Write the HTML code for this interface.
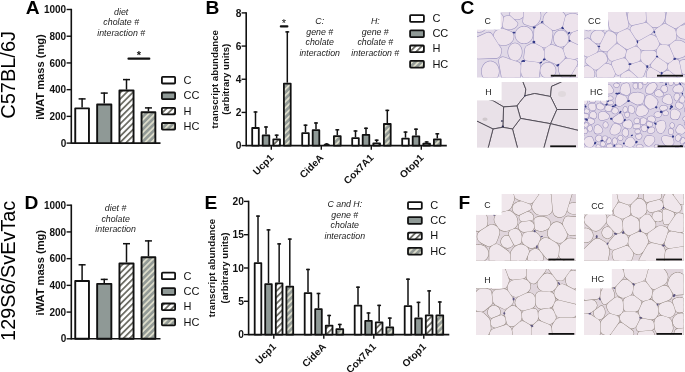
<!DOCTYPE html>
<html><head><meta charset="utf-8"><style>
html,body{margin:0;padding:0;background:#fff;overflow:hidden;}
svg{display:block;font-family:'Liberation Sans', Arial, Helvetica, sans-serif;}
</style></head><body>
<svg width="685" height="372" viewBox="0 0 685 372">
<defs>
<pattern id="hatchH" patternUnits="userSpaceOnUse" width="4.4" height="4.4" patternTransform="rotate(45)">
<rect width="4.4" height="4.4" fill="#ffffff"/><rect width="1.8" height="4.4" fill="#6e6e66"/></pattern>
<pattern id="hatchHC" patternUnits="userSpaceOnUse" width="4.4" height="4.4" patternTransform="rotate(45)">
<rect width="4.4" height="4.4" fill="#939a96"/><rect width="1.8" height="4.4" fill="#dcdccb"/></pattern>
<clipPath id="k1"><rect width="101" height="65.6"/></clipPath>
<clipPath id="k2"><rect width="101" height="65.6"/></clipPath>
<clipPath id="k3"><rect width="101" height="65.5"/></clipPath>
<clipPath id="k4"><rect width="101" height="65.5"/></clipPath>
<clipPath id="k5"><rect width="100" height="66.7"/></clipPath>
<clipPath id="k6"><rect width="99.5" height="66.7"/></clipPath>
<clipPath id="k7"><rect width="100" height="66"/></clipPath>
<clipPath id="k8"><rect width="99.5" height="66"/></clipPath>
</defs>
<rect width="685" height="372" fill="#fff"/>
<text transform="translate(15.00,118.80) rotate(-90)" font-size="20.0" font-weight="normal" text-anchor="start" fill="#000">C57BL/6J</text>
<text transform="translate(15.00,340.90) rotate(-90)" font-size="19.85" font-weight="normal" text-anchor="start" fill="#000">129S6/SvEvTac</text>
<text x="25.70" y="14.00" font-size="19.2" font-weight="bold" font-style="normal" text-anchor="start" fill="#000" >A</text>
<text x="205.40" y="14.00" font-size="19.2" font-weight="bold" font-style="normal" text-anchor="start" fill="#000" >B</text>
<text x="460.60" y="14.00" font-size="19.2" font-weight="bold" font-style="normal" text-anchor="start" fill="#000" >C</text>
<text x="24.60" y="208.80" font-size="19.2" font-weight="bold" font-style="normal" text-anchor="start" fill="#000" >D</text>
<text x="204.60" y="208.80" font-size="19.2" font-weight="bold" font-style="normal" text-anchor="start" fill="#000" >E</text>
<text x="458.60" y="208.90" font-size="19.2" font-weight="bold" font-style="normal" text-anchor="start" fill="#000" >F</text>
<line x1="71.30" y1="8.80" x2="71.30" y2="143.80" stroke="#111" stroke-width="1.6"/>
<line x1="71.30" y1="143.10" x2="160.50" y2="143.10" stroke="#111" stroke-width="1.6"/>
<line x1="66.60" y1="143.10" x2="71.30" y2="143.10" stroke="#111" stroke-width="1.4"/>
<text x="66.20" y="146.70" font-size="10.0" font-weight="bold" font-style="normal" text-anchor="end" fill="#111" >0</text>
<line x1="66.60" y1="116.38" x2="71.30" y2="116.38" stroke="#111" stroke-width="1.4"/>
<text x="66.20" y="119.98" font-size="10.0" font-weight="bold" font-style="normal" text-anchor="end" fill="#111" >200</text>
<line x1="66.60" y1="89.66" x2="71.30" y2="89.66" stroke="#111" stroke-width="1.4"/>
<text x="66.20" y="93.26" font-size="10.0" font-weight="bold" font-style="normal" text-anchor="end" fill="#111" >400</text>
<line x1="66.60" y1="62.94" x2="71.30" y2="62.94" stroke="#111" stroke-width="1.4"/>
<text x="66.20" y="66.54" font-size="10.0" font-weight="bold" font-style="normal" text-anchor="end" fill="#111" >600</text>
<line x1="66.60" y1="36.22" x2="71.30" y2="36.22" stroke="#111" stroke-width="1.4"/>
<text x="66.20" y="39.82" font-size="10.0" font-weight="bold" font-style="normal" text-anchor="end" fill="#111" >800</text>
<line x1="66.60" y1="9.50" x2="71.30" y2="9.50" stroke="#111" stroke-width="1.4"/>
<text x="66.20" y="13.10" font-size="10.0" font-weight="bold" font-style="normal" text-anchor="end" fill="#111" >1000</text>
<text transform="translate(43.90,77.00) rotate(-90)" font-size="11.1" font-weight="bold" text-anchor="middle" fill="#111">iWAT mass (mg)</text>
<line x1="82.10" y1="107.40" x2="82.10" y2="98.20" stroke="#111" stroke-width="1.5"/>
<line x1="78.60" y1="98.90" x2="85.60" y2="98.90" stroke="#111" stroke-width="1.5"/>
<rect x="75.25" y="108.35" width="13.70" height="34.75" fill="#ffffff" stroke="#111" stroke-width="1.9" stroke-linejoin="round"/>
<line x1="104.25" y1="103.50" x2="104.25" y2="92.40" stroke="#111" stroke-width="1.5"/>
<line x1="100.75" y1="93.10" x2="107.75" y2="93.10" stroke="#111" stroke-width="1.5"/>
<rect x="97.15" y="104.45" width="14.20" height="38.65" fill="#8f9996" stroke="#111" stroke-width="1.9" stroke-linejoin="round"/>
<line x1="126.50" y1="89.60" x2="126.50" y2="78.90" stroke="#111" stroke-width="1.5"/>
<line x1="123.00" y1="79.60" x2="130.00" y2="79.60" stroke="#111" stroke-width="1.5"/>
<rect x="119.45" y="90.55" width="14.10" height="52.55" fill="url(#hatchH)" stroke="#111" stroke-width="1.9" stroke-linejoin="round"/>
<line x1="148.45" y1="111.30" x2="148.45" y2="107.20" stroke="#111" stroke-width="1.5"/>
<line x1="144.95" y1="107.90" x2="151.95" y2="107.90" stroke="#111" stroke-width="1.5"/>
<rect x="141.55" y="112.25" width="13.80" height="30.85" fill="url(#hatchHC)" stroke="#111" stroke-width="1.9" stroke-linejoin="round"/>
<text x="121.20" y="14.50" font-size="8.8" font-weight="normal" font-style="italic" text-anchor="middle" fill="#222" >diet</text>
<text x="121.20" y="25.00" font-size="8.8" font-weight="normal" font-style="italic" text-anchor="middle" fill="#222" >cholate #</text>
<text x="121.20" y="35.50" font-size="8.8" font-weight="normal" font-style="italic" text-anchor="middle" fill="#222" >interaction #</text>
<line x1="128.5" y1="58.7" x2="149.3" y2="58.7" stroke="#111" stroke-width="2.2" stroke-linecap="round"/>
<text x="138.90" y="59.00" font-size="11" font-weight="bold" font-style="normal" text-anchor="middle" fill="#111" >*</text>
<rect x="161.90" y="76.90" width="13.20" height="6.60" rx="0.8" fill="#ffffff" stroke="#111" stroke-width="1.8" stroke-linejoin="round"/>
<text x="183.60" y="83.80" font-size="11" font-weight="normal" font-style="normal" text-anchor="start" fill="#111" >C</text>
<rect x="161.90" y="92.50" width="13.20" height="6.60" rx="0.8" fill="#8f9996" stroke="#111" stroke-width="1.8" stroke-linejoin="round"/>
<text x="183.60" y="99.40" font-size="11" font-weight="normal" font-style="normal" text-anchor="start" fill="#111" >CC</text>
<rect x="161.90" y="107.80" width="13.20" height="6.60" rx="0.8" fill="url(#hatchH)" stroke="#111" stroke-width="1.8" stroke-linejoin="round"/>
<text x="183.60" y="114.70" font-size="11" font-weight="normal" font-style="normal" text-anchor="start" fill="#111" >H</text>
<rect x="161.90" y="123.00" width="13.20" height="6.60" rx="0.8" fill="url(#hatchHC)" stroke="#111" stroke-width="1.8" stroke-linejoin="round"/>
<text x="183.60" y="129.90" font-size="11" font-weight="normal" font-style="normal" text-anchor="start" fill="#111" >HC</text>
<line x1="71.30" y1="204.50" x2="71.30" y2="339.50" stroke="#111" stroke-width="1.6"/>
<line x1="71.30" y1="338.80" x2="160.50" y2="338.80" stroke="#111" stroke-width="1.6"/>
<line x1="66.60" y1="338.80" x2="71.30" y2="338.80" stroke="#111" stroke-width="1.4"/>
<text x="66.20" y="342.40" font-size="10.0" font-weight="bold" font-style="normal" text-anchor="end" fill="#111" >0</text>
<line x1="66.60" y1="312.08" x2="71.30" y2="312.08" stroke="#111" stroke-width="1.4"/>
<text x="66.20" y="315.68" font-size="10.0" font-weight="bold" font-style="normal" text-anchor="end" fill="#111" >200</text>
<line x1="66.60" y1="285.36" x2="71.30" y2="285.36" stroke="#111" stroke-width="1.4"/>
<text x="66.20" y="288.96" font-size="10.0" font-weight="bold" font-style="normal" text-anchor="end" fill="#111" >400</text>
<line x1="66.60" y1="258.64" x2="71.30" y2="258.64" stroke="#111" stroke-width="1.4"/>
<text x="66.20" y="262.24" font-size="10.0" font-weight="bold" font-style="normal" text-anchor="end" fill="#111" >600</text>
<line x1="66.60" y1="231.92" x2="71.30" y2="231.92" stroke="#111" stroke-width="1.4"/>
<text x="66.20" y="235.52" font-size="10.0" font-weight="bold" font-style="normal" text-anchor="end" fill="#111" >800</text>
<line x1="66.60" y1="205.20" x2="71.30" y2="205.20" stroke="#111" stroke-width="1.4"/>
<text x="66.20" y="208.80" font-size="10.0" font-weight="bold" font-style="normal" text-anchor="end" fill="#111" >1000</text>
<text transform="translate(43.90,272.70) rotate(-90)" font-size="11.1" font-weight="bold" text-anchor="middle" fill="#111">iWAT mass (mg)</text>
<line x1="82.10" y1="280.10" x2="82.10" y2="264.10" stroke="#111" stroke-width="1.5"/>
<line x1="78.60" y1="264.80" x2="85.60" y2="264.80" stroke="#111" stroke-width="1.5"/>
<rect x="75.25" y="281.05" width="13.70" height="57.75" fill="#ffffff" stroke="#111" stroke-width="1.9" stroke-linejoin="round"/>
<line x1="104.25" y1="282.90" x2="104.25" y2="278.70" stroke="#111" stroke-width="1.5"/>
<line x1="100.75" y1="279.40" x2="107.75" y2="279.40" stroke="#111" stroke-width="1.5"/>
<rect x="97.15" y="283.85" width="14.20" height="54.95" fill="#8f9996" stroke="#111" stroke-width="1.9" stroke-linejoin="round"/>
<line x1="126.50" y1="262.50" x2="126.50" y2="243.00" stroke="#111" stroke-width="1.5"/>
<line x1="123.00" y1="243.70" x2="130.00" y2="243.70" stroke="#111" stroke-width="1.5"/>
<rect x="119.45" y="263.45" width="14.10" height="75.35" fill="url(#hatchH)" stroke="#111" stroke-width="1.9" stroke-linejoin="round"/>
<line x1="148.45" y1="256.30" x2="148.45" y2="240.20" stroke="#111" stroke-width="1.5"/>
<line x1="144.95" y1="240.90" x2="151.95" y2="240.90" stroke="#111" stroke-width="1.5"/>
<rect x="141.55" y="257.25" width="13.80" height="81.55" fill="url(#hatchHC)" stroke="#111" stroke-width="1.9" stroke-linejoin="round"/>
<text x="115.60" y="210.90" font-size="8.8" font-weight="normal" font-style="italic" text-anchor="middle" fill="#222" >diet #</text>
<text x="115.60" y="221.55" font-size="8.8" font-weight="normal" font-style="italic" text-anchor="middle" fill="#222" >cholate</text>
<text x="115.60" y="232.20" font-size="8.8" font-weight="normal" font-style="italic" text-anchor="middle" fill="#222" >interaction</text>
<rect x="161.90" y="272.60" width="13.20" height="6.60" rx="0.8" fill="#ffffff" stroke="#111" stroke-width="1.8" stroke-linejoin="round"/>
<text x="183.60" y="279.50" font-size="11" font-weight="normal" font-style="normal" text-anchor="start" fill="#111" >C</text>
<rect x="161.90" y="288.20" width="13.20" height="6.60" rx="0.8" fill="#8f9996" stroke="#111" stroke-width="1.8" stroke-linejoin="round"/>
<text x="183.60" y="295.10" font-size="11" font-weight="normal" font-style="normal" text-anchor="start" fill="#111" >CC</text>
<rect x="161.90" y="303.50" width="13.20" height="6.60" rx="0.8" fill="url(#hatchH)" stroke="#111" stroke-width="1.8" stroke-linejoin="round"/>
<text x="183.60" y="310.40" font-size="11" font-weight="normal" font-style="normal" text-anchor="start" fill="#111" >H</text>
<rect x="161.90" y="318.70" width="13.20" height="6.60" rx="0.8" fill="url(#hatchHC)" stroke="#111" stroke-width="1.8" stroke-linejoin="round"/>
<text x="183.60" y="325.60" font-size="11" font-weight="normal" font-style="normal" text-anchor="start" fill="#111" >HC</text>
<line x1="246.20" y1="12.20" x2="246.20" y2="146.30" stroke="#111" stroke-width="1.6"/>
<line x1="246.20" y1="145.60" x2="446.80" y2="145.60" stroke="#111" stroke-width="1.6"/>
<line x1="241.60" y1="145.60" x2="246.20" y2="145.60" stroke="#111" stroke-width="1.4"/>
<text x="241.50" y="149.20" font-size="10.2" font-weight="bold" font-style="normal" text-anchor="end" fill="#111" >0</text>
<line x1="241.60" y1="112.42" x2="246.20" y2="112.42" stroke="#111" stroke-width="1.4"/>
<text x="241.50" y="116.02" font-size="10.2" font-weight="bold" font-style="normal" text-anchor="end" fill="#111" >2</text>
<line x1="241.60" y1="79.25" x2="246.20" y2="79.25" stroke="#111" stroke-width="1.4"/>
<text x="241.50" y="82.85" font-size="10.2" font-weight="bold" font-style="normal" text-anchor="end" fill="#111" >4</text>
<line x1="241.60" y1="46.08" x2="246.20" y2="46.08" stroke="#111" stroke-width="1.4"/>
<text x="241.50" y="49.68" font-size="10.2" font-weight="bold" font-style="normal" text-anchor="end" fill="#111" >6</text>
<line x1="241.60" y1="12.90" x2="246.20" y2="12.90" stroke="#111" stroke-width="1.4"/>
<text x="241.50" y="16.50" font-size="10.2" font-weight="bold" font-style="normal" text-anchor="end" fill="#111" >8</text>
<line x1="271.30" y1="145.60" x2="271.30" y2="149.80" stroke="#111" stroke-width="1.4"/>
<line x1="255.50" y1="127.10" x2="255.50" y2="111.30" stroke="#111" stroke-width="1.5"/>
<line x1="253.60" y1="112.00" x2="257.40" y2="112.00" stroke="#111" stroke-width="1.5"/>
<rect x="252.20" y="128.00" width="6.60" height="17.60" fill="#ffffff" stroke="#111" stroke-width="1.8" stroke-linejoin="round"/>
<line x1="266.00" y1="134.50" x2="266.00" y2="126.30" stroke="#111" stroke-width="1.5"/>
<line x1="264.10" y1="127.00" x2="267.90" y2="127.00" stroke="#111" stroke-width="1.5"/>
<rect x="262.70" y="135.40" width="6.60" height="10.20" fill="#8f9996" stroke="#111" stroke-width="1.8" stroke-linejoin="round"/>
<line x1="276.65" y1="138.40" x2="276.65" y2="134.50" stroke="#111" stroke-width="1.5"/>
<line x1="274.75" y1="135.20" x2="278.55" y2="135.20" stroke="#111" stroke-width="1.5"/>
<rect x="273.30" y="139.30" width="6.70" height="6.30" fill="url(#hatchH)" stroke="#111" stroke-width="1.8" stroke-linejoin="round"/>
<line x1="287.30" y1="82.70" x2="287.30" y2="31.20" stroke="#111" stroke-width="1.5"/>
<line x1="285.40" y1="31.90" x2="289.20" y2="31.90" stroke="#111" stroke-width="1.5"/>
<rect x="283.90" y="83.60" width="6.80" height="62.00" fill="url(#hatchHC)" stroke="#111" stroke-width="1.8" stroke-linejoin="round"/>
<text transform="translate(274.20,158.40) rotate(-45)" font-size="10" font-weight="bold" text-anchor="end" fill="#111">Ucp1</text>
<line x1="321.30" y1="145.60" x2="321.30" y2="149.80" stroke="#111" stroke-width="1.4"/>
<line x1="305.50" y1="132.30" x2="305.50" y2="124.50" stroke="#111" stroke-width="1.5"/>
<line x1="303.60" y1="125.20" x2="307.40" y2="125.20" stroke="#111" stroke-width="1.5"/>
<rect x="302.20" y="133.20" width="6.60" height="12.40" fill="#ffffff" stroke="#111" stroke-width="1.8" stroke-linejoin="round"/>
<line x1="316.00" y1="129.30" x2="316.00" y2="122.30" stroke="#111" stroke-width="1.5"/>
<line x1="314.10" y1="123.00" x2="317.90" y2="123.00" stroke="#111" stroke-width="1.5"/>
<rect x="312.70" y="130.20" width="6.60" height="15.40" fill="#8f9996" stroke="#111" stroke-width="1.8" stroke-linejoin="round"/>
<path d="M322.80,145.60 L324.60,143.70 Q326.65,142.50 328.70,143.70 L330.70,145.60 Z" fill="#111"/>
<line x1="337.30" y1="135.30" x2="337.30" y2="129.10" stroke="#111" stroke-width="1.5"/>
<line x1="335.40" y1="129.80" x2="339.20" y2="129.80" stroke="#111" stroke-width="1.5"/>
<rect x="333.90" y="136.20" width="6.80" height="9.40" fill="url(#hatchHC)" stroke="#111" stroke-width="1.8" stroke-linejoin="round"/>
<text transform="translate(324.20,158.40) rotate(-45)" font-size="10" font-weight="bold" text-anchor="end" fill="#111">CideA</text>
<line x1="371.30" y1="145.60" x2="371.30" y2="149.80" stroke="#111" stroke-width="1.4"/>
<line x1="355.50" y1="137.30" x2="355.50" y2="130.30" stroke="#111" stroke-width="1.5"/>
<line x1="353.60" y1="131.00" x2="357.40" y2="131.00" stroke="#111" stroke-width="1.5"/>
<rect x="352.20" y="138.20" width="6.60" height="7.40" fill="#ffffff" stroke="#111" stroke-width="1.8" stroke-linejoin="round"/>
<line x1="366.00" y1="133.90" x2="366.00" y2="127.60" stroke="#111" stroke-width="1.5"/>
<line x1="364.10" y1="128.30" x2="367.90" y2="128.30" stroke="#111" stroke-width="1.5"/>
<rect x="362.70" y="134.80" width="6.60" height="10.80" fill="#8f9996" stroke="#111" stroke-width="1.8" stroke-linejoin="round"/>
<line x1="376.65" y1="142.40" x2="376.65" y2="139.50" stroke="#111" stroke-width="1.5"/>
<line x1="374.75" y1="140.20" x2="378.55" y2="140.20" stroke="#111" stroke-width="1.5"/>
<rect x="373.30" y="143.30" width="6.70" height="2.30" fill="url(#hatchH)" stroke="#111" stroke-width="1.8" stroke-linejoin="round"/>
<line x1="387.30" y1="123.10" x2="387.30" y2="109.70" stroke="#111" stroke-width="1.5"/>
<line x1="385.40" y1="110.40" x2="389.20" y2="110.40" stroke="#111" stroke-width="1.5"/>
<rect x="383.90" y="124.00" width="6.80" height="21.60" fill="url(#hatchHC)" stroke="#111" stroke-width="1.8" stroke-linejoin="round"/>
<text transform="translate(374.20,158.40) rotate(-45)" font-size="10" font-weight="bold" text-anchor="end" fill="#111">Cox7A1</text>
<line x1="421.30" y1="145.60" x2="421.30" y2="149.80" stroke="#111" stroke-width="1.4"/>
<line x1="405.50" y1="137.70" x2="405.50" y2="131.40" stroke="#111" stroke-width="1.5"/>
<line x1="403.60" y1="132.10" x2="407.40" y2="132.10" stroke="#111" stroke-width="1.5"/>
<rect x="402.20" y="138.60" width="6.60" height="7.00" fill="#ffffff" stroke="#111" stroke-width="1.8" stroke-linejoin="round"/>
<line x1="416.00" y1="135.40" x2="416.00" y2="128.50" stroke="#111" stroke-width="1.5"/>
<line x1="414.10" y1="129.20" x2="417.90" y2="129.20" stroke="#111" stroke-width="1.5"/>
<rect x="412.70" y="136.30" width="6.60" height="9.30" fill="#8f9996" stroke="#111" stroke-width="1.8" stroke-linejoin="round"/>
<line x1="426.65" y1="142.80" x2="426.65" y2="141.30" stroke="#111" stroke-width="1.5"/>
<line x1="424.75" y1="142.00" x2="428.55" y2="142.00" stroke="#111" stroke-width="1.5"/>
<rect x="423.30" y="143.70" width="6.70" height="1.90" fill="url(#hatchH)" stroke="#111" stroke-width="1.8" stroke-linejoin="round"/>
<line x1="437.30" y1="138.40" x2="437.30" y2="133.10" stroke="#111" stroke-width="1.5"/>
<line x1="435.40" y1="133.80" x2="439.20" y2="133.80" stroke="#111" stroke-width="1.5"/>
<rect x="433.90" y="139.30" width="6.80" height="6.30" fill="url(#hatchHC)" stroke="#111" stroke-width="1.8" stroke-linejoin="round"/>
<text transform="translate(424.20,158.40) rotate(-45)" font-size="10" font-weight="bold" text-anchor="end" fill="#111">Otop1</text>
<text transform="translate(217.90,79.25) rotate(-90)" font-size="9.7" font-weight="bold" text-anchor="middle" fill="#111">transcript abundance</text>
<text transform="translate(229.40,79.25) rotate(-90)" font-size="9.6" font-weight="bold" text-anchor="middle" fill="#111">(arbitrary units)</text>
<text x="319.70" y="24.10" font-size="8.8" font-weight="normal" font-style="italic" text-anchor="middle" fill="#222" >C:</text>
<text x="319.70" y="34.60" font-size="8.8" font-weight="normal" font-style="italic" text-anchor="middle" fill="#222" >gene #</text>
<text x="319.70" y="45.10" font-size="8.8" font-weight="normal" font-style="italic" text-anchor="middle" fill="#222" >cholate</text>
<text x="319.70" y="55.60" font-size="8.8" font-weight="normal" font-style="italic" text-anchor="middle" fill="#222" >interaction</text>
<text x="375.30" y="24.10" font-size="8.8" font-weight="normal" font-style="italic" text-anchor="middle" fill="#222" >H:</text>
<text x="375.30" y="34.60" font-size="8.8" font-weight="normal" font-style="italic" text-anchor="middle" fill="#222" >gene #</text>
<text x="375.30" y="45.10" font-size="8.8" font-weight="normal" font-style="italic" text-anchor="middle" fill="#222" >cholate #</text>
<text x="375.30" y="55.60" font-size="8.8" font-weight="normal" font-style="italic" text-anchor="middle" fill="#222" >interaction #</text>
<rect x="410.10" y="15.10" width="13.80" height="6.70" rx="0.8" fill="#ffffff" stroke="#111" stroke-width="1.8" stroke-linejoin="round"/>
<text x="432.40" y="21.70" font-size="11" font-weight="normal" font-style="normal" text-anchor="start" fill="#111" >C</text>
<rect x="410.10" y="30.40" width="13.80" height="6.70" rx="0.8" fill="#8f9996" stroke="#111" stroke-width="1.8" stroke-linejoin="round"/>
<text x="432.40" y="37.00" font-size="11" font-weight="normal" font-style="normal" text-anchor="start" fill="#111" >CC</text>
<rect x="410.10" y="45.50" width="13.80" height="6.70" rx="0.8" fill="url(#hatchH)" stroke="#111" stroke-width="1.8" stroke-linejoin="round"/>
<text x="432.40" y="52.10" font-size="11" font-weight="normal" font-style="normal" text-anchor="start" fill="#111" >H</text>
<rect x="410.10" y="60.90" width="13.80" height="6.70" rx="0.8" fill="url(#hatchHC)" stroke="#111" stroke-width="1.8" stroke-linejoin="round"/>
<text x="432.40" y="67.50" font-size="11" font-weight="normal" font-style="normal" text-anchor="start" fill="#111" >HC</text>
<line x1="280.9" y1="26.4" x2="287.3" y2="26.4" stroke="#111" stroke-width="2.3" stroke-linecap="round"/>
<text x="283.80" y="27.30" font-size="11" font-weight="normal" font-style="normal" text-anchor="middle" fill="#111" >*</text>
<line x1="248.60" y1="200.70" x2="248.60" y2="335.30" stroke="#111" stroke-width="1.6"/>
<line x1="248.60" y1="334.60" x2="449.30" y2="334.60" stroke="#111" stroke-width="1.6"/>
<line x1="244.00" y1="334.60" x2="248.60" y2="334.60" stroke="#111" stroke-width="1.4"/>
<text x="243.90" y="338.20" font-size="10.2" font-weight="bold" font-style="normal" text-anchor="end" fill="#111" >0</text>
<line x1="244.00" y1="301.30" x2="248.60" y2="301.30" stroke="#111" stroke-width="1.4"/>
<text x="243.90" y="304.90" font-size="10.2" font-weight="bold" font-style="normal" text-anchor="end" fill="#111" >5</text>
<line x1="244.00" y1="268.00" x2="248.60" y2="268.00" stroke="#111" stroke-width="1.4"/>
<text x="243.90" y="271.60" font-size="10.2" font-weight="bold" font-style="normal" text-anchor="end" fill="#111" >10</text>
<line x1="244.00" y1="234.70" x2="248.60" y2="234.70" stroke="#111" stroke-width="1.4"/>
<text x="243.90" y="238.30" font-size="10.2" font-weight="bold" font-style="normal" text-anchor="end" fill="#111" >15</text>
<line x1="244.00" y1="201.40" x2="248.60" y2="201.40" stroke="#111" stroke-width="1.4"/>
<text x="243.90" y="205.00" font-size="10.2" font-weight="bold" font-style="normal" text-anchor="end" fill="#111" >20</text>
<line x1="273.80" y1="334.60" x2="273.80" y2="338.80" stroke="#111" stroke-width="1.4"/>
<line x1="258.00" y1="262.20" x2="258.00" y2="215.40" stroke="#111" stroke-width="1.5"/>
<line x1="256.10" y1="216.10" x2="259.90" y2="216.10" stroke="#111" stroke-width="1.5"/>
<rect x="254.70" y="263.10" width="6.60" height="71.50" fill="#ffffff" stroke="#111" stroke-width="1.8" stroke-linejoin="round"/>
<line x1="268.50" y1="283.30" x2="268.50" y2="229.20" stroke="#111" stroke-width="1.5"/>
<line x1="266.60" y1="229.90" x2="270.40" y2="229.90" stroke="#111" stroke-width="1.5"/>
<rect x="265.20" y="284.20" width="6.60" height="50.40" fill="#8f9996" stroke="#111" stroke-width="1.8" stroke-linejoin="round"/>
<line x1="279.15" y1="282.40" x2="279.15" y2="243.20" stroke="#111" stroke-width="1.5"/>
<line x1="277.25" y1="243.90" x2="281.05" y2="243.90" stroke="#111" stroke-width="1.5"/>
<rect x="275.80" y="283.30" width="6.70" height="51.30" fill="url(#hatchH)" stroke="#111" stroke-width="1.8" stroke-linejoin="round"/>
<line x1="289.80" y1="285.80" x2="289.80" y2="238.40" stroke="#111" stroke-width="1.5"/>
<line x1="287.90" y1="239.10" x2="291.70" y2="239.10" stroke="#111" stroke-width="1.5"/>
<rect x="286.40" y="286.70" width="6.80" height="47.90" fill="url(#hatchHC)" stroke="#111" stroke-width="1.8" stroke-linejoin="round"/>
<text transform="translate(276.70,347.40) rotate(-45)" font-size="10" font-weight="bold" text-anchor="end" fill="#111">Ucp1</text>
<line x1="323.80" y1="334.60" x2="323.80" y2="338.80" stroke="#111" stroke-width="1.4"/>
<line x1="308.00" y1="292.20" x2="308.00" y2="268.80" stroke="#111" stroke-width="1.5"/>
<line x1="306.10" y1="269.50" x2="309.90" y2="269.50" stroke="#111" stroke-width="1.5"/>
<rect x="304.70" y="293.10" width="6.60" height="41.50" fill="#ffffff" stroke="#111" stroke-width="1.8" stroke-linejoin="round"/>
<line x1="318.50" y1="308.30" x2="318.50" y2="292.80" stroke="#111" stroke-width="1.5"/>
<line x1="316.60" y1="293.50" x2="320.40" y2="293.50" stroke="#111" stroke-width="1.5"/>
<rect x="315.20" y="309.20" width="6.60" height="25.40" fill="#8f9996" stroke="#111" stroke-width="1.8" stroke-linejoin="round"/>
<line x1="329.15" y1="324.70" x2="329.15" y2="314.80" stroke="#111" stroke-width="1.5"/>
<line x1="327.25" y1="315.50" x2="331.05" y2="315.50" stroke="#111" stroke-width="1.5"/>
<rect x="325.80" y="325.60" width="6.70" height="9.00" fill="url(#hatchH)" stroke="#111" stroke-width="1.8" stroke-linejoin="round"/>
<line x1="339.80" y1="328.30" x2="339.80" y2="323.80" stroke="#111" stroke-width="1.5"/>
<line x1="337.90" y1="324.50" x2="341.70" y2="324.50" stroke="#111" stroke-width="1.5"/>
<rect x="336.40" y="329.20" width="6.80" height="5.40" fill="url(#hatchHC)" stroke="#111" stroke-width="1.8" stroke-linejoin="round"/>
<text transform="translate(326.70,347.40) rotate(-45)" font-size="10" font-weight="bold" text-anchor="end" fill="#111">CideA</text>
<line x1="373.80" y1="334.60" x2="373.80" y2="338.80" stroke="#111" stroke-width="1.4"/>
<line x1="358.00" y1="304.70" x2="358.00" y2="286.50" stroke="#111" stroke-width="1.5"/>
<line x1="356.10" y1="287.20" x2="359.90" y2="287.20" stroke="#111" stroke-width="1.5"/>
<rect x="354.70" y="305.60" width="6.60" height="29.00" fill="#ffffff" stroke="#111" stroke-width="1.8" stroke-linejoin="round"/>
<line x1="368.50" y1="320.00" x2="368.50" y2="312.30" stroke="#111" stroke-width="1.5"/>
<line x1="366.60" y1="313.00" x2="370.40" y2="313.00" stroke="#111" stroke-width="1.5"/>
<rect x="365.20" y="320.90" width="6.60" height="13.70" fill="#8f9996" stroke="#111" stroke-width="1.8" stroke-linejoin="round"/>
<line x1="379.15" y1="321.40" x2="379.15" y2="304.70" stroke="#111" stroke-width="1.5"/>
<line x1="377.25" y1="305.40" x2="381.05" y2="305.40" stroke="#111" stroke-width="1.5"/>
<rect x="375.80" y="322.30" width="6.70" height="12.30" fill="url(#hatchH)" stroke="#111" stroke-width="1.8" stroke-linejoin="round"/>
<line x1="389.80" y1="326.50" x2="389.80" y2="317.40" stroke="#111" stroke-width="1.5"/>
<line x1="387.90" y1="318.10" x2="391.70" y2="318.10" stroke="#111" stroke-width="1.5"/>
<rect x="386.40" y="327.40" width="6.80" height="7.20" fill="url(#hatchHC)" stroke="#111" stroke-width="1.8" stroke-linejoin="round"/>
<text transform="translate(376.70,347.40) rotate(-45)" font-size="10" font-weight="bold" text-anchor="end" fill="#111">Cox7A1</text>
<line x1="423.80" y1="334.60" x2="423.80" y2="338.80" stroke="#111" stroke-width="1.4"/>
<line x1="408.00" y1="305.30" x2="408.00" y2="278.50" stroke="#111" stroke-width="1.5"/>
<line x1="406.10" y1="279.20" x2="409.90" y2="279.20" stroke="#111" stroke-width="1.5"/>
<rect x="404.70" y="306.20" width="6.60" height="28.40" fill="#ffffff" stroke="#111" stroke-width="1.8" stroke-linejoin="round"/>
<line x1="418.50" y1="317.40" x2="418.50" y2="301.70" stroke="#111" stroke-width="1.5"/>
<line x1="416.60" y1="302.40" x2="420.40" y2="302.40" stroke="#111" stroke-width="1.5"/>
<rect x="415.20" y="318.30" width="6.60" height="16.30" fill="#8f9996" stroke="#111" stroke-width="1.8" stroke-linejoin="round"/>
<line x1="429.15" y1="314.40" x2="429.15" y2="290.20" stroke="#111" stroke-width="1.5"/>
<line x1="427.25" y1="290.90" x2="431.05" y2="290.90" stroke="#111" stroke-width="1.5"/>
<rect x="425.80" y="315.30" width="6.70" height="19.30" fill="url(#hatchH)" stroke="#111" stroke-width="1.8" stroke-linejoin="round"/>
<line x1="439.80" y1="314.40" x2="439.80" y2="301.30" stroke="#111" stroke-width="1.5"/>
<line x1="437.90" y1="302.00" x2="441.70" y2="302.00" stroke="#111" stroke-width="1.5"/>
<rect x="436.40" y="315.30" width="6.80" height="19.30" fill="url(#hatchHC)" stroke="#111" stroke-width="1.8" stroke-linejoin="round"/>
<text transform="translate(426.70,347.40) rotate(-45)" font-size="10" font-weight="bold" text-anchor="end" fill="#111">Otop1</text>
<text transform="translate(214.90,268.00) rotate(-90)" font-size="9.7" font-weight="bold" text-anchor="middle" fill="#111">transcript abundance</text>
<text transform="translate(227.70,268.00) rotate(-90)" font-size="9.6" font-weight="bold" text-anchor="middle" fill="#111">(arbitrary units)</text>
<text x="344.80" y="207.40" font-size="8.8" font-weight="normal" font-style="italic" text-anchor="middle" fill="#222" >C and H:</text>
<text x="344.80" y="217.90" font-size="8.8" font-weight="normal" font-style="italic" text-anchor="middle" fill="#222" >gene #</text>
<text x="344.80" y="228.40" font-size="8.8" font-weight="normal" font-style="italic" text-anchor="middle" fill="#222" >cholate</text>
<text x="344.80" y="238.90" font-size="8.8" font-weight="normal" font-style="italic" text-anchor="middle" fill="#222" >interaction</text>
<rect x="408.00" y="202.10" width="13.80" height="6.70" rx="0.8" fill="#ffffff" stroke="#111" stroke-width="1.8" stroke-linejoin="round"/>
<text x="430.30" y="208.70" font-size="11" font-weight="normal" font-style="normal" text-anchor="start" fill="#111" >C</text>
<rect x="408.00" y="217.10" width="13.80" height="6.70" rx="0.8" fill="#8f9996" stroke="#111" stroke-width="1.8" stroke-linejoin="round"/>
<text x="430.30" y="223.70" font-size="11" font-weight="normal" font-style="normal" text-anchor="start" fill="#111" >CC</text>
<rect x="408.00" y="232.70" width="13.80" height="6.70" rx="0.8" fill="url(#hatchH)" stroke="#111" stroke-width="1.8" stroke-linejoin="round"/>
<text x="430.30" y="239.30" font-size="11" font-weight="normal" font-style="normal" text-anchor="start" fill="#111" >H</text>
<rect x="408.00" y="247.90" width="13.80" height="6.70" rx="0.8" fill="url(#hatchHC)" stroke="#111" stroke-width="1.8" stroke-linejoin="round"/>
<text x="430.30" y="254.50" font-size="11" font-weight="normal" font-style="normal" text-anchor="start" fill="#111" >HC</text>
<g transform="translate(477,12)" clip-path="url(#k1)">
<rect x="-1" y="-1" width="103" height="67.6" fill="#e1d9e7"/>
<path d="M11.5,24.5 L20.5,38.5 L19.7,41.7 L19.3,42.1 L1.5,42.7 L-0.3,41.2 L-2.1,38.9 L-3.2,36.3 L-3.6,33.7 L-3.2,31.1 L-3.2,31.0Z" fill="#9a92c0" stroke="#9a92c0" stroke-width="9.1" stroke-linejoin="round"/>
<path d="M51.4,-4.1 L53.0,-4.3 L54.6,-4.1 L56.0,-3.6 L57.4,-2.7 L58.5,-1.4 L59.4,0.0 L60.0,1.7 L60.2,3.5 L60.0,5.3 L59.4,7.0 L58.5,8.4 L57.4,9.7 L56.0,10.6 L55.0,10.9 L49.5,9.2 L51.0,-3.9Z" fill="#9a92c0" stroke="#9a92c0" stroke-width="8.1" stroke-linejoin="round"/>
<path d="M50.8,27.4 L49.6,28.1 L48.3,28.6 L47.0,28.7 L45.7,28.6 L44.4,28.1 L43.2,27.4 L42.3,26.5 L41.6,25.4 L41.2,24.3 L41.0,23.0 L41.2,21.7 L41.6,20.6 L42.3,19.5 L43.2,18.6 L44.4,17.9 L45.7,17.4 L47.0,17.3 L48.3,17.4 L49.6,17.9 L50.8,18.6 L51.7,19.5 L52.4,20.6 L52.8,21.7 L53.0,23.0 L52.8,24.3 L52.4,25.4 L51.7,26.5Z" fill="#9a92c0" stroke="#9a92c0" stroke-width="6.6" stroke-linejoin="round"/>
<path d="M67.2,31.5 L60.7,28.0 L61.2,17.8 L64.5,15.6 L71.7,20.8 L70.4,29.5Z" fill="#9a92c0" stroke="#9a92c0" stroke-width="9.1" stroke-linejoin="round"/>
<path d="M81.8,2.1 L83.4,2.9 L84.6,4.0 L82.3,13.0 L77.3,14.6 L76.6,14.6 L70.1,9.9 L69.9,9.4 L69.7,8.0 L69.9,6.6 L70.4,5.3 L71.3,4.0 L72.6,2.9 L74.2,2.1 L76.0,1.5 L78.0,1.3 L80.0,1.5Z" fill="#9a92c0" stroke="#9a92c0" stroke-width="8.1" stroke-linejoin="round"/>
<path d="M93.0,17.3 L89.6,14.5 L91.6,6.2 L92.4,5.8 L94.0,5.2 L95.7,5.0 L97.4,5.2 L99.0,5.8 L100.5,6.7 L101.7,7.8 L102.6,9.2 L103.1,10.8 L103.3,12.4 L103.2,13.3Z" fill="#9a92c0" stroke="#9a92c0" stroke-width="8.1" stroke-linejoin="round"/>
<path d="M84.0,20.9 L85.0,21.0 L86.0,21.4 L86.9,22.0 L87.7,22.9 L88.3,24.0 L88.7,25.3 L88.9,26.6 L88.7,27.9 L88.3,29.2 L88.0,29.9 L86.6,31.4 L86.0,31.8 L85.0,32.2 L84.0,32.3 L83.0,32.2 L82.0,31.8 L81.1,31.2 L80.3,30.3 L79.7,29.2 L79.3,27.9 L79.1,26.6 L79.3,25.3 L79.7,24.0 L80.3,22.9 L81.1,22.0 L82.0,21.4 L83.0,21.0Z" fill="#9a92c0" stroke="#9a92c0" stroke-width="6.1" stroke-linejoin="round"/>
<path d="M101.2,42.0 L99.6,42.8 L97.7,43.4 L96.3,43.5 L91.6,42.7 L89.9,37.3 L93.5,33.3 L104.0,38.3 L104.0,38.3 L103.4,39.6 L102.5,40.9Z" fill="#9a92c0" stroke="#9a92c0" stroke-width="8.1" stroke-linejoin="round"/>
<path d="M80.2,48.4 L71.5,44.6 L71.5,38.6 L74.7,36.7 L82.4,39.6 L84.0,44.7Z" fill="#9a92c0" stroke="#9a92c0" stroke-width="9.1" stroke-linejoin="round"/>
<path d="M63.6,40.2 L63.6,44.8 L63.3,45.8 L63.0,46.3 L62.6,46.7 L50.5,45.2 L51.6,37.0 L51.8,36.9 L55.7,35.0 L56.7,34.9 L56.8,34.9 L62.5,37.9 L63.3,39.2Z" fill="#9a92c0" stroke="#9a92c0" stroke-width="8.1" stroke-linejoin="round"/>
<path d="M39.7,34.2 L40.5,34.9 L41.3,35.9 L41.9,37.1 L42.3,38.5 L42.4,40.0 L42.3,41.5 L41.9,42.9 L41.3,44.1 L40.5,45.1 L39.7,45.8 L38.8,46.1 L38.7,46.2 L35.5,45.1 L34.7,44.1 L34.1,42.9 L33.7,41.5 L33.6,40.0 L33.7,38.5 L34.1,37.1 L34.7,35.9 L35.5,34.9 L36.3,34.2 L37.2,33.9 L38.0,33.7 L38.8,33.9Z" fill="#9a92c0" stroke="#9a92c0" stroke-width="6.1" stroke-linejoin="round"/>
<path d="M39.4,64.7 L39.3,64.8 L37.3,66.1 L35.1,67.0 L32.8,67.2 L30.5,67.0 L28.9,66.4 L25.8,49.1 L39.8,53.8Z" fill="#9a92c0" stroke="#9a92c0" stroke-width="9.1" stroke-linejoin="round"/>
<path d="M56.5,66.3 L55.0,66.5 L53.5,66.3 L52.1,65.7 L50.7,64.6 L49.4,63.1 L48.4,61.2 L48.0,59.7 L48.2,52.9 L59.2,54.2 L57.9,65.7Z" fill="#9a92c0" stroke="#9a92c0" stroke-width="9.1" stroke-linejoin="round"/>
<path d="M15.6,65.9 L14.5,66.4 L13.3,66.5 L12.1,66.4 L11.0,65.9 L9.9,65.1 L9.0,64.0 L8.2,62.6 L7.8,61.1 L7.6,59.4 L7.8,57.7 L8.2,56.2 L9.0,54.8 L9.9,53.7 L11.0,52.9 L12.1,52.4 L13.3,52.3 L14.5,52.4 L15.6,52.9 L16.7,53.7 L17.6,54.8 L18.4,56.2 L18.8,57.7 L19.0,59.4 L18.8,61.1 L18.4,62.6 L17.6,64.0 L16.7,65.1Z" fill="#9a92c0" stroke="#9a92c0" stroke-width="7.1" stroke-linejoin="round"/>
<path d="M31.2,28.9 L29.8,29.7 L28.3,30.2 L26.6,30.3 L24.9,30.2 L23.7,29.8 L19.7,23.5 L19.7,23.4 L20.1,22.3 L20.8,21.3 L25.2,19.5 L33.2,22.5 L33.5,23.4 L33.6,23.8 L33.7,24.8 L33.5,25.8 L33.1,26.9 L32.3,28.0Z" fill="#9a92c0" stroke="#9a92c0" stroke-width="7.1" stroke-linejoin="round"/>
<path d="M89.3,64.3 L89.3,64.2 L88.0,63.3 L86.9,62.0 L86.0,60.5 L85.4,58.6 L85.3,56.7 L85.4,54.8 L85.6,54.2 L90.0,49.9 L97.0,51.2 L97.0,51.2Z" fill="#9a92c0" stroke="#9a92c0" stroke-width="8.1" stroke-linejoin="round"/>
<path d="M73.3,63.3 L72.2,63.7 L71.0,63.8 L69.8,63.7 L68.7,63.3 L67.7,62.7 L66.9,61.8 L66.3,60.8 L65.9,59.7 L65.8,58.5 L65.9,57.3 L66.3,56.2 L66.9,55.2 L67.7,54.3 L68.7,53.7 L69.8,53.3 L71.0,53.2 L72.2,53.3 L73.3,53.7 L74.3,54.3 L75.1,55.2 L75.7,56.2 L76.1,57.3 L76.2,58.5 L76.1,59.7 L75.7,60.8 L75.1,61.8 L74.3,62.7Z" fill="#9a92c0" stroke="#9a92c0" stroke-width="6.1" stroke-linejoin="round"/>
<path d="M36.3,13.8 L35.0,14.4 L33.6,14.7 L32.0,14.9 L30.4,14.7 L29.0,14.4 L28.2,14.0 L29.1,6.8 L30.4,6.5 L32.0,6.3 L32.1,6.3 L38.1,11.9 L37.9,12.2 L37.3,13.0Z" fill="#9a92c0" stroke="#9a92c0" stroke-width="6.1" stroke-linejoin="round"/>
<path d="M44.5,0.6 L44.2,3.9 L43.4,4.5 L42.4,5.0 L41.2,5.3 L40.0,5.4 L38.8,5.3 L37.9,5.1 L35.0,2.4 L34.9,2.0 L35.0,1.4 L35.3,0.7 L35.8,0.1 L36.6,-0.5 L37.6,-1.0 L38.8,-1.3 L40.0,-1.4 L41.2,-1.3 L42.4,-1.0 L43.4,-0.5 L44.2,0.1Z" fill="#9a92c0" stroke="#9a92c0" stroke-width="5.1" stroke-linejoin="round"/>
<path d="M104.8,29.6 L103.6,30.3 L102.6,30.6 L95.3,27.1 L95.3,27.0 L95.2,26.1 L95.2,25.9 L95.3,25.0 L95.7,24.1 L96.3,23.2 L96.9,22.7 L100.5,21.3 L101.0,21.2 L102.4,21.4 L103.6,21.7 L104.8,22.4 L105.7,23.2 L106.3,24.1 L106.7,25.0 L106.8,26.0 L106.7,27.0 L106.3,27.9 L105.7,28.8Z" fill="#9a92c0" stroke="#9a92c0" stroke-width="6.1" stroke-linejoin="round"/>
<path d="M105.2,65.2 L104.4,66.0 L103.4,66.7 L102.2,67.1 L101.0,67.2 L99.8,67.1 L98.6,66.7 L97.6,66.0 L96.8,65.2 L96.5,64.7 L101.1,56.8 L102.2,56.9 L103.4,57.3 L104.4,58.0 L105.2,58.8 L105.9,59.8 L106.2,60.9 L106.4,62.0 L106.2,63.1 L105.9,64.2Z" fill="#9a92c0" stroke="#9a92c0" stroke-width="6.1" stroke-linejoin="round"/>
<path d="M4.3,16.4 L3.2,16.9 L2.0,17.1 L0.8,16.9 L-0.3,16.4 L-1.4,15.7 L-2.4,14.6 L-3.1,13.2 L-3.6,11.7 L-3.7,10.0 L-3.6,8.3 L-3.1,6.8 L-2.4,5.4 L-1.4,4.3 L-0.3,3.6 L0.8,3.1 L2.0,2.9 L3.2,3.1 L4.3,3.6 L5.4,4.3 L6.4,5.4 L7.1,6.8 L7.6,8.3 L7.7,10.0 L7.6,11.7 L7.1,13.2 L6.4,14.6 L5.4,15.7Z" fill="#9a92c0" stroke="#9a92c0" stroke-width="7.1" stroke-linejoin="round"/>
<path d="M22.2,14.4 L20.3,15.1 L20.0,15.2 L19.1,15.1 L18.3,14.7 L17.4,14.0 L16.7,13.1 L16.1,11.9 L15.7,10.5 L15.5,9.0 L15.7,7.5 L16.1,6.1 L16.7,4.9 L17.4,4.0 L18.3,3.3 L19.1,2.9 L20.0,2.8 L20.9,2.9 L21.7,3.3 L22.6,4.0 L23.3,4.9 L23.8,5.8 L22.7,13.8 L22.6,14.0Z" fill="#9a92c0" stroke="#9a92c0" stroke-width="6.1" stroke-linejoin="round"/>
<path d="M11.5,24.5 L20.5,38.5 L19.7,41.7 L19.3,42.1 L1.5,42.7 L-0.3,41.2 L-2.1,38.9 L-3.2,36.3 L-3.6,33.7 L-3.2,31.1 L-3.2,31.0Z" fill="#ede3ec" stroke="#ede3ec" stroke-width="8.0" stroke-linejoin="round"/>
<path d="M51.4,-4.1 L53.0,-4.3 L54.6,-4.1 L56.0,-3.6 L57.4,-2.7 L58.5,-1.4 L59.4,0.0 L60.0,1.7 L60.2,3.5 L60.0,5.3 L59.4,7.0 L58.5,8.4 L57.4,9.7 L56.0,10.6 L55.0,10.9 L49.5,9.2 L51.0,-3.9Z" fill="#ede3ec" stroke="#ede3ec" stroke-width="7.0" stroke-linejoin="round"/>
<path d="M50.8,27.4 L49.6,28.1 L48.3,28.6 L47.0,28.7 L45.7,28.6 L44.4,28.1 L43.2,27.4 L42.3,26.5 L41.6,25.4 L41.2,24.3 L41.0,23.0 L41.2,21.7 L41.6,20.6 L42.3,19.5 L43.2,18.6 L44.4,17.9 L45.7,17.4 L47.0,17.3 L48.3,17.4 L49.6,17.9 L50.8,18.6 L51.7,19.5 L52.4,20.6 L52.8,21.7 L53.0,23.0 L52.8,24.3 L52.4,25.4 L51.7,26.5Z" fill="#ede3ec" stroke="#ede3ec" stroke-width="5.5" stroke-linejoin="round"/>
<path d="M67.2,31.5 L60.7,28.0 L61.2,17.8 L64.5,15.6 L71.7,20.8 L70.4,29.5Z" fill="#ede3ec" stroke="#ede3ec" stroke-width="8.0" stroke-linejoin="round"/>
<path d="M81.8,2.1 L83.4,2.9 L84.6,4.0 L82.3,13.0 L77.3,14.6 L76.6,14.6 L70.1,9.9 L69.9,9.4 L69.7,8.0 L69.9,6.6 L70.4,5.3 L71.3,4.0 L72.6,2.9 L74.2,2.1 L76.0,1.5 L78.0,1.3 L80.0,1.5Z" fill="#ede3ec" stroke="#ede3ec" stroke-width="7.0" stroke-linejoin="round"/>
<path d="M93.0,17.3 L89.6,14.5 L91.6,6.2 L92.4,5.8 L94.0,5.2 L95.7,5.0 L97.4,5.2 L99.0,5.8 L100.5,6.7 L101.7,7.8 L102.6,9.2 L103.1,10.8 L103.3,12.4 L103.2,13.3Z" fill="#ede3ec" stroke="#ede3ec" stroke-width="7.0" stroke-linejoin="round"/>
<path d="M84.0,20.9 L85.0,21.0 L86.0,21.4 L86.9,22.0 L87.7,22.9 L88.3,24.0 L88.7,25.3 L88.9,26.6 L88.7,27.9 L88.3,29.2 L88.0,29.9 L86.6,31.4 L86.0,31.8 L85.0,32.2 L84.0,32.3 L83.0,32.2 L82.0,31.8 L81.1,31.2 L80.3,30.3 L79.7,29.2 L79.3,27.9 L79.1,26.6 L79.3,25.3 L79.7,24.0 L80.3,22.9 L81.1,22.0 L82.0,21.4 L83.0,21.0Z" fill="#ede3ec" stroke="#ede3ec" stroke-width="5.0" stroke-linejoin="round"/>
<path d="M101.2,42.0 L99.6,42.8 L97.7,43.4 L96.3,43.5 L91.6,42.7 L89.9,37.3 L93.5,33.3 L104.0,38.3 L104.0,38.3 L103.4,39.6 L102.5,40.9Z" fill="#ede3ec" stroke="#ede3ec" stroke-width="7.0" stroke-linejoin="round"/>
<path d="M80.2,48.4 L71.5,44.6 L71.5,38.6 L74.7,36.7 L82.4,39.6 L84.0,44.7Z" fill="#ede3ec" stroke="#ede3ec" stroke-width="8.0" stroke-linejoin="round"/>
<path d="M63.6,40.2 L63.6,44.8 L63.3,45.8 L63.0,46.3 L62.6,46.7 L50.5,45.2 L51.6,37.0 L51.8,36.9 L55.7,35.0 L56.7,34.9 L56.8,34.9 L62.5,37.9 L63.3,39.2Z" fill="#ede3ec" stroke="#ede3ec" stroke-width="7.0" stroke-linejoin="round"/>
<path d="M39.7,34.2 L40.5,34.9 L41.3,35.9 L41.9,37.1 L42.3,38.5 L42.4,40.0 L42.3,41.5 L41.9,42.9 L41.3,44.1 L40.5,45.1 L39.7,45.8 L38.8,46.1 L38.7,46.2 L35.5,45.1 L34.7,44.1 L34.1,42.9 L33.7,41.5 L33.6,40.0 L33.7,38.5 L34.1,37.1 L34.7,35.9 L35.5,34.9 L36.3,34.2 L37.2,33.9 L38.0,33.7 L38.8,33.9Z" fill="#ede3ec" stroke="#ede3ec" stroke-width="5.0" stroke-linejoin="round"/>
<path d="M39.4,64.7 L39.3,64.8 L37.3,66.1 L35.1,67.0 L32.8,67.2 L30.5,67.0 L28.9,66.4 L25.8,49.1 L39.8,53.8Z" fill="#ede3ec" stroke="#ede3ec" stroke-width="8.0" stroke-linejoin="round"/>
<path d="M56.5,66.3 L55.0,66.5 L53.5,66.3 L52.1,65.7 L50.7,64.6 L49.4,63.1 L48.4,61.2 L48.0,59.7 L48.2,52.9 L59.2,54.2 L57.9,65.7Z" fill="#ede3ec" stroke="#ede3ec" stroke-width="8.0" stroke-linejoin="round"/>
<path d="M15.6,65.9 L14.5,66.4 L13.3,66.5 L12.1,66.4 L11.0,65.9 L9.9,65.1 L9.0,64.0 L8.2,62.6 L7.8,61.1 L7.6,59.4 L7.8,57.7 L8.2,56.2 L9.0,54.8 L9.9,53.7 L11.0,52.9 L12.1,52.4 L13.3,52.3 L14.5,52.4 L15.6,52.9 L16.7,53.7 L17.6,54.8 L18.4,56.2 L18.8,57.7 L19.0,59.4 L18.8,61.1 L18.4,62.6 L17.6,64.0 L16.7,65.1Z" fill="#ede3ec" stroke="#ede3ec" stroke-width="6.0" stroke-linejoin="round"/>
<path d="M31.2,28.9 L29.8,29.7 L28.3,30.2 L26.6,30.3 L24.9,30.2 L23.7,29.8 L19.7,23.5 L19.7,23.4 L20.1,22.3 L20.8,21.3 L25.2,19.5 L33.2,22.5 L33.5,23.4 L33.6,23.8 L33.7,24.8 L33.5,25.8 L33.1,26.9 L32.3,28.0Z" fill="#ede3ec" stroke="#ede3ec" stroke-width="6.0" stroke-linejoin="round"/>
<path d="M89.3,64.3 L89.3,64.2 L88.0,63.3 L86.9,62.0 L86.0,60.5 L85.4,58.6 L85.3,56.7 L85.4,54.8 L85.6,54.2 L90.0,49.9 L97.0,51.2 L97.0,51.2Z" fill="#ede3ec" stroke="#ede3ec" stroke-width="7.0" stroke-linejoin="round"/>
<path d="M73.3,63.3 L72.2,63.7 L71.0,63.8 L69.8,63.7 L68.7,63.3 L67.7,62.7 L66.9,61.8 L66.3,60.8 L65.9,59.7 L65.8,58.5 L65.9,57.3 L66.3,56.2 L66.9,55.2 L67.7,54.3 L68.7,53.7 L69.8,53.3 L71.0,53.2 L72.2,53.3 L73.3,53.7 L74.3,54.3 L75.1,55.2 L75.7,56.2 L76.1,57.3 L76.2,58.5 L76.1,59.7 L75.7,60.8 L75.1,61.8 L74.3,62.7Z" fill="#ede3ec" stroke="#ede3ec" stroke-width="5.0" stroke-linejoin="round"/>
<path d="M36.3,13.8 L35.0,14.4 L33.6,14.7 L32.0,14.9 L30.4,14.7 L29.0,14.4 L28.2,14.0 L29.1,6.8 L30.4,6.5 L32.0,6.3 L32.1,6.3 L38.1,11.9 L37.9,12.2 L37.3,13.0Z" fill="#ede3ec" stroke="#ede3ec" stroke-width="5.0" stroke-linejoin="round"/>
<path d="M44.5,0.6 L44.2,3.9 L43.4,4.5 L42.4,5.0 L41.2,5.3 L40.0,5.4 L38.8,5.3 L37.9,5.1 L35.0,2.4 L34.9,2.0 L35.0,1.4 L35.3,0.7 L35.8,0.1 L36.6,-0.5 L37.6,-1.0 L38.8,-1.3 L40.0,-1.4 L41.2,-1.3 L42.4,-1.0 L43.4,-0.5 L44.2,0.1Z" fill="#ede3ec" stroke="#ede3ec" stroke-width="4.0" stroke-linejoin="round"/>
<path d="M104.8,29.6 L103.6,30.3 L102.6,30.6 L95.3,27.1 L95.3,27.0 L95.2,26.1 L95.2,25.9 L95.3,25.0 L95.7,24.1 L96.3,23.2 L96.9,22.7 L100.5,21.3 L101.0,21.2 L102.4,21.4 L103.6,21.7 L104.8,22.4 L105.7,23.2 L106.3,24.1 L106.7,25.0 L106.8,26.0 L106.7,27.0 L106.3,27.9 L105.7,28.8Z" fill="#ede3ec" stroke="#ede3ec" stroke-width="5.0" stroke-linejoin="round"/>
<path d="M105.2,65.2 L104.4,66.0 L103.4,66.7 L102.2,67.1 L101.0,67.2 L99.8,67.1 L98.6,66.7 L97.6,66.0 L96.8,65.2 L96.5,64.7 L101.1,56.8 L102.2,56.9 L103.4,57.3 L104.4,58.0 L105.2,58.8 L105.9,59.8 L106.2,60.9 L106.4,62.0 L106.2,63.1 L105.9,64.2Z" fill="#ede3ec" stroke="#ede3ec" stroke-width="5.0" stroke-linejoin="round"/>
<path d="M4.3,16.4 L3.2,16.9 L2.0,17.1 L0.8,16.9 L-0.3,16.4 L-1.4,15.7 L-2.4,14.6 L-3.1,13.2 L-3.6,11.7 L-3.7,10.0 L-3.6,8.3 L-3.1,6.8 L-2.4,5.4 L-1.4,4.3 L-0.3,3.6 L0.8,3.1 L2.0,2.9 L3.2,3.1 L4.3,3.6 L5.4,4.3 L6.4,5.4 L7.1,6.8 L7.6,8.3 L7.7,10.0 L7.6,11.7 L7.1,13.2 L6.4,14.6 L5.4,15.7Z" fill="#ede3ec" stroke="#ede3ec" stroke-width="6.0" stroke-linejoin="round"/>
<path d="M22.2,14.4 L20.3,15.1 L20.0,15.2 L19.1,15.1 L18.3,14.7 L17.4,14.0 L16.7,13.1 L16.1,11.9 L15.7,10.5 L15.5,9.0 L15.7,7.5 L16.1,6.1 L16.7,4.9 L17.4,4.0 L18.3,3.3 L19.1,2.9 L20.0,2.8 L20.9,2.9 L21.7,3.3 L22.6,4.0 L23.3,4.9 L23.8,5.8 L22.7,13.8 L22.6,14.0Z" fill="#ede3ec" stroke="#ede3ec" stroke-width="5.0" stroke-linejoin="round"/>
<ellipse cx="67.3" cy="47.4" rx="1.5" ry="0.9" fill="#343a88" transform="rotate(165 67.3 47.4)"/>
<ellipse cx="92.6" cy="28.7" rx="1.0" ry="0.9" fill="#343a88" transform="rotate(83 92.6 28.7)"/>
<ellipse cx="85.4" cy="15.9" rx="1.0" ry="1.0" fill="#343a88" transform="rotate(153 85.4 15.9)"/>
<ellipse cx="63.8" cy="50.6" rx="1.4" ry="0.8" fill="#343a88" transform="rotate(151 63.8 50.6)"/>
<ellipse cx="57.2" cy="15.5" rx="1.5" ry="0.9" fill="#343a88" transform="rotate(173 57.2 15.5)"/>
<ellipse cx="65.0" cy="10.0" rx="1.2" ry="0.8" fill="#343a88" transform="rotate(161 65.0 10.0)"/>
<ellipse cx="37.0" cy="20.7" rx="1.4" ry="0.9" fill="#343a88" transform="rotate(4 37.0 20.7)"/>
<ellipse cx="56.9" cy="30.0" rx="1.5" ry="1.0" fill="#343a88" transform="rotate(149 56.9 30.0)"/>
<ellipse cx="56.9" cy="30.0" rx="1.6" ry="0.9" fill="#343a88" transform="rotate(44 56.9 30.0)"/>
<ellipse cx="45.7" cy="49.0" rx="1.6" ry="0.8" fill="#343a88" transform="rotate(150 45.7 49.0)"/>
<ellipse cx="47.0" cy="49.1" rx="1.1" ry="0.9" fill="#343a88" transform="rotate(30 47.0 49.1)"/>
<ellipse cx="81.1" cy="53.0" rx="1.3" ry="0.8" fill="#343a88" transform="rotate(124 81.1 53.0)"/>
<ellipse cx="80.4" cy="53.6" rx="1.2" ry="0.8" fill="#343a88" transform="rotate(1 80.4 53.6)"/>
<ellipse cx="85.8" cy="16.4" rx="1.3" ry="0.8" fill="#343a88" transform="rotate(19 85.8 16.4)"/>
<ellipse cx="92.0" cy="21.1" rx="1.5" ry="0.8" fill="#343a88" transform="rotate(131 92.0 21.1)"/>
</g>
<g transform="translate(584,12)" clip-path="url(#k2)">
<rect x="-1" y="-1" width="103" height="67.6" fill="#e1d9e7"/>
<path d="M37.3,-1.7 L40.6,12.9 L32.6,16.6 L29.3,14.9 L27.1,1.2 L28.5,-0.5 L30.2,-1.8 L31.9,-2.5 L33.7,-2.7 L35.5,-2.5 L37.2,-1.8Z" fill="#9a92c0" stroke="#9a92c0" stroke-width="9.1" stroke-linejoin="round"/>
<path d="M58.6,7.3 L48.5,9.7 L48.0,8.7 L47.5,6.6 L47.3,4.4 L47.5,2.2 L48.0,0.1 L48.9,-1.7 L50.0,-3.1 L51.1,-4.1 L52.2,-4.6 L53.3,-4.8 L54.4,-4.6 L55.5,-4.1 L56.6,-3.1 L57.7,-1.7 L58.2,-0.6Z" fill="#9a92c0" stroke="#9a92c0" stroke-width="8.1" stroke-linejoin="round"/>
<path d="M73.7,11.2 L72.4,11.7 L71.0,11.9 L69.6,11.7 L66.1,8.5 L65.6,-1.3 L65.9,-1.8 L67.0,-3.0 L68.3,-4.0 L69.6,-4.5 L71.0,-4.7 L72.4,-4.5 L73.7,-4.0 L75.0,-3.0 L76.1,-1.8 L77.0,-0.2 L77.5,1.7 L77.7,3.6 L77.5,5.5 L77.0,7.4 L76.1,9.0 L75.0,10.2Z" fill="#9a92c0" stroke="#9a92c0" stroke-width="8.1" stroke-linejoin="round"/>
<path d="M91.3,12.1 L85.4,8.8 L86.7,0.9 L88.3,-0.0 L90.3,-0.7 L92.4,-0.9 L94.5,-0.7 L96.5,-0.0 L98.3,1.0 L99.7,2.3 L100.7,3.8 L101.4,5.4Z" fill="#9a92c0" stroke="#9a92c0" stroke-width="9.1" stroke-linejoin="round"/>
<path d="M61.3,14.8 L65.1,18.2 L54.8,24.1 L50.5,17.3Z" fill="#9a92c0" stroke="#9a92c0" stroke-width="9.1" stroke-linejoin="round"/>
<path d="M87.7,19.7 L88.6,25.1 L83.7,28.7 L78.7,28.2 L74.8,19.8 L80.9,15.9Z" fill="#9a92c0" stroke="#9a92c0" stroke-width="9.1" stroke-linejoin="round"/>
<path d="M48.9,30.6 L43.3,33.1 L37.0,28.6 L36.8,23.9 L42.9,21.1Z" fill="#9a92c0" stroke="#9a92c0" stroke-width="9.1" stroke-linejoin="round"/>
<path d="M26.6,23.1 L28.2,24.0 L28.9,24.7 L29.1,29.3 L21.8,36.1 L21.1,36.0 L19.4,35.5 L19.1,35.3 L18.9,34.8 L25.0,22.6Z" fill="#9a92c0" stroke="#9a92c0" stroke-width="8.1" stroke-linejoin="round"/>
<path d="M3.6,29.2 L11.4,35.8 L11.3,37.0 L11.0,38.0 L3.4,41.7 L2.7,41.5 L1.5,40.7 L0.5,39.7 L-0.2,38.4 L-0.7,37.0 L-0.9,35.5 L-0.7,34.0 L-0.2,32.6 L0.5,31.3 L1.5,30.3 L2.7,29.5Z" fill="#9a92c0" stroke="#9a92c0" stroke-width="7.1" stroke-linejoin="round"/>
<path d="M14.8,29.3 L14.2,29.4 L13.0,29.2 L12.0,28.9 L9.9,27.1 L9.6,26.8 L9.3,25.9 L9.2,24.9 L9.3,23.9 L9.6,23.0 L10.2,22.2 L11.0,21.5 L12.0,20.9 L12.4,20.8 L16.7,21.0 L17.4,21.5 L18.2,22.2 L18.3,22.3Z" fill="#9a92c0" stroke="#9a92c0" stroke-width="5.6" stroke-linejoin="round"/>
<path d="M71.7,32.0 L70.2,34.5 L58.5,34.5 L56.7,32.4 L56.7,32.1 L66.9,26.3 L68.2,26.6 L69.6,27.3Z" fill="#9a92c0" stroke="#9a92c0" stroke-width="8.1" stroke-linejoin="round"/>
<path d="M95.6,31.6 L97.1,32.1 L98.4,32.8 L99.5,33.8 L100.3,34.9 L100.7,36.1 L100.9,37.3 L100.7,38.5 L100.3,39.7 L99.5,40.8 L98.4,41.8 L97.1,42.5 L95.6,43.0 L94.0,43.2 L92.7,43.0 L88.8,34.1 L92.1,31.7 L92.4,31.6 L94.0,31.4Z" fill="#9a92c0" stroke="#9a92c0" stroke-width="7.1" stroke-linejoin="round"/>
<path d="M37.9,42.5 L28.0,45.4 L27.3,44.3 L26.8,42.6 L26.7,41.7 L33.2,35.6 L38.6,39.5Z" fill="#9a92c0" stroke="#9a92c0" stroke-width="8.1" stroke-linejoin="round"/>
<path d="M47.2,48.5 L44.5,44.8 L45.5,40.2 L51.5,37.5 L51.8,37.6 L52.7,38.3 L53.7,39.4 L53.7,46.6Z" fill="#9a92c0" stroke="#9a92c0" stroke-width="7.1" stroke-linejoin="round"/>
<path d="M68.6,43.2 L63.5,49.2 L61.0,47.1 L61.0,42.4 L68.5,42.4Z" fill="#9a92c0" stroke="#9a92c0" stroke-width="9.1" stroke-linejoin="round"/>
<path d="M84.0,46.8 L76.9,42.1 L76.6,39.2 L78.2,36.6 L82.0,37.0 L85.7,45.5Z" fill="#9a92c0" stroke="#9a92c0" stroke-width="9.1" stroke-linejoin="round"/>
<path d="M16.4,43.5 L18.2,44.5 L19.4,47.5 L11.9,53.7 L5.6,48.9Z" fill="#9a92c0" stroke="#9a92c0" stroke-width="9.1" stroke-linejoin="round"/>
<path d="M39.6,49.7 L42.0,53.0 L41.5,55.1 L34.5,59.4 L31.3,52.1Z" fill="#9a92c0" stroke="#9a92c0" stroke-width="8.1" stroke-linejoin="round"/>
<path d="M55.8,63.1 L48.3,56.3 L48.6,54.8 L56.1,52.6 L59.0,55.1 L59.0,55.2 L59.1,56.6 L57.0,62.1 L56.8,62.3Z" fill="#9a92c0" stroke="#9a92c0" stroke-width="7.1" stroke-linejoin="round"/>
<path d="M77.3,56.9 L70.5,53.2 L73.7,49.4 L80.0,53.6 L79.8,54.9Z" fill="#9a92c0" stroke="#9a92c0" stroke-width="8.1" stroke-linejoin="round"/>
<path d="M86.6,55.6 L87.0,53.7 L91.4,50.5 L92.3,50.4 L94.7,62.2Z" fill="#9a92c0" stroke="#9a92c0" stroke-width="7.1" stroke-linejoin="round"/>
<path d="M25.8,64.9 L24.4,65.6 L22.9,66.1 L21.3,66.3 L19.7,66.1 L18.2,65.6 L16.8,64.9 L15.8,63.9 L15.6,63.6 L15.3,60.5 L22.3,54.6 L22.9,54.7 L24.4,55.2 L25.3,55.6 L28.0,61.8 L27.6,62.8 L26.8,63.9Z" fill="#9a92c0" stroke="#9a92c0" stroke-width="7.1" stroke-linejoin="round"/>
<path d="M70.9,68.9 L70.1,69.2 L69.3,69.3 L68.5,69.2 L67.7,68.9 L66.8,68.2 L66.1,67.2 L65.5,66.0 L65.1,64.5 L65.0,63.0 L65.1,61.5 L65.5,60.0 L66.1,58.8 L66.5,58.2 L73.6,62.1 L73.6,63.0 L73.5,64.5 L73.1,66.0 L72.5,67.2 L71.8,68.2Z" fill="#9a92c0" stroke="#9a92c0" stroke-width="6.1" stroke-linejoin="round"/>
<path d="M4.0,15.5 L3.0,15.1 L2.0,14.3 L1.1,13.1 L0.4,11.6 L-0.1,9.9 L-0.2,8.0 L-0.1,6.1 L0.4,4.4 L1.1,2.9 L2.0,1.7 L3.0,0.9 L4.0,0.5 L5.0,0.3 L6.0,0.5 L7.0,0.9 L8.0,1.7 L8.9,2.9 L9.2,3.5 L4.3,15.6Z" fill="#9a92c0" stroke="#9a92c0" stroke-width="7.1" stroke-linejoin="round"/>
<path d="M11.3,15.5 L11.0,14.8 L14.5,6.0 L15.0,5.9 L15.9,6.1 L16.8,6.4 L17.7,7.1 L18.4,8.0 L19.0,9.2 L19.4,10.6 L19.6,12.0 L19.4,13.4 L19.0,14.8 L18.4,16.0 L18.4,16.0Z" fill="#9a92c0" stroke="#9a92c0" stroke-width="6.1" stroke-linejoin="round"/>
<path d="M105.1,23.3 L103.9,23.9 L102.5,24.3 L101.0,24.5 L99.5,24.3 L98.1,23.9 L96.9,23.3 L96.0,22.6 L95.3,21.7 L94.9,20.9 L94.8,20.0 L94.9,19.1 L95.3,18.3 L96.0,17.4 L96.9,16.7 L98.1,16.1 L99.5,15.7 L101.0,15.5 L102.5,15.7 L103.9,16.1 L105.1,16.7 L106.0,17.4 L106.7,18.3 L107.1,19.1 L107.2,20.0 L107.1,20.9 L106.7,21.7 L106.0,22.6Z" fill="#9a92c0" stroke="#9a92c0" stroke-width="6.1" stroke-linejoin="round"/>
<path d="M99.7,50.3 L101.0,50.1 L102.3,50.3 L103.6,50.7 L104.7,51.3 L105.6,52.1 L106.2,53.0 L106.6,54.0 L106.7,55.0 L106.6,56.0 L106.2,57.0 L105.6,57.9 L104.7,58.7 L103.6,59.3 L102.3,59.7 L101.0,59.9 L100.3,59.8 L98.4,50.7 L98.4,50.7Z" fill="#9a92c0" stroke="#9a92c0" stroke-width="6.1" stroke-linejoin="round"/>
<path d="M49.0,69.4 L47.8,70.0 L46.5,70.4 L45.0,70.5 L43.5,70.4 L42.2,70.0 L41.0,69.4 L40.0,68.6 L39.4,67.8 L39.0,66.9 L38.9,66.0 L39.0,65.1 L39.4,64.2 L39.9,63.6 L42.8,61.8 L43.5,61.6 L45.0,61.5 L45.2,61.5 L51.0,66.7 L51.0,66.9 L50.6,67.8 L50.0,68.6Z" fill="#9a92c0" stroke="#9a92c0" stroke-width="6.1" stroke-linejoin="round"/>
<path d="M88.6,69.8 L87.5,70.4 L86.3,70.8 L85.0,71.0 L83.7,70.8 L82.5,70.4 L81.4,69.8 L80.5,69.0 L79.9,68.1 L79.5,67.1 L79.5,66.8 L80.1,63.7 L80.5,63.0 L81.4,62.2 L82.5,61.6 L83.7,61.2 L84.1,61.1 L90.6,66.4 L90.5,67.1 L90.1,68.1 L89.5,69.0Z" fill="#9a92c0" stroke="#9a92c0" stroke-width="6.1" stroke-linejoin="round"/>
<path d="M6.1,66.4 L5.1,67.0 L4.1,67.4 L3.0,67.5 L1.9,67.4 L0.9,67.0 L-0.1,66.4 L-0.9,65.5 L-1.5,64.4 L-1.9,63.3 L-2.1,62.0 L-1.9,60.7 L-1.5,59.6 L-0.9,58.5 L-0.1,57.6 L0.9,57.0 L1.9,56.6 L3.0,56.5 L4.1,56.6 L4.4,56.7 L7.1,58.8 L7.5,59.6 L7.9,60.7 L8.1,62.0 L7.9,63.3 L7.5,64.4 L6.9,65.5Z" fill="#9a92c0" stroke="#9a92c0" stroke-width="6.1" stroke-linejoin="round"/>
<path d="M37.3,-1.7 L40.6,12.9 L32.6,16.6 L29.3,14.9 L27.1,1.2 L28.5,-0.5 L30.2,-1.8 L31.9,-2.5 L33.7,-2.7 L35.5,-2.5 L37.2,-1.8Z" fill="#ede3ec" stroke="#ede3ec" stroke-width="8.0" stroke-linejoin="round"/>
<path d="M58.6,7.3 L48.5,9.7 L48.0,8.7 L47.5,6.6 L47.3,4.4 L47.5,2.2 L48.0,0.1 L48.9,-1.7 L50.0,-3.1 L51.1,-4.1 L52.2,-4.6 L53.3,-4.8 L54.4,-4.6 L55.5,-4.1 L56.6,-3.1 L57.7,-1.7 L58.2,-0.6Z" fill="#ede3ec" stroke="#ede3ec" stroke-width="7.0" stroke-linejoin="round"/>
<path d="M73.7,11.2 L72.4,11.7 L71.0,11.9 L69.6,11.7 L66.1,8.5 L65.6,-1.3 L65.9,-1.8 L67.0,-3.0 L68.3,-4.0 L69.6,-4.5 L71.0,-4.7 L72.4,-4.5 L73.7,-4.0 L75.0,-3.0 L76.1,-1.8 L77.0,-0.2 L77.5,1.7 L77.7,3.6 L77.5,5.5 L77.0,7.4 L76.1,9.0 L75.0,10.2Z" fill="#ede3ec" stroke="#ede3ec" stroke-width="7.0" stroke-linejoin="round"/>
<path d="M91.3,12.1 L85.4,8.8 L86.7,0.9 L88.3,-0.0 L90.3,-0.7 L92.4,-0.9 L94.5,-0.7 L96.5,-0.0 L98.3,1.0 L99.7,2.3 L100.7,3.8 L101.4,5.4Z" fill="#ede3ec" stroke="#ede3ec" stroke-width="8.0" stroke-linejoin="round"/>
<path d="M61.3,14.8 L65.1,18.2 L54.8,24.1 L50.5,17.3Z" fill="#ede3ec" stroke="#ede3ec" stroke-width="8.0" stroke-linejoin="round"/>
<path d="M87.7,19.7 L88.6,25.1 L83.7,28.7 L78.7,28.2 L74.8,19.8 L80.9,15.9Z" fill="#ede3ec" stroke="#ede3ec" stroke-width="8.0" stroke-linejoin="round"/>
<path d="M48.9,30.6 L43.3,33.1 L37.0,28.6 L36.8,23.9 L42.9,21.1Z" fill="#ede3ec" stroke="#ede3ec" stroke-width="8.0" stroke-linejoin="round"/>
<path d="M26.6,23.1 L28.2,24.0 L28.9,24.7 L29.1,29.3 L21.8,36.1 L21.1,36.0 L19.4,35.5 L19.1,35.3 L18.9,34.8 L25.0,22.6Z" fill="#ede3ec" stroke="#ede3ec" stroke-width="7.0" stroke-linejoin="round"/>
<path d="M3.6,29.2 L11.4,35.8 L11.3,37.0 L11.0,38.0 L3.4,41.7 L2.7,41.5 L1.5,40.7 L0.5,39.7 L-0.2,38.4 L-0.7,37.0 L-0.9,35.5 L-0.7,34.0 L-0.2,32.6 L0.5,31.3 L1.5,30.3 L2.7,29.5Z" fill="#ede3ec" stroke="#ede3ec" stroke-width="6.0" stroke-linejoin="round"/>
<path d="M14.8,29.3 L14.2,29.4 L13.0,29.2 L12.0,28.9 L9.9,27.1 L9.6,26.8 L9.3,25.9 L9.2,24.9 L9.3,23.9 L9.6,23.0 L10.2,22.2 L11.0,21.5 L12.0,20.9 L12.4,20.8 L16.7,21.0 L17.4,21.5 L18.2,22.2 L18.3,22.3Z" fill="#ede3ec" stroke="#ede3ec" stroke-width="4.5" stroke-linejoin="round"/>
<path d="M71.7,32.0 L70.2,34.5 L58.5,34.5 L56.7,32.4 L56.7,32.1 L66.9,26.3 L68.2,26.6 L69.6,27.3Z" fill="#ede3ec" stroke="#ede3ec" stroke-width="7.0" stroke-linejoin="round"/>
<path d="M95.6,31.6 L97.1,32.1 L98.4,32.8 L99.5,33.8 L100.3,34.9 L100.7,36.1 L100.9,37.3 L100.7,38.5 L100.3,39.7 L99.5,40.8 L98.4,41.8 L97.1,42.5 L95.6,43.0 L94.0,43.2 L92.7,43.0 L88.8,34.1 L92.1,31.7 L92.4,31.6 L94.0,31.4Z" fill="#ede3ec" stroke="#ede3ec" stroke-width="6.0" stroke-linejoin="round"/>
<path d="M37.9,42.5 L28.0,45.4 L27.3,44.3 L26.8,42.6 L26.7,41.7 L33.2,35.6 L38.6,39.5Z" fill="#ede3ec" stroke="#ede3ec" stroke-width="7.0" stroke-linejoin="round"/>
<path d="M47.2,48.5 L44.5,44.8 L45.5,40.2 L51.5,37.5 L51.8,37.6 L52.7,38.3 L53.7,39.4 L53.7,46.6Z" fill="#ede3ec" stroke="#ede3ec" stroke-width="6.0" stroke-linejoin="round"/>
<path d="M68.6,43.2 L63.5,49.2 L61.0,47.1 L61.0,42.4 L68.5,42.4Z" fill="#ede3ec" stroke="#ede3ec" stroke-width="8.0" stroke-linejoin="round"/>
<path d="M84.0,46.8 L76.9,42.1 L76.6,39.2 L78.2,36.6 L82.0,37.0 L85.7,45.5Z" fill="#ede3ec" stroke="#ede3ec" stroke-width="8.0" stroke-linejoin="round"/>
<path d="M16.4,43.5 L18.2,44.5 L19.4,47.5 L11.9,53.7 L5.6,48.9Z" fill="#ede3ec" stroke="#ede3ec" stroke-width="8.0" stroke-linejoin="round"/>
<path d="M39.6,49.7 L42.0,53.0 L41.5,55.1 L34.5,59.4 L31.3,52.1Z" fill="#ede3ec" stroke="#ede3ec" stroke-width="7.0" stroke-linejoin="round"/>
<path d="M55.8,63.1 L48.3,56.3 L48.6,54.8 L56.1,52.6 L59.0,55.1 L59.0,55.2 L59.1,56.6 L57.0,62.1 L56.8,62.3Z" fill="#ede3ec" stroke="#ede3ec" stroke-width="6.0" stroke-linejoin="round"/>
<path d="M77.3,56.9 L70.5,53.2 L73.7,49.4 L80.0,53.6 L79.8,54.9Z" fill="#ede3ec" stroke="#ede3ec" stroke-width="7.0" stroke-linejoin="round"/>
<path d="M86.6,55.6 L87.0,53.7 L91.4,50.5 L92.3,50.4 L94.7,62.2Z" fill="#ede3ec" stroke="#ede3ec" stroke-width="6.0" stroke-linejoin="round"/>
<path d="M25.8,64.9 L24.4,65.6 L22.9,66.1 L21.3,66.3 L19.7,66.1 L18.2,65.6 L16.8,64.9 L15.8,63.9 L15.6,63.6 L15.3,60.5 L22.3,54.6 L22.9,54.7 L24.4,55.2 L25.3,55.6 L28.0,61.8 L27.6,62.8 L26.8,63.9Z" fill="#ede3ec" stroke="#ede3ec" stroke-width="6.0" stroke-linejoin="round"/>
<path d="M70.9,68.9 L70.1,69.2 L69.3,69.3 L68.5,69.2 L67.7,68.9 L66.8,68.2 L66.1,67.2 L65.5,66.0 L65.1,64.5 L65.0,63.0 L65.1,61.5 L65.5,60.0 L66.1,58.8 L66.5,58.2 L73.6,62.1 L73.6,63.0 L73.5,64.5 L73.1,66.0 L72.5,67.2 L71.8,68.2Z" fill="#ede3ec" stroke="#ede3ec" stroke-width="5.0" stroke-linejoin="round"/>
<path d="M4.0,15.5 L3.0,15.1 L2.0,14.3 L1.1,13.1 L0.4,11.6 L-0.1,9.9 L-0.2,8.0 L-0.1,6.1 L0.4,4.4 L1.1,2.9 L2.0,1.7 L3.0,0.9 L4.0,0.5 L5.0,0.3 L6.0,0.5 L7.0,0.9 L8.0,1.7 L8.9,2.9 L9.2,3.5 L4.3,15.6Z" fill="#ede3ec" stroke="#ede3ec" stroke-width="6.0" stroke-linejoin="round"/>
<path d="M11.3,15.5 L11.0,14.8 L14.5,6.0 L15.0,5.9 L15.9,6.1 L16.8,6.4 L17.7,7.1 L18.4,8.0 L19.0,9.2 L19.4,10.6 L19.6,12.0 L19.4,13.4 L19.0,14.8 L18.4,16.0 L18.4,16.0Z" fill="#ede3ec" stroke="#ede3ec" stroke-width="5.0" stroke-linejoin="round"/>
<path d="M105.1,23.3 L103.9,23.9 L102.5,24.3 L101.0,24.5 L99.5,24.3 L98.1,23.9 L96.9,23.3 L96.0,22.6 L95.3,21.7 L94.9,20.9 L94.8,20.0 L94.9,19.1 L95.3,18.3 L96.0,17.4 L96.9,16.7 L98.1,16.1 L99.5,15.7 L101.0,15.5 L102.5,15.7 L103.9,16.1 L105.1,16.7 L106.0,17.4 L106.7,18.3 L107.1,19.1 L107.2,20.0 L107.1,20.9 L106.7,21.7 L106.0,22.6Z" fill="#ede3ec" stroke="#ede3ec" stroke-width="5.0" stroke-linejoin="round"/>
<path d="M99.7,50.3 L101.0,50.1 L102.3,50.3 L103.6,50.7 L104.7,51.3 L105.6,52.1 L106.2,53.0 L106.6,54.0 L106.7,55.0 L106.6,56.0 L106.2,57.0 L105.6,57.9 L104.7,58.7 L103.6,59.3 L102.3,59.7 L101.0,59.9 L100.3,59.8 L98.4,50.7 L98.4,50.7Z" fill="#ede3ec" stroke="#ede3ec" stroke-width="5.0" stroke-linejoin="round"/>
<path d="M49.0,69.4 L47.8,70.0 L46.5,70.4 L45.0,70.5 L43.5,70.4 L42.2,70.0 L41.0,69.4 L40.0,68.6 L39.4,67.8 L39.0,66.9 L38.9,66.0 L39.0,65.1 L39.4,64.2 L39.9,63.6 L42.8,61.8 L43.5,61.6 L45.0,61.5 L45.2,61.5 L51.0,66.7 L51.0,66.9 L50.6,67.8 L50.0,68.6Z" fill="#ede3ec" stroke="#ede3ec" stroke-width="5.0" stroke-linejoin="round"/>
<path d="M88.6,69.8 L87.5,70.4 L86.3,70.8 L85.0,71.0 L83.7,70.8 L82.5,70.4 L81.4,69.8 L80.5,69.0 L79.9,68.1 L79.5,67.1 L79.5,66.8 L80.1,63.7 L80.5,63.0 L81.4,62.2 L82.5,61.6 L83.7,61.2 L84.1,61.1 L90.6,66.4 L90.5,67.1 L90.1,68.1 L89.5,69.0Z" fill="#ede3ec" stroke="#ede3ec" stroke-width="5.0" stroke-linejoin="round"/>
<path d="M6.1,66.4 L5.1,67.0 L4.1,67.4 L3.0,67.5 L1.9,67.4 L0.9,67.0 L-0.1,66.4 L-0.9,65.5 L-1.5,64.4 L-1.9,63.3 L-2.1,62.0 L-1.9,60.7 L-1.5,59.6 L-0.9,58.5 L-0.1,57.6 L0.9,57.0 L1.9,56.6 L3.0,56.5 L4.1,56.6 L4.4,56.7 L7.1,58.8 L7.5,59.6 L7.9,60.7 L8.1,62.0 L7.9,63.3 L7.5,64.4 L6.9,65.5Z" fill="#ede3ec" stroke="#ede3ec" stroke-width="5.0" stroke-linejoin="round"/>
<ellipse cx="77.8" cy="61.3" rx="1.5" ry="0.8" fill="#343a88" transform="rotate(94 77.8 61.3)"/>
<ellipse cx="73.0" cy="44.5" rx="1.2" ry="0.7" fill="#343a88" transform="rotate(7 73.0 44.5)"/>
<ellipse cx="90.8" cy="46.9" rx="1.5" ry="0.9" fill="#343a88" transform="rotate(162 90.8 46.9)"/>
<ellipse cx="45.9" cy="52.2" rx="1.6" ry="0.9" fill="#343a88" transform="rotate(175 45.9 52.2)"/>
<ellipse cx="63.3" cy="54.6" rx="1.4" ry="1.0" fill="#343a88" transform="rotate(73 63.3 54.6)"/>
<ellipse cx="70.3" cy="20.0" rx="1.1" ry="0.8" fill="#343a88" transform="rotate(33 70.3 20.0)"/>
<ellipse cx="14.9" cy="34.5" rx="1.4" ry="0.7" fill="#343a88" transform="rotate(4 14.9 34.5)"/>
<ellipse cx="53.4" cy="29.8" rx="1.6" ry="0.7" fill="#343a88" transform="rotate(81 53.4 29.8)"/>
</g>
<g transform="translate(477,82)" clip-path="url(#k3)">
<rect width="101" height="65.5" fill="#eae2e9"/>
<path d="M-2.0,-2.0 L45.3,-2.0 L48.8,7.1 L48.0,13.8 L42.6,20.4 L40.0,24.0 L26.6,24.9 L16.0,18.7 L-2.0,14.0Z" fill="#eae2e9" stroke="#4d4852" stroke-width="0.9" stroke-linejoin="round"/>
<path d="M45.3,-2.0 L88.0,-2.0 L82.5,0.9 L74.5,4.4 L73.5,14.5 L57.7,11.5 L48.0,13.8 L48.8,7.1Z" fill="#e9e1e8" stroke="#4d4852" stroke-width="0.9" stroke-linejoin="round"/>
<path d="M88.0,-2.0 L103.0,-2.0 L103.0,27.5 L79.9,27.5 L73.5,14.5 L74.5,4.4 L82.5,0.9Z" fill="#ebe3ea" stroke="#4d4852" stroke-width="0.9" stroke-linejoin="round"/>
<path d="M48.0,13.8 L57.7,11.5 L73.5,14.5 L79.9,27.5 L73.6,41.7 L43.5,36.4 L40.0,24.0 L42.6,20.4Z" fill="#ece4eb" stroke="#4d4852" stroke-width="0.9" stroke-linejoin="round"/>
<path d="M79.9,27.5 L103.0,27.5 L103.0,48.8 L73.6,41.7Z" fill="#e9e1e8" stroke="#4d4852" stroke-width="0.9" stroke-linejoin="round"/>
<path d="M43.5,36.4 L73.6,41.7 L66.5,67.5 L40.9,67.5 L35.5,47.0Z" fill="#ebe3ea" stroke="#4d4852" stroke-width="0.9" stroke-linejoin="round"/>
<path d="M40.0,24.0 L43.5,36.4 L35.5,47.0 L25.8,45.3 L26.6,24.9Z" fill="#e8e0e7" stroke="#4d4852" stroke-width="0.9" stroke-linejoin="round"/>
<path d="M73.6,41.7 L103.0,48.8 L103.0,67.5 L66.5,67.5Z" fill="#eae2e9" stroke="#4d4852" stroke-width="0.9" stroke-linejoin="round"/>
<path d="M-2.0,14.0 L16.0,18.7 L26.6,24.9 L25.8,45.3 L16.0,47.0 L-2.0,38.2Z" fill="#e9e1e8" stroke="#4d4852" stroke-width="0.9" stroke-linejoin="round"/>
<path d="M16.0,47.0 L25.8,45.3 L35.5,47.0 L40.9,67.5 L10.7,67.5Z" fill="#ebe3ea" stroke="#4d4852" stroke-width="0.9" stroke-linejoin="round"/>
<path d="M-2.0,38.2 L16.0,47.0 L10.7,67.5 L-2.0,67.5Z" fill="#e8e0e7" stroke="#4d4852" stroke-width="0.9" stroke-linejoin="round"/>
<ellipse cx="8" cy="37.3" rx="2.6" ry="1.8" fill="#cfc8cc"/>
<ellipse cx="85" cy="12" rx="4" ry="3" fill="#e0d9dd"/>
<ellipse cx="24.9" cy="39" rx="1.1" ry="0.8" fill="#2c2c50"/><ellipse cx="25.8" cy="44.4" rx="1.2" ry="0.8" fill="#2c2c50"/><ellipse cx="48" cy="13.8" rx="0.9" ry="0.7" fill="#3a3a5a"/>
</g>
<g transform="translate(584,82)" clip-path="url(#k4)">
<rect x="-1" y="-1" width="103" height="67.5" fill="#dbd2e4"/>
<path d="M39.5,8.8 L40.5,4.8 L42.3,4.3 L43.1,9.4 L42.6,10.0Z" fill="#968dbd" stroke="#968dbd" stroke-width="7.5" stroke-linejoin="round"/>
<path d="M53.6,19.0 L48.5,16.2 L48.4,15.8 L49.4,14.6 L53.7,14.1 L56.7,14.8 L55.7,18.4Z" fill="#968dbd" stroke="#968dbd" stroke-width="8.5" stroke-linejoin="round"/>
<path d="M66.5,8.8 L64.8,8.8 L65.1,6.9 L67.1,4.6 L69.4,3.7 L69.9,4.3Z" fill="#968dbd" stroke="#968dbd" stroke-width="7.0" stroke-linejoin="round"/>
<path d="M66.6,23.2 L64.2,20.7 L65.1,16.8 L66.6,16.8 L70.1,20.1 L69.1,22.0Z" fill="#968dbd" stroke="#968dbd" stroke-width="8.5" stroke-linejoin="round"/>
<path d="M81.7,17.8 L83.2,16.0 L84.0,15.7 L85.1,19.3Z" fill="#968dbd" stroke="#968dbd" stroke-width="7.5" stroke-linejoin="round"/>
<path d="M92.1,7.3 L92.8,6.6 L95.3,5.9 L96.3,6.9 L96.0,7.8Z" fill="#968dbd" stroke="#968dbd" stroke-width="7.0" stroke-linejoin="round"/>
<path d="M35.5,21.2 L34.7,20.9 L34.4,18.5 L35.5,15.2 L39.9,16.9 L40.1,17.7 L40.1,18.1Z" fill="#968dbd" stroke="#968dbd" stroke-width="7.0" stroke-linejoin="round"/>
<path d="M56.6,31.2 L55.3,30.6 L56.2,26.8 L58.2,26.3 L60.8,28.9 L59.8,30.2Z" fill="#968dbd" stroke="#968dbd" stroke-width="7.5" stroke-linejoin="round"/>
<path d="M77.8,42.4 L78.0,44.6 L76.6,47.4 L75.3,43.8 L75.4,43.4 L75.9,42.8Z" fill="#968dbd" stroke="#968dbd" stroke-width="8.5" stroke-linejoin="round"/>
<path d="M91.6,33.8 L90.3,33.5 L90.5,31.1 L92.3,32.1Z" fill="#968dbd" stroke="#968dbd" stroke-width="8.5" stroke-linejoin="round"/>
<path d="M32.6,47.9 L30.4,49.1 L29.9,49.1 L31.5,45.6 L33.1,46.1Z" fill="#968dbd" stroke="#968dbd" stroke-width="8.5" stroke-linejoin="round"/>
<path d="M15.2,48.3 L13.4,48.5 L13.7,46.3Z" fill="#968dbd" stroke="#968dbd" stroke-width="7.5" stroke-linejoin="round"/>
<path d="M46.0,62.0 L44.1,61.3 L45.0,59.3 L46.6,58.5 L48.0,60.3 L47.4,61.3Z" fill="#968dbd" stroke="#968dbd" stroke-width="7.5" stroke-linejoin="round"/>
<path d="M66.9,57.7 L64.7,60.2 L63.8,59.0 L64.5,57.5Z" fill="#968dbd" stroke="#968dbd" stroke-width="8.5" stroke-linejoin="round"/>
<path d="M85.6,61.1 L83.8,60.9 L82.4,59.7 L81.0,57.0 L86.0,57.9 L86.6,60.2Z" fill="#968dbd" stroke="#968dbd" stroke-width="7.5" stroke-linejoin="round"/>
<path d="M22.1,34.3 L17.7,35.3 L17.7,32.9 L19.5,32.4Z" fill="#968dbd" stroke="#968dbd" stroke-width="7.0" stroke-linejoin="round"/>
<path d="M45.3,42.2 L45.0,43.6 L41.8,42.5 L42.7,41.4 L44.8,41.1Z" fill="#968dbd" stroke="#968dbd" stroke-width="7.0" stroke-linejoin="round"/>
<path d="M7.2,60.8 L6.5,62.1 L6.3,62.2 L4.4,61.8 L3.0,60.0 L2.9,59.3 L4.0,58.1 L5.9,57.5Z" fill="#968dbd" stroke="#968dbd" stroke-width="7.0" stroke-linejoin="round"/>
<path d="M97.6,48.9 L95.0,48.3 L95.0,47.9 L96.1,46.0 L98.1,48.4Z" fill="#968dbd" stroke="#968dbd" stroke-width="7.0" stroke-linejoin="round"/>
<path d="M35.8,38.9 L31.5,37.6 L31.4,37.4 L35.8,34.4 L37.0,37.4Z" fill="#968dbd" stroke="#968dbd" stroke-width="6.5" stroke-linejoin="round"/>
<path d="M8.3,26.1 L6.8,24.2 L7.0,24.0 L9.1,24.1 L9.3,26.0Z" fill="#968dbd" stroke="#968dbd" stroke-width="6.0" stroke-linejoin="round"/>
<path d="M24.5,8.7 L23.4,6.0 L23.9,5.6 L24.4,5.5 L26.3,8.5Z" fill="#968dbd" stroke="#968dbd" stroke-width="7.0" stroke-linejoin="round"/>
<path d="M8.8,5.3 L9.8,6.3 L9.1,8.3 L8.4,8.8 L7.7,8.9 L7.1,6.1 L7.7,5.4Z" fill="#968dbd" stroke="#968dbd" stroke-width="7.0" stroke-linejoin="round"/>
<path d="M57.7,64.8 L57.8,65.2 L57.8,65.2 L54.8,67.0 L53.4,65.4 L53.5,65.2 L53.6,64.8 L53.8,64.5 L54.2,64.2 L54.6,63.9 L55.1,63.8 L55.6,63.7 L56.2,63.8 L56.7,63.9 L57.1,64.2 L57.4,64.5Z" fill="#968dbd" stroke="#968dbd" stroke-width="3.4" stroke-linejoin="round"/>
<path d="M37.0,72.9 L36.5,73.2 L35.9,73.4 L35.7,73.4 L34.7,70.7 L35.0,70.2 L36.9,69.9 L37.0,72.8Z" fill="#968dbd" stroke="#968dbd" stroke-width="3.9" stroke-linejoin="round"/>
<path d="M105.3,19.5 L105.4,20.0 L105.5,20.5 L105.5,20.5 L103.7,22.4 L103.5,22.2 L103.2,21.9 L103.0,21.5 L102.9,21.0 L102.8,20.5 L102.9,20.0 L103.0,19.5 L103.2,19.1 L103.5,18.8 L103.7,18.6 L103.8,18.6 L105.2,19.3Z" fill="#968dbd" stroke="#968dbd" stroke-width="3.1" stroke-linejoin="round"/>
<path d="M54.8,44.6 L50.8,45.0 L50.7,44.9 L50.7,44.4 L50.8,43.8 L55.1,43.6 L55.1,43.6Z" fill="#968dbd" stroke="#968dbd" stroke-width="3.9" stroke-linejoin="round"/>
<path d="M96.4,25.3 L96.0,25.5 L95.5,25.6 L95.0,25.5 L94.5,25.3 L94.0,25.0 L93.7,24.7 L93.4,24.2 L93.2,23.7 L93.2,23.2 L93.2,22.6 L93.4,22.1 L93.7,21.6 L93.9,21.5 L97.7,23.2 L97.7,23.7 L97.5,24.2 L97.2,24.7 L96.9,25.0Z" fill="#968dbd" stroke="#968dbd" stroke-width="3.7" stroke-linejoin="round"/>
<path d="M-1.9,64.9 L-1.5,65.2 L-1.3,65.6 L-1.1,66.1 L-1.1,66.4 L-3.2,67.3 L-4.3,66.1 L-2.2,64.7Z" fill="#968dbd" stroke="#968dbd" stroke-width="3.4" stroke-linejoin="round"/>
<path d="M51.4,72.4 L50.9,72.6 L50.5,72.7 L50.0,72.6 L49.5,72.4 L49.1,72.1 L48.7,71.8 L48.5,68.5 L48.7,68.1 L49.1,67.7 L49.5,67.4 L49.9,67.2 L52.4,70.1 L52.3,71.6 L52.3,71.7 L51.9,72.1Z" fill="#968dbd" stroke="#968dbd" stroke-width="3.9" stroke-linejoin="round"/>
<path d="M53.1,-1.3 L49.2,-1.0 L51.1,-2.8 L53.8,-1.9Z" fill="#968dbd" stroke="#968dbd" stroke-width="3.6" stroke-linejoin="round"/>
<path d="M52.7,50.5 L52.4,50.3 L52.2,50.0 L52.1,49.7 L52.1,49.4 L52.1,49.1 L52.2,48.8 L52.4,48.5 L52.5,48.5 L54.5,48.3 L54.6,48.3 L54.8,48.5 L55.0,48.8 L55.1,49.1 L55.2,49.4 L55.1,49.7 L55.1,49.9Z" fill="#968dbd" stroke="#968dbd" stroke-width="2.9" stroke-linejoin="round"/>
<path d="M66.1,-2.8 L66.1,-2.6 L65.9,-2.3 L65.7,-2.0 L65.5,-1.8 L65.1,-1.5 L64.7,-1.4 L63.0,-3.7Z" fill="#968dbd" stroke="#968dbd" stroke-width="3.1" stroke-linejoin="round"/>
<path d="M6.8,45.4 L6.9,45.9 L7.0,46.4 L6.9,46.9 L6.8,47.4 L6.5,47.9 L6.2,48.2 L5.9,48.4 L4.6,46.2 L6.2,44.6 L6.2,44.6 L6.5,45.0Z" fill="#968dbd" stroke="#968dbd" stroke-width="3.4" stroke-linejoin="round"/>
<path d="M62.0,0.7 L61.8,0.9 L61.5,1.1 L61.2,1.2 L60.9,1.3 L60.6,1.2 L60.3,1.1 L60.0,0.9 L59.9,0.8 L59.8,0.7 L59.6,0.4 L59.5,0.0 L59.4,-0.4 L59.5,-0.8 L59.6,-1.1 L59.8,-1.5 L60.0,-1.7 L60.3,-1.9 L60.3,-1.9 L62.1,0.5Z" fill="#968dbd" stroke="#968dbd" stroke-width="3.0" stroke-linejoin="round"/>
<path d="M15.0,15.7 L14.9,16.1 L14.6,16.4 L14.4,16.7 L14.1,16.9 L13.7,17.1 L13.4,17.1 L13.2,17.1 L12.1,14.1 L12.2,14.0 L12.4,13.7 L12.7,13.5 L12.9,13.4 L15.0,15.3Z" fill="#968dbd" stroke="#968dbd" stroke-width="3.2" stroke-linejoin="round"/>
<path d="M88.5,45.0 L88.3,45.0 L88.2,45.1 L87.7,44.9 L87.5,44.8 L87.3,44.6 L87.1,44.2 L87.0,43.9 L87.0,43.4 L87.0,43.0 L87.1,42.6 L87.3,42.3 L87.5,42.1 L87.7,41.9 L87.9,41.8 L88.1,41.8 L88.3,41.8 L88.5,41.9 L88.8,42.1 L89.0,42.3 L89.1,42.6 L89.2,43.0 L89.3,43.4 L89.2,43.9 L89.1,44.2 L89.0,44.6 L88.8,44.8Z" fill="#968dbd" stroke="#968dbd" stroke-width="2.8" stroke-linejoin="round"/>
<path d="M82.1,-1.2 L81.4,-4.3 L82.1,-5.0 L82.2,-5.0 L82.3,-5.0 L83.0,-2.4Z" fill="#968dbd" stroke="#968dbd" stroke-width="3.7" stroke-linejoin="round"/>
<path d="M103.3,12.4 L103.2,12.3 L102.9,11.9 L102.8,11.4 L102.7,10.9 L102.8,10.4 L102.9,9.9 L103.2,9.5 L103.5,9.2 L103.9,8.9 L104.2,8.8 L106.4,10.4Z" fill="#968dbd" stroke="#968dbd" stroke-width="3.4" stroke-linejoin="round"/>
<path d="M91.1,73.9 L90.6,74.2 L90.0,74.4 L89.3,74.4 L88.6,74.4 L88.0,74.2 L88.0,74.2 L88.8,70.9 L91.8,73.2 L91.8,73.2 L91.5,73.6Z" fill="#968dbd" stroke="#968dbd" stroke-width="3.6" stroke-linejoin="round"/>
<path d="M37.0,57.2 L36.7,57.3 L36.4,57.4 L36.1,57.3 L35.8,57.2 L35.5,57.1 L35.3,56.8 L35.1,56.6 L35.0,56.2 L34.9,55.9 L35.0,55.6 L35.1,55.3 L35.3,55.0 L35.5,54.8 L35.8,54.6 L36.1,54.5 L36.4,54.5 L36.7,54.5 L37.0,54.6 L37.3,54.8 L37.5,55.0 L37.7,55.3 L37.8,55.6 L37.8,55.9 L37.8,56.2 L37.7,56.6 L37.5,56.8 L37.3,57.1Z" fill="#968dbd" stroke="#968dbd" stroke-width="2.9" stroke-linejoin="round"/>
<path d="M83.9,73.4 L83.5,73.4 L83.1,73.2 L82.7,72.9 L82.3,72.6 L82.0,72.1 L82.0,71.8 L82.8,69.0 L83.1,68.9 L83.5,68.7 L83.9,68.7 L84.4,68.7 L84.8,68.9 L85.2,69.2 L85.3,69.3 L84.2,73.4Z" fill="#968dbd" stroke="#968dbd" stroke-width="3.6" stroke-linejoin="round"/>
<path d="M1.7,44.3 L1.5,44.3 L1.4,44.3 L0.7,43.1 L2.3,41.7 L2.5,41.8 L2.8,41.9 L3.0,42.1 L3.2,42.4 L3.3,42.7 L3.3,42.8Z" fill="#968dbd" stroke="#968dbd" stroke-width="2.8" stroke-linejoin="round"/>
<path d="M71.6,75.7 L71.3,75.8 L71.0,75.7 L70.7,75.6 L70.4,75.3 L70.1,75.0 L69.8,74.5 L69.7,74.0 L69.6,73.6 L70.7,71.2 L71.0,71.0 L71.3,71.0 L71.6,71.0 L71.7,71.1 L71.9,75.6Z" fill="#968dbd" stroke="#968dbd" stroke-width="3.4" stroke-linejoin="round"/>
<path d="M99.9,-5.6 L99.7,-8.5 L99.9,-8.6 L100.5,-8.8 L101.2,-8.9 L101.8,-8.8 L102.4,-8.6 L102.7,-8.4 L102.8,-5.7Z" fill="#968dbd" stroke="#968dbd" stroke-width="4.0" stroke-linejoin="round"/>
<path d="M22.1,44.7 L21.8,44.8 L21.6,44.8 L21.3,44.8 L21.0,44.7 L20.8,44.5 L20.5,44.2 L20.3,43.9 L20.2,43.4 L20.2,43.0 L20.2,42.5 L20.3,42.1 L20.5,41.7 L20.8,41.4 L21.0,41.3 L21.3,41.1 L21.6,41.1 L21.8,41.1 L22.1,41.3 L22.4,41.4 L22.6,41.7 L22.8,42.1 L22.9,42.5 L23.0,43.0 L22.9,43.4 L22.8,43.9 L22.6,44.2 L22.4,44.5Z" fill="#968dbd" stroke="#968dbd" stroke-width="3.0" stroke-linejoin="round"/>
<path d="M21.5,68.9 L21.3,69.0 L20.8,69.0 L20.3,69.0 L19.8,68.8 L19.2,68.2 L19.6,66.7 L21.2,66.1 L22.4,68.0Z" fill="#968dbd" stroke="#968dbd" stroke-width="3.2" stroke-linejoin="round"/>
<path d="M-2.3,5.1 L-4.2,6.7 L-5.7,6.1 L-5.8,6.0 L-5.9,5.2 L-5.8,4.4 L-5.6,3.7 L-5.3,3.1 L-5.1,2.9Z" fill="#968dbd" stroke="#968dbd" stroke-width="3.8" stroke-linejoin="round"/>
<path d="M78.3,-8.8 L78.5,-8.5 L78.6,-8.1 L78.6,-7.7 L78.6,-7.4 L78.5,-7.0 L78.3,-6.7 L78.1,-6.5 L78.0,-6.4 L76.5,-6.4 L76.4,-6.5 L76.1,-6.7 L76.0,-7.0 L75.9,-7.4 L75.8,-7.7 L75.9,-8.1 L76.0,-8.5 L76.1,-8.8 L76.4,-9.0 L76.6,-9.2 L76.9,-9.3 L77.2,-9.3 L77.5,-9.3 L77.8,-9.2 L78.1,-9.0Z" fill="#968dbd" stroke="#968dbd" stroke-width="2.9" stroke-linejoin="round"/>
<path d="M17.8,19.2 L19.0,17.2 L19.3,17.0 L19.9,17.0 L20.5,17.0 L20.5,17.0 L21.4,19.0 L20.9,21.2Z" fill="#968dbd" stroke="#968dbd" stroke-width="3.7" stroke-linejoin="round"/>
<path d="M97.1,71.7 L96.4,71.6 L95.9,71.5 L97.5,68.1 L97.9,68.2 L98.6,68.4 L99.0,68.6 L99.1,69.0 L97.5,71.7Z" fill="#968dbd" stroke="#968dbd" stroke-width="3.7" stroke-linejoin="round"/>
<path d="M22.4,-2.5 L22.0,-2.3 L21.6,-2.1 L21.2,-2.1 L21.0,-2.1 L19.9,-3.8 L20.2,-4.2 L23.0,-4.1 L23.0,-4.1 L23.1,-3.8 L23.0,-3.4 L22.9,-3.1 L22.7,-2.8Z" fill="#968dbd" stroke="#968dbd" stroke-width="3.2" stroke-linejoin="round"/>
<path d="M13.7,67.5 L13.5,67.1 L13.4,66.5 L13.3,65.8 L13.4,65.1 L13.5,64.4 L13.8,63.9 L14.0,63.6 L16.2,65.9 L15.8,67.1Z" fill="#968dbd" stroke="#968dbd" stroke-width="3.4" stroke-linejoin="round"/>
<path d="M103.0,30.3 L102.9,30.2 L102.6,29.8 L102.3,29.2 L102.1,28.6 L102.0,27.8 L102.1,27.1 L102.3,26.4 L102.5,26.0 L103.4,26.1 L104.6,27.3 L104.2,30.0Z" fill="#968dbd" stroke="#968dbd" stroke-width="3.6" stroke-linejoin="round"/>
<path d="M16.8,74.4 L16.4,74.5 L16.1,74.6 L15.8,74.5 L15.5,74.4 L15.2,74.2 L14.9,73.8 L14.6,73.4 L14.5,72.8 L14.4,72.3 L14.5,71.7 L14.6,71.2 L14.7,71.0 L16.7,70.6 L17.8,71.7 L17.8,72.3 L17.8,72.8 L17.6,73.4 L17.4,73.8 L17.1,74.2Z" fill="#968dbd" stroke="#968dbd" stroke-width="3.4" stroke-linejoin="round"/>
<path d="M10.5,35.2 L7.2,33.9 L7.2,32.5 L8.0,31.3 L9.6,31.1 L9.8,31.2 L10.3,31.5 L10.6,31.9 L10.9,32.4 L11.1,32.9 L11.2,33.5 L11.1,34.0 L10.9,34.5 L10.6,35.0Z" fill="#968dbd" stroke="#968dbd" stroke-width="3.8" stroke-linejoin="round"/>
<path d="M104.2,42.9 L103.7,43.0 L103.1,42.9 L102.6,42.8 L102.2,42.6 L101.9,42.3 L101.7,42.1 L101.6,41.9 L101.5,41.7 L101.6,41.5 L104.2,40.4 L104.2,40.4 L104.5,40.4 L104.8,40.6 L105.1,40.7 L105.5,41.0 L105.5,41.1 L104.3,42.9Z" fill="#968dbd" stroke="#968dbd" stroke-width="3.1" stroke-linejoin="round"/>
<path d="M73.7,65.8 L73.4,66.0 L73.1,66.1 L72.8,66.1 L72.4,66.1 L72.1,66.0 L71.9,65.8 L71.6,65.6 L71.5,65.3 L71.4,65.0 L71.3,64.7 L71.4,64.4 L71.5,64.2 L71.6,63.9 L71.9,63.7 L72.1,63.5 L72.4,63.4 L72.8,63.4 L73.1,63.4 L73.4,63.5 L73.7,63.7 L73.9,63.9 L74.1,64.2 L74.2,64.4 L74.2,64.7 L74.2,65.0 L74.1,65.3 L73.9,65.6Z" fill="#968dbd" stroke="#968dbd" stroke-width="2.8" stroke-linejoin="round"/>
<path d="M1.1,14.6 L1.1,14.8 L1.1,14.9 L-1.9,16.1 L-2.6,14.8 L-2.0,14.0Z" fill="#968dbd" stroke="#968dbd" stroke-width="3.5" stroke-linejoin="round"/>
<path d="M8.3,-2.0 L7.7,-1.8 L7.2,-1.8 L6.7,-1.8 L6.1,-2.0 L5.8,-2.2 L4.9,-3.7 L6.6,-7.0 L6.7,-7.0 L7.2,-7.1 L7.7,-7.0 L8.3,-6.8 L8.7,-6.5 L9.1,-6.1 L9.4,-5.6 L9.6,-5.0 L9.7,-4.4 L9.6,-3.8 L9.4,-3.3 L9.1,-2.8 L8.7,-2.3Z" fill="#968dbd" stroke="#968dbd" stroke-width="3.9" stroke-linejoin="round"/>
<path d="M-4.6,23.8 L-6.5,23.1 L-6.6,22.7 L-6.5,22.2 L-6.5,22.1 L-4.0,21.4 L-3.5,22.4 L-3.4,22.7 L-3.5,23.1Z" fill="#968dbd" stroke="#968dbd" stroke-width="3.2" stroke-linejoin="round"/>
<path d="M-1.7,41.0 L-1.9,40.9 L-2.1,40.8 L-1.9,38.3 L-1.9,38.3 L-1.5,38.1 L-1.0,38.1 L-0.6,38.1 L-0.2,38.3 L0.1,38.5 L0.4,38.7 L0.5,39.0 L0.6,39.0Z" fill="#968dbd" stroke="#968dbd" stroke-width="3.0" stroke-linejoin="round"/>
<path d="M87.9,-3.4 L86.4,-3.5 L85.9,-5.3 L86.0,-5.4 L86.3,-5.7 L86.6,-5.9 L86.9,-6.0 L87.2,-6.0 L87.6,-6.0 L87.9,-5.9 L88.2,-5.7 L88.4,-5.4 L88.6,-5.1 L88.7,-4.7Z" fill="#968dbd" stroke="#968dbd" stroke-width="3.0" stroke-linejoin="round"/>
<path d="M65.9,72.3 L65.4,72.3 L64.8,72.3 L64.3,72.1 L63.8,71.9 L63.5,71.6 L63.5,71.6 L63.7,69.8 L63.8,69.6 L64.3,69.4 L64.8,69.3 L65.4,69.2 L65.9,69.3 L66.4,69.4 L66.9,69.6 L67.2,69.9 L67.3,70.0 L66.4,72.2Z" fill="#968dbd" stroke="#968dbd" stroke-width="3.3" stroke-linejoin="round"/>
<path d="M100.4,58.7 L98.0,60.6 L97.8,60.4 L97.5,59.9 L97.5,59.8 L99.1,56.9Z" fill="#968dbd" stroke="#968dbd" stroke-width="3.5" stroke-linejoin="round"/>
<path d="M20.8,58.0 L19.6,57.5 L19.7,55.6 L20.0,55.4 L20.5,55.3 L21.0,55.2 L21.5,55.3 L22.0,55.4 L22.2,55.5Z" fill="#968dbd" stroke="#968dbd" stroke-width="3.2" stroke-linejoin="round"/>
<path d="M36.4,-8.1 L36.4,-7.9 L34.6,-6.3 L33.1,-6.3 L32.4,-8.7 L32.5,-8.8 L32.8,-9.1 L33.3,-9.3 L33.7,-9.5 L34.3,-9.5 L34.8,-9.5 L35.3,-9.3 L35.7,-9.1 L36.0,-8.8 L36.2,-8.4Z" fill="#968dbd" stroke="#968dbd" stroke-width="3.4" stroke-linejoin="round"/>
<path d="M34.5,66.3 L32.9,64.3 L34.0,63.6 L34.5,63.5 L35.2,63.6 L35.9,63.8 L36.4,64.0 L36.8,64.3 L37.1,64.7 L37.2,65.0 L37.2,65.2 L37.2,65.5 L37.1,65.8 L36.9,66.0Z" fill="#968dbd" stroke="#968dbd" stroke-width="3.5" stroke-linejoin="round"/>
<path d="M43.4,34.4 L43.2,34.5 L43.1,34.5 L42.9,34.5 L42.7,34.4 L42.5,34.2 L42.3,33.9 L42.1,33.6 L41.9,33.1 L41.9,32.6 L41.9,32.1 L42.0,31.9 L43.6,31.3 L44.0,31.6 L44.1,31.6 L44.2,32.1 L44.2,32.6 L44.2,33.1 L44.1,33.6 L43.9,33.9 L43.7,34.2Z" fill="#968dbd" stroke="#968dbd" stroke-width="2.9" stroke-linejoin="round"/>
<path d="M109.7,8.1 L106.5,5.7 L106.6,5.1 L106.7,4.8 L110.6,5.0 L110.6,5.1 L110.7,5.8 L110.6,6.5 L110.4,7.1 L110.1,7.7 L109.7,8.1Z" fill="#968dbd" stroke="#968dbd" stroke-width="3.8" stroke-linejoin="round"/>
<path d="M67.1,43.1 L64.8,43.6 L63.8,42.4 L63.8,42.1 L63.8,41.9 L64.2,40.9 L64.4,40.8 L67.4,41.9 L67.4,42.1 L67.4,42.5 L67.2,42.9Z" fill="#968dbd" stroke="#968dbd" stroke-width="3.2" stroke-linejoin="round"/>
<path d="M39.6,-2.1 L39.2,-1.9 L38.8,-1.8 L38.4,-1.8 L37.3,-4.2 L37.7,-4.5 L37.9,-4.6 L38.4,-4.6 L38.8,-4.6 L39.2,-4.5 L39.5,-4.3 L40.2,-3.4 L40.2,-3.2 L40.1,-2.9 L40.0,-2.7 L39.8,-2.4Z" fill="#968dbd" stroke="#968dbd" stroke-width="3.0" stroke-linejoin="round"/>
<path d="M102.6,-1.8 L103.0,-1.6 L103.4,-1.4 L103.5,-1.3 L103.3,0.1 L103.0,0.4 L102.5,0.6 L102.0,0.7 L101.3,0.8 L100.7,0.7 L100.2,0.6 L99.7,0.4 L99.3,0.1 L99.1,-0.2 L99.0,-0.4 L98.9,-0.6 L99.0,-0.8 L99.1,-1.1 L99.3,-1.4 L99.7,-1.6 L99.9,-1.7Z" fill="#968dbd" stroke="#968dbd" stroke-width="3.3" stroke-linejoin="round"/>
<path d="M14.9,58.5 L14.5,58.4 L14.1,58.3 L13.6,58.0 L13.3,57.7 L13.1,57.3 L12.9,56.9 L12.9,56.5 L12.9,56.1 L13.1,55.7 L13.3,55.3 L13.6,55.0 L14.1,54.7 L14.5,54.6 L15.0,54.5 L15.5,54.6 L15.9,54.7 L16.3,54.9 L16.1,57.6Z" fill="#968dbd" stroke="#968dbd" stroke-width="3.4" stroke-linejoin="round"/>
<path d="M-2.2,54.0 L-2.6,54.3 L-3.2,54.5 L-3.7,54.5 L-4.2,54.5 L-4.8,54.3 L-5.2,54.0 L-5.6,53.6 L-5.9,53.1 L-6.1,52.6 L-6.1,52.1 L-6.1,51.6 L-5.9,51.0 L-5.7,50.8 L-5.2,50.5 L-3.2,50.9 L-1.6,53.3 L-1.8,53.6Z" fill="#968dbd" stroke="#968dbd" stroke-width="3.8" stroke-linejoin="round"/>
<path d="M61.3,48.0 L60.9,48.2 L60.5,48.2 L60.1,48.2 L59.7,48.0 L59.3,47.8 L59.0,47.5 L58.7,47.1 L58.6,46.6 L58.5,46.2 L58.6,45.7 L58.7,45.3 L59.0,44.9 L59.2,44.6 L60.9,44.4 L62.1,45.8 L61.5,47.9Z" fill="#968dbd" stroke="#968dbd" stroke-width="3.4" stroke-linejoin="round"/>
<path d="M-7.6,63.5 L-8.1,63.5 L-8.2,63.2 L-8.4,62.5 L-8.5,61.7 L-8.4,60.9 L-8.2,60.2 L-7.9,59.6 L-7.5,59.1 L-7.1,58.8 L-6.7,58.6 L-5.2,59.0 L-5.1,59.1 L-4.7,59.6 L-4.4,60.2 L-4.2,60.9 L-4.1,61.3Z" fill="#968dbd" stroke="#968dbd" stroke-width="4.0" stroke-linejoin="round"/>
<path d="M25.3,73.9 L24.6,73.9 L24.0,73.7 L23.5,73.4 L23.1,73.1 L22.9,72.8 L22.8,72.6 L25.3,70.2 L25.6,70.3 L26.2,71.1 L25.9,73.9Z" fill="#968dbd" stroke="#968dbd" stroke-width="3.6" stroke-linejoin="round"/>
<path d="M2.2,19.4 L2.3,19.7 L2.2,20.1 L2.1,20.5 L1.9,20.8 L1.7,21.1 L1.4,21.2 L1.0,21.4 L0.7,21.4 L0.3,21.4 L-0.0,21.2 L-0.3,21.1 L-0.6,20.8 L-0.9,20.2 L-0.9,20.1 L-0.9,19.7 L-0.9,19.4 L1.6,18.4 L1.7,18.4 L1.9,18.7 L2.1,19.0Z" fill="#968dbd" stroke="#968dbd" stroke-width="3.0" stroke-linejoin="round"/>
<path d="M56.3,1.6 L57.6,3.1 L57.6,3.2 L57.6,3.7 L57.6,4.2 L57.4,4.7 L57.2,5.1 L57.0,5.4 L56.7,5.6 L56.4,5.7 L56.1,5.7 L55.9,5.7 L55.6,5.6 L55.6,5.6 L55.6,1.8 L55.6,1.8 L55.9,1.7 L56.1,1.6Z" fill="#968dbd" stroke="#968dbd" stroke-width="3.2" stroke-linejoin="round"/>
<path d="M68.8,46.8 L69.1,47.2 L69.3,47.6 L69.3,48.0 L69.3,48.3 L69.1,48.7 L68.8,49.1 L68.4,49.4 L67.9,49.7 L67.3,49.9 L66.7,50.0 L66.1,49.9 L65.5,49.7 L65.0,49.4 L64.9,49.4 L65.6,47.1 L68.5,46.5Z" fill="#968dbd" stroke="#968dbd" stroke-width="3.6" stroke-linejoin="round"/>
<path d="M3.1,34.8 L2.9,34.8 L2.3,35.0 L1.7,35.1 L1.1,35.0 L-0.4,34.3 L-0.4,34.3 L-0.6,34.0 L-0.7,34.0 L-0.6,33.1 L-0.4,32.8 L3.4,33.4 L3.4,34.4Z" fill="#968dbd" stroke="#968dbd" stroke-width="3.3" stroke-linejoin="round"/>
<path d="M9.8,19.1 L7.2,18.9 L6.9,18.5 L6.8,18.4 L6.4,17.1 L6.3,16.9 L6.4,16.3 L6.6,15.8 L6.9,15.3 L7.2,14.9 L7.7,14.6 L8.1,14.5 L8.4,14.4 L10.0,19.0Z" fill="#968dbd" stroke="#968dbd" stroke-width="3.8" stroke-linejoin="round"/>
<path d="M9.2,72.6 L8.9,72.7 L8.5,72.8 L8.2,72.7 L7.9,72.6 L7.6,72.4 L7.6,72.4 L7.8,69.5 L7.9,69.5 L8.2,69.3 L8.5,69.3 L8.9,69.3 L9.2,69.5 L9.5,69.7 L9.7,69.9 L9.9,70.3 L10.1,70.6 L10.1,71.0 L10.1,71.4 L9.9,71.8 L9.7,72.2 L9.5,72.4Z" fill="#968dbd" stroke="#968dbd" stroke-width="3.1" stroke-linejoin="round"/>
<path d="M81.9,5.9 L82.1,6.4 L82.1,7.0 L82.1,7.5 L81.9,8.0 L81.7,8.5 L81.3,8.8 L81.0,9.1 L80.6,9.2 L80.3,9.2 L78.3,6.9 L78.3,6.4 L78.5,5.9 L78.7,5.5 L79.0,5.2 L79.4,4.9 L79.8,4.8 L80.2,4.7 L80.6,4.8 L81.0,4.9 L81.3,5.2 L81.7,5.5Z" fill="#968dbd" stroke="#968dbd" stroke-width="3.5" stroke-linejoin="round"/>
<path d="M43.4,72.3 L43.0,72.5 L42.7,72.5 L42.3,72.5 L41.9,72.3 L41.6,72.1 L41.3,71.8 L41.1,71.4 L41.0,71.0 L40.9,70.6 L41.0,70.1 L41.1,69.7 L41.3,69.3 L41.6,69.0 L41.9,68.8 L42.3,68.6 L42.7,68.6 L43.0,68.6 L43.4,68.8 L43.7,69.0 L44.0,69.3 L44.2,69.7 L44.4,70.1 L44.4,70.6 L44.4,71.0 L44.2,71.4 L44.0,71.8 L43.7,72.1Z" fill="#968dbd" stroke="#968dbd" stroke-width="3.2" stroke-linejoin="round"/>
<path d="M9.2,39.0 L9.2,39.2 L9.1,39.6 L8.8,40.0 L8.4,40.3 L7.8,40.6 L7.2,40.8 L6.7,40.8 L4.6,38.5 L4.6,38.4 L5.6,37.5Z" fill="#968dbd" stroke="#968dbd" stroke-width="3.7" stroke-linejoin="round"/>
<path d="M105.0,69.1 L103.6,68.5 L103.5,68.1 L103.5,67.6 L103.5,67.2 L104.5,66.7 L106.6,67.5 L106.6,67.6 L106.6,67.9Z" fill="#968dbd" stroke="#968dbd" stroke-width="3.2" stroke-linejoin="round"/>
<path d="M92.1,0.9 L91.1,-1.5 L91.5,-2.2 L93.9,-0.9 L93.8,-0.6 L93.6,0.1 L93.4,0.5Z" fill="#968dbd" stroke="#968dbd" stroke-width="4.0" stroke-linejoin="round"/>
<path d="M15.8,-5.3 L15.8,-5.3 L15.6,-5.7 L15.5,-6.2 L15.5,-6.8 L15.5,-7.3 L15.6,-7.8 L15.8,-8.2 L16.0,-8.5 L16.2,-8.6 L16.4,-8.7 L16.5,-8.7 L16.7,-8.7 L16.8,-8.6 L17.0,-8.5 L17.6,-6.3 L17.6,-6.2 L17.5,-6.1 L17.0,-5.3Z" fill="#968dbd" stroke="#968dbd" stroke-width="2.9" stroke-linejoin="round"/>
<path d="M75.4,33.6 L75.0,33.9 L74.4,34.0 L73.8,34.1 L73.2,34.0 L72.6,33.9 L72.1,33.6 L71.8,33.4 L71.5,33.1 L71.4,32.8 L71.4,32.6 L71.4,32.4 L71.5,32.2 L71.8,31.9 L72.1,31.6 L72.6,31.4 L73.2,31.2 L73.8,31.2 L74.4,31.2 L75.0,31.4 L75.4,31.6 L75.8,31.9 L75.9,32.0 L76.1,32.9 L76.0,33.1 L75.8,33.4Z" fill="#968dbd" stroke="#968dbd" stroke-width="3.3" stroke-linejoin="round"/>
<path d="M96.6,18.4 L98.5,15.2 L98.7,15.4 L99.0,15.8 L99.3,16.5 L99.5,17.2 L99.5,17.6 L98.8,19.4Z" fill="#968dbd" stroke="#968dbd" stroke-width="3.7" stroke-linejoin="round"/>
<path d="M110.1,-7.8 L110.3,-7.4 L110.5,-7.1 L110.5,-6.7 L110.5,-6.3 L110.3,-5.9 L110.1,-5.6 L109.8,-5.3 L109.5,-5.1 L107.9,-5.0 L107.8,-5.0 L107.4,-5.3 L107.1,-5.6 L106.9,-5.9 L106.8,-6.3 L106.7,-6.7 L106.8,-7.1 L106.9,-7.4 L107.1,-7.8 L107.4,-8.1 L107.8,-8.3 L108.2,-8.4 L108.6,-8.5 L109.0,-8.4 L109.4,-8.3 L109.8,-8.1Z" fill="#968dbd" stroke="#968dbd" stroke-width="3.2" stroke-linejoin="round"/>
<path d="M102.8,63.8 L101.7,64.4 L101.5,64.1 L101.3,63.7 L101.1,63.3 L101.1,62.8 L101.1,62.6 L103.1,61.0 L103.2,61.1Z" fill="#968dbd" stroke="#968dbd" stroke-width="3.1" stroke-linejoin="round"/>
<path d="M61.3,38.4 L60.3,40.7 L58.3,41.0 L58.1,40.9 L58.0,40.9 L58.1,37.6 L58.6,37.5 L59.4,37.4 L60.1,37.5 L60.8,37.7 L61.2,37.9Z" fill="#968dbd" stroke="#968dbd" stroke-width="3.7" stroke-linejoin="round"/>
<path d="M48.2,29.9 L48.0,30.0 L45.9,28.5 L46.0,25.4 L46.0,25.4 L46.6,25.4 L47.2,25.4 L47.7,25.6 L48.2,25.9 L48.6,26.3 L48.9,26.8 L49.1,27.3 L49.2,27.9 L49.1,28.5 L48.9,29.0 L48.6,29.5Z" fill="#968dbd" stroke="#968dbd" stroke-width="3.9" stroke-linejoin="round"/>
<path d="M109.8,51.3 L109.6,51.5 L109.4,51.7 L107.2,52.1 L107.1,52.0 L105.7,50.8 L105.7,50.7 L105.8,50.5 L106.0,50.2 L106.3,50.0 L106.8,49.8 L107.3,49.6 L107.8,49.6 L108.4,49.6 L108.9,49.8 L109.3,50.0 L109.6,50.2 L109.8,50.5 L109.9,50.7 L109.9,50.9 L109.9,51.0Z" fill="#968dbd" stroke="#968dbd" stroke-width="3.1" stroke-linejoin="round"/>
<path d="M109.5,30.0 L109.2,30.1 L108.9,30.2 L108.6,30.1 L108.3,30.0 L108.0,29.8 L107.8,29.6 L108.0,28.0 L110.1,27.6 L110.2,27.8 L110.4,28.2 L110.4,28.5 L110.4,28.9 L110.2,29.3 L110.1,29.6 L109.8,29.8Z" fill="#968dbd" stroke="#968dbd" stroke-width="3.0" stroke-linejoin="round"/>
<path d="M-6.4,72.1 L-6.6,72.3 L-6.8,72.3 L-7.0,72.3 L-7.2,72.1 L-7.5,71.9 L-7.8,71.5 L-8.0,71.0 L-8.2,70.4 L-8.2,69.7 L-8.2,69.0 L-8.0,68.4 L-7.8,67.8 L-7.6,67.7 L-5.7,70.0 L-6.2,72.0Z" fill="#968dbd" stroke="#968dbd" stroke-width="3.4" stroke-linejoin="round"/>
<path d="M-6.2,28.5 L-8.1,28.7 L-8.2,28.5 L-8.4,28.0 L-8.4,27.5 L-8.4,27.0 L-8.2,26.5 L-8.0,26.1 L-8.0,26.1 L-6.2,26.8Z" fill="#968dbd" stroke="#968dbd" stroke-width="3.2" stroke-linejoin="round"/>
<path d="M72.2,-6.3 L71.8,-6.1 L71.2,-6.1 L70.7,-6.1 L70.3,-6.3 L70.2,-6.3 L69.8,-8.8 L69.9,-8.9 L70.3,-9.1 L70.7,-9.2 L71.2,-9.3 L71.8,-9.2 L72.2,-9.1 L72.5,-8.9 L72.5,-6.5Z" fill="#968dbd" stroke="#968dbd" stroke-width="3.2" stroke-linejoin="round"/>
<path d="M78.5,-1.0 L78.4,-0.9 L78.1,-0.7 L77.8,-0.6 L77.4,-0.6 L77.1,-0.6 L76.7,-0.7 L76.4,-0.9 L76.2,-1.1 L76.0,-1.4 L75.9,-1.6 L75.9,-1.9 L75.9,-2.2 L76.0,-2.5 L76.2,-2.7 L76.4,-2.9 L76.7,-3.1 L77.1,-3.2 L77.4,-3.2 L77.8,-3.2 L78.1,-3.1Z" fill="#968dbd" stroke="#968dbd" stroke-width="2.9" stroke-linejoin="round"/>
<path d="M69.2,38.7 L65.0,37.2 L64.9,36.6 L65.0,36.4 L65.4,36.1 L66.0,35.8 L66.6,35.6 L67.3,35.6 L68.0,35.6 L68.7,35.8 L68.8,35.9 L70.1,37.6 L70.0,37.7 L69.9,38.1 L69.6,38.4Z" fill="#968dbd" stroke="#968dbd" stroke-width="3.6" stroke-linejoin="round"/>
<path d="M4.1,72.4 L3.9,72.5 L3.6,72.6 L3.3,72.5 L3.1,72.4 L3.1,72.4 L2.7,69.0 L2.8,69.0 L3.1,68.8 L3.3,68.7 L3.6,68.6 L3.9,68.7 L4.1,68.8 L4.4,69.0 L4.6,69.2 L4.3,72.3Z" fill="#968dbd" stroke="#968dbd" stroke-width="3.1" stroke-linejoin="round"/>
<path d="M18.5,25.8 L17.9,26.1 L17.3,26.3 L16.6,26.4 L15.9,26.3 L15.2,26.1 L14.6,25.8 L14.3,25.5 L14.2,23.4 L14.2,23.4 L14.6,23.0 L15.2,22.7 L15.8,22.6 L18.9,24.6 L18.7,25.6Z" fill="#968dbd" stroke="#968dbd" stroke-width="3.7" stroke-linejoin="round"/>
<path d="M-5.0,34.3 L-5.1,34.3 L-7.6,34.4 L-7.9,34.3 L-8.2,34.0 L-8.4,33.7 L-8.6,33.4 L-8.6,33.0 L-8.6,32.7 L-8.4,32.4 L-8.2,32.1 L-5.1,31.9 L-4.6,32.2 L-4.5,32.4 L-4.4,32.7 L-4.3,33.0 L-4.4,33.4 L-4.5,33.7 L-4.7,34.0Z" fill="#968dbd" stroke="#968dbd" stroke-width="3.3" stroke-linejoin="round"/>
<path d="M28.6,-4.2 L28.3,-4.1 L28.0,-4.0 L27.7,-4.1 L27.4,-4.2 L27.1,-4.4 L26.8,-4.7 L26.6,-5.0 L26.5,-5.4 L26.4,-5.8 L26.5,-6.3 L26.6,-6.7 L26.8,-7.0 L27.1,-7.3 L27.4,-7.5 L27.7,-7.6 L28.0,-7.6 L28.3,-7.6 L28.6,-7.5 L28.9,-7.3 L29.2,-7.0 L29.4,-6.7 L29.5,-6.3 L29.6,-5.8 L29.5,-5.4 L29.4,-5.0 L29.2,-4.7 L28.9,-4.4Z" fill="#968dbd" stroke="#968dbd" stroke-width="3.1" stroke-linejoin="round"/>
<path d="M24.0,63.8 L24.0,63.7 L26.9,63.3 L27.3,63.7 L27.3,63.9 L27.4,64.1 L25.6,66.4Z" fill="#968dbd" stroke="#968dbd" stroke-width="3.6" stroke-linejoin="round"/>
<path d="M-6.7,46.0 L-7.1,46.1 L-7.6,46.0 L-8.0,45.9 L-8.4,45.7 L-8.6,45.5 L-8.8,45.2 L-8.9,45.0 L-8.9,44.8 L-8.9,44.5 L-8.8,44.3 L-8.6,44.0 L-8.4,43.8 L-8.0,43.6 L-7.6,43.5 L-7.1,43.5 L-6.7,43.5 L-6.7,43.5 L-6.3,43.6 L-6.2,43.7 L-6.6,46.0Z" fill="#968dbd" stroke="#968dbd" stroke-width="2.9" stroke-linejoin="round"/>
<path d="M107.9,64.4 L107.9,64.5 L106.1,63.8 L106.4,61.8 L106.7,61.8 L107.1,61.8 L107.6,61.9 L107.9,62.1 L108.2,62.4 L108.4,62.7 L108.5,63.0 L108.6,63.3 L108.5,63.6 L108.4,63.9 L108.2,64.2Z" fill="#968dbd" stroke="#968dbd" stroke-width="3.1" stroke-linejoin="round"/>
<path d="M25.6,28.0 L25.0,28.0 L24.3,27.9 L23.6,27.8 L23.0,27.5 L22.5,27.1 L22.4,27.0 L22.9,24.9 L23.0,24.8 L23.2,24.7 L26.7,25.6Z" fill="#968dbd" stroke="#968dbd" stroke-width="3.7" stroke-linejoin="round"/>
<path d="M52.2,5.5 L52.1,5.6 L51.8,5.7 L51.6,5.8 L51.4,5.7 L51.2,5.6 L50.9,5.4 L50.7,5.1 L50.4,4.7 L50.3,4.2 L50.3,3.7 L50.3,3.1 L50.4,2.6 L50.5,2.5 L52.2,2.3Z" fill="#968dbd" stroke="#968dbd" stroke-width="3.1" stroke-linejoin="round"/>
<path d="M59.7,72.1 L59.5,72.2 L58.9,72.4 L58.3,72.5 L57.7,72.4 L57.2,72.2 L56.7,71.9 L56.4,71.6 L56.4,70.5 L60.0,68.3Z" fill="#968dbd" stroke="#968dbd" stroke-width="3.8" stroke-linejoin="round"/>
<path d="M43.7,-4.8 L43.6,-4.7 L43.3,-4.8 L43.1,-4.9 L42.2,-6.2 L42.2,-6.3 L42.1,-6.8 L42.2,-7.3 L42.3,-7.8 L42.5,-8.2 L42.8,-8.5 L43.0,-8.7 L43.3,-8.8 L43.6,-8.8 L43.9,-8.8 L44.1,-8.7 L44.4,-8.5 L44.5,-8.4Z" fill="#968dbd" stroke="#968dbd" stroke-width="3.2" stroke-linejoin="round"/>
<path d="M108.3,16.0 L107.9,16.2 L107.6,16.4 L107.2,16.4 L106.8,16.4 L106.4,16.2 L106.1,16.0 L105.8,15.8 L105.6,15.5 L105.5,15.2 L105.5,15.1 L108.0,13.5 L108.3,13.7 L108.5,13.9 L108.7,14.2 L108.8,14.5 L108.9,14.8 L108.8,15.2 L108.7,15.5 L108.5,15.8Z" fill="#968dbd" stroke="#968dbd" stroke-width="3.0" stroke-linejoin="round"/>
<path d="M1.3,-1.0 L1.5,-0.6 L1.7,-0.2 L1.7,0.4 L1.7,0.9 L1.5,1.4 L1.3,1.8 L1.0,2.1 L0.6,2.4 L0.4,2.4 L-2.0,0.6 L-2.0,0.4 L-2.0,0.1 L0.3,-1.7 L0.6,-1.6 L1.0,-1.4Z" fill="#968dbd" stroke="#968dbd" stroke-width="3.4" stroke-linejoin="round"/>
<path d="M-2.0,29.3 L-2.1,29.3 L-2.5,29.2 L-2.8,29.1 L-2.8,26.6 L-1.6,25.9 L-1.4,26.0 L-1.1,26.2 L-0.9,26.4Z" fill="#968dbd" stroke="#968dbd" stroke-width="3.1" stroke-linejoin="round"/>
<path d="M-3.3,-3.2 L-3.7,-3.1 L-4.1,-3.0 L-4.6,-3.1 L-5.0,-3.2 L-5.4,-3.4 L-5.7,-3.6 L-5.7,-3.7 L-3.9,-5.8 L-3.7,-5.8 L-3.5,-5.8 L-2.3,-4.1 L-2.4,-4.0Z" fill="#968dbd" stroke="#968dbd" stroke-width="3.1" stroke-linejoin="round"/>
<path d="M-5.7,40.6 L-6.9,40.3 L-7.0,40.2 L-7.2,39.9 L-7.3,39.5 L-7.3,39.1 L-7.3,38.6 L-7.2,38.2 L-7.0,37.9 L-6.8,37.7 L-6.7,37.6 L-5.8,37.5 L-5.6,37.7 L-5.4,37.9 L-5.2,38.2 L-5.1,38.6 L-5.1,38.9 L-5.2,39.7 L-5.2,39.9 L-5.4,40.2 L-5.6,40.5Z" fill="#968dbd" stroke="#968dbd" stroke-width="2.8" stroke-linejoin="round"/>
<path d="M87.4,51.4 L87.1,51.5 L86.9,51.5 L86.7,51.5 L86.5,51.4 L86.2,51.2 L86.0,50.9 L85.8,50.5 L85.6,50.0 L85.6,49.4 L85.6,48.9 L85.8,48.4 L86.0,48.0 L86.1,47.8 L88.0,48.2 L88.1,48.4 L88.2,48.9 L88.3,49.4 L88.2,50.0 L88.1,50.5 L87.9,50.9 L87.6,51.2Z" fill="#968dbd" stroke="#968dbd" stroke-width="3.1" stroke-linejoin="round"/>
<path d="M29.1,68.9 L28.7,68.4 L29.8,66.9 L29.9,66.9 L30.3,66.8 L31.6,68.4 L31.4,68.8Z" fill="#968dbd" stroke="#968dbd" stroke-width="3.3" stroke-linejoin="round"/>
<path d="M17.2,2.0 L16.8,2.1 L16.5,2.2 L16.2,2.1 L15.9,2.0 L15.5,1.7 L15.2,1.3 L14.9,0.7 L14.7,-0.0 L14.6,-0.8 L14.7,-1.5 L14.8,-1.8 L16.8,-1.8 L18.2,0.4 L18.1,0.7 L17.9,1.3 L17.5,1.7Z" fill="#968dbd" stroke="#968dbd" stroke-width="3.7" stroke-linejoin="round"/>
<path d="M26.6,15.2 L27.0,15.3 L27.4,15.5 L27.6,15.7 L27.8,16.0 L27.9,16.2 L27.9,16.4 L27.9,16.6 L27.8,16.8 L24.6,17.1 L24.4,16.9 L24.4,16.6 L24.3,16.4 L24.4,16.2 L24.4,16.0 L24.6,15.7 L24.9,15.5 L25.3,15.3 L25.7,15.2 L26.1,15.1Z" fill="#968dbd" stroke="#968dbd" stroke-width="3.0" stroke-linejoin="round"/>
<path d="M33.6,4.1 L33.3,4.3 L32.9,4.4 L32.5,4.4 L32.1,4.4 L31.7,4.3 L31.4,4.1 L31.1,3.9 L30.9,3.6 L30.8,3.4 L30.8,3.2 L30.8,3.0 L30.9,2.8 L31.1,2.6 L31.4,2.4 L31.7,2.2 L32.1,2.1 L32.2,2.1 L34.1,2.8 L34.1,3.0 L34.2,3.2 L34.1,3.4 L34.0,3.6 L33.9,3.9Z" fill="#968dbd" stroke="#968dbd" stroke-width="2.8" stroke-linejoin="round"/>
<path d="M31.9,58.1 L32.0,58.6 L32.1,59.2 L32.0,59.8 L31.9,60.3 L31.7,60.7 L31.4,61.0 L31.2,61.2 L31.1,61.2 L31.0,61.3 L30.8,61.3 L30.6,61.3 L30.4,61.2 L30.2,61.0 L29.9,60.7 L29.7,60.3 L29.6,59.8 L29.5,59.2 L29.6,58.6 L29.7,58.1 L29.9,57.7 L30.2,57.4 L30.4,57.2 L30.6,57.1 L30.8,57.1 L31.0,57.1 L31.2,57.2 L31.4,57.4 L31.7,57.7Z" fill="#968dbd" stroke="#968dbd" stroke-width="3.1" stroke-linejoin="round"/>
<path d="M66.1,-8.2 L66.4,-8.0 L66.6,-7.8 L66.7,-7.6 L66.9,-6.5 L66.8,-6.3 L66.6,-6.0 L66.5,-6.0 L63.9,-6.8 L63.9,-6.9 L63.9,-7.2 L64.0,-7.5 L64.2,-7.8 L64.4,-8.0 L64.7,-8.2 L65.0,-8.3 L65.4,-8.4 L65.7,-8.3Z" fill="#968dbd" stroke="#968dbd" stroke-width="2.9" stroke-linejoin="round"/>
<path d="M76.3,75.1 L76.1,75.2 L75.8,75.2 L75.6,75.2 L75.3,75.1 L75.3,75.0 L75.2,72.4 L77.2,73.0 L77.2,73.2 L77.2,73.7 L77.1,74.2 L76.8,74.6 L76.6,74.9Z" fill="#968dbd" stroke="#968dbd" stroke-width="3.1" stroke-linejoin="round"/>
<path d="M106.8,36.8 L106.5,37.0 L106.1,37.1 L105.7,37.1 L105.4,37.1 L104.9,34.8 L104.9,34.7 L105.3,34.6 L105.7,34.6 L106.1,34.6 L106.5,34.7 L106.8,34.9 L107.1,35.1 L107.2,35.4 L107.3,35.6 L107.4,35.9 L107.3,36.1 L107.2,36.3 L107.1,36.6Z" fill="#968dbd" stroke="#968dbd" stroke-width="2.9" stroke-linejoin="round"/>
<path d="M-7.0,-9.5 L-6.7,-9.2 L-6.5,-8.7 L-6.4,-8.2 L-8.6,-5.5 L-8.8,-5.7 L-9.1,-6.2 L-9.2,-6.8 L-9.3,-7.4 L-9.2,-8.1 L-9.1,-8.7 L-8.8,-9.2 L-8.6,-9.5 L-8.3,-9.8 L-8.0,-9.9 L-7.8,-9.9 L-7.6,-9.9 L-7.3,-9.8Z" fill="#968dbd" stroke="#968dbd" stroke-width="3.3" stroke-linejoin="round"/>
<path d="M103.8,75.3 L103.2,75.5 L102.6,75.6 L101.9,75.5 L101.3,75.3 L100.8,75.0 L100.4,74.6 L102.1,71.9 L103.4,72.4 L103.8,75.3Z" fill="#968dbd" stroke="#968dbd" stroke-width="3.9" stroke-linejoin="round"/>
<path d="M32.2,30.1 L31.9,30.4 L31.4,30.5 L31.0,30.5 L30.5,30.5 L30.1,30.4 L29.7,30.1 L29.4,29.8 L29.2,29.5 L29.1,29.3 L30.0,27.3 L30.1,27.2 L30.5,27.1 L31.0,27.0 L31.4,27.1 L31.9,27.2 L32.2,27.4 L32.5,27.7 L32.8,28.0 L32.9,28.4 L32.9,28.8 L32.9,29.1 L32.8,29.5 L32.5,29.8Z" fill="#968dbd" stroke="#968dbd" stroke-width="3.3" stroke-linejoin="round"/>
<path d="M18.6,10.8 L18.7,11.0 L18.7,11.2 L18.7,11.4 L18.6,11.6 L18.4,11.8 L18.2,12.0 L17.8,12.2 L17.4,12.3 L17.0,12.4 L16.6,12.3 L15.2,11.1 L15.2,11.0 L15.3,10.8 L15.5,10.5 L15.7,10.3 L16.1,10.1 L16.5,10.0 L17.0,10.0 L17.4,10.0 L17.8,10.1 L18.2,10.3 L18.4,10.5Z" fill="#968dbd" stroke="#968dbd" stroke-width="2.9" stroke-linejoin="round"/>
<path d="M77.6,12.7 L77.0,13.0 L76.2,13.2 L75.4,13.3 L74.6,13.2 L73.8,13.0 L73.2,12.7 L72.7,12.4 L72.4,12.0 L72.2,11.6 L72.2,11.3 L72.2,10.9 L72.4,10.6 L72.7,10.2 L73.2,9.8 L73.8,9.5 L74.6,9.3 L75.1,9.2 L78.0,12.4Z" fill="#968dbd" stroke="#968dbd" stroke-width="3.9" stroke-linejoin="round"/>
<path d="M95.8,-6.6 L96.0,-6.3 L96.1,-6.1 L96.1,-5.9 L96.1,-5.7 L96.0,-5.5 L95.8,-5.3 L95.6,-5.1 L95.2,-4.9 L94.8,-4.8 L94.4,-4.8 L94.2,-4.8 L92.8,-5.6 L92.8,-5.7 L92.7,-5.9 L92.8,-6.1 L92.9,-6.3 L93.0,-6.6 L93.3,-6.8 L93.6,-6.9 L94.0,-7.1 L94.4,-7.1 L94.8,-7.1 L95.2,-6.9 L95.6,-6.8Z" fill="#968dbd" stroke="#968dbd" stroke-width="2.8" stroke-linejoin="round"/>
<path d="M93.9,13.0 L94.2,13.4 L94.4,13.9 L94.6,14.4 L92.7,17.6 L92.5,17.5 L92.2,17.3 L91.9,16.9 L91.6,16.4 L91.4,15.8 L91.4,15.1 L91.4,14.5 L91.6,13.9 L91.9,13.4 L92.2,13.0 L92.4,12.8Z" fill="#968dbd" stroke="#968dbd" stroke-width="3.4" stroke-linejoin="round"/>
<path d="M75.4,68.9 L75.4,68.9 L77.0,67.1 L77.2,67.1 L77.6,67.2 L78.0,67.3 L78.3,67.5 L78.6,67.8 L78.8,68.1 L79.0,68.5 L79.0,68.9 L79.0,69.3 L78.8,69.7 L78.7,70.0Z" fill="#968dbd" stroke="#968dbd" stroke-width="3.2" stroke-linejoin="round"/>
<path d="M92.1,69.0 L92.0,68.8 L91.9,68.4 L91.8,67.8 L91.9,67.3 L92.0,66.9 L92.2,66.5 L92.4,66.2 L92.6,66.0 L92.7,65.9 L92.8,65.9 L92.9,65.9 L93.1,66.0 L93.3,66.2 L93.5,66.5 L93.7,66.9 L93.8,67.3 L93.8,67.7 L92.9,69.7Z" fill="#968dbd" stroke="#968dbd" stroke-width="2.9" stroke-linejoin="round"/>
<path d="M18.5,60.7 L18.8,60.7 L19.0,60.7 L19.7,61.0 L19.7,61.0 L19.9,61.2 L20.1,61.5 L20.2,61.7 L20.2,62.1 L20.2,62.4 L20.1,62.7 L19.9,62.9 L19.7,63.1 L19.5,63.3 L19.1,63.4 L18.8,63.5 L18.5,63.4 L18.4,63.4 L17.4,62.3 L17.4,62.1 L17.4,61.7 L17.5,61.5 L17.7,61.2 L17.9,61.0 L18.2,60.8Z" fill="#968dbd" stroke="#968dbd" stroke-width="2.8" stroke-linejoin="round"/>
<path d="M23.8,60.2 L23.8,60.2 L23.6,59.8 L25.2,56.9 L25.2,56.9 L25.4,57.1 L25.7,57.4 L25.9,57.8 L26.0,58.3 L26.0,58.8 L26.0,59.3 L25.9,59.8 L25.8,59.9Z" fill="#968dbd" stroke="#968dbd" stroke-width="3.0" stroke-linejoin="round"/>
<path d="M42.6,48.8 L42.9,49.4 L43.0,50.1 L43.1,50.8 L43.0,51.5 L42.9,52.2 L42.6,52.7 L42.3,53.2 L41.9,53.4 L41.8,53.5 L39.7,51.5 L39.6,50.8 L39.7,50.1 L39.9,49.4 L40.1,48.8 L40.5,48.4 L40.8,48.1 L41.0,48.0 L42.3,48.5Z" fill="#968dbd" stroke="#968dbd" stroke-width="3.6" stroke-linejoin="round"/>
<path d="M94.4,58.0 L94.3,58.0 L93.9,57.9 L93.6,57.8 L93.3,57.6 L93.0,57.3 L92.7,56.9 L92.6,56.5 L92.6,56.0 L92.6,55.6 L92.7,55.1 L93.0,54.8 L93.3,54.4 L93.6,54.2 L93.9,54.1 L94.3,54.1 L94.7,54.1 L95.0,54.2 L95.4,54.4 L95.7,54.8 L95.9,55.1 L95.9,55.3Z" fill="#968dbd" stroke="#968dbd" stroke-width="3.2" stroke-linejoin="round"/>
<path d="M102.4,37.7 L101.6,38.0 L101.5,38.0 L101.1,38.0 L100.8,37.9 L100.4,37.7 L100.2,37.5 L100.0,37.3 L99.9,37.0 L99.9,36.8 L99.9,36.6 L100.0,36.4 L100.2,36.1 L100.4,35.9 L100.8,35.8 L101.1,35.6 L101.5,35.6 L101.9,35.6Z" fill="#968dbd" stroke="#968dbd" stroke-width="2.8" stroke-linejoin="round"/>
<path d="M-3.0,47.3 L-3.1,47.2 L-3.4,46.9 L-3.5,46.6 L-3.0,44.0 L-2.9,43.9 L-2.2,44.1 L-1.3,45.6 L-2.7,47.4Z" fill="#968dbd" stroke="#968dbd" stroke-width="2.9" stroke-linejoin="round"/>
<path d="M108.8,43.3 L109.1,43.4 L109.4,43.6 L109.7,43.8 L109.8,44.1 L110.0,44.5 L110.0,44.8 L110.0,45.2 L109.8,45.5 L109.7,45.8 L109.4,46.0 L109.1,46.2 L108.8,46.3 L107.8,46.2 L107.5,46.0 L107.3,45.8 L107.1,45.5 L107.0,45.2 L106.9,44.8 L107.0,44.8 L107.8,43.4 L108.1,43.3 L108.5,43.3Z" fill="#968dbd" stroke="#968dbd" stroke-width="3.0" stroke-linejoin="round"/>
<path d="M59.8,-5.4 L57.8,-4.8 L57.7,-5.1 L57.7,-8.4 L57.8,-8.6 L58.1,-9.1 L58.4,-9.3 L58.7,-9.4 L58.9,-9.5 L59.2,-9.4 L59.4,-9.3 L59.7,-9.1 L60.1,-8.6 L60.3,-8.2 L60.3,-6.2Z" fill="#968dbd" stroke="#968dbd" stroke-width="3.5" stroke-linejoin="round"/>
<path d="M-6.0,10.1 L-5.6,10.2 L-5.4,10.2 L-5.2,10.4 L-4.8,11.6 L-5.6,12.9 L-8.1,12.9 L-8.2,12.7 L-8.4,12.4 L-8.6,12.1 L-8.6,11.7 L-8.6,11.4 L-8.4,11.1 L-8.2,10.7 L-7.9,10.4 L-7.5,10.2 L-7.0,10.1 L-6.5,10.0Z" fill="#968dbd" stroke="#968dbd" stroke-width="3.3" stroke-linejoin="round"/>
<path d="M111.2,55.2 L111.5,55.5 L111.6,55.9 L111.7,56.2 L111.6,56.5 L111.5,56.9 L111.2,57.2 L110.8,57.6 L110.2,57.9 L109.5,58.1 L109.1,58.1 L108.0,57.8 L108.3,55.5 L111.1,55.0Z" fill="#968dbd" stroke="#968dbd" stroke-width="3.7" stroke-linejoin="round"/>
<path d="M110.1,73.7 L109.6,74.0 L109.0,74.2 L108.4,74.2 L107.7,74.2 L107.7,74.2 L107.3,71.9 L109.3,70.4 L109.6,70.5 L110.1,70.8 L110.5,71.1 L110.8,71.5 L111.0,71.9 L111.0,72.2 L111.0,72.6 L110.8,73.0 L110.5,73.4Z" fill="#968dbd" stroke="#968dbd" stroke-width="3.7" stroke-linejoin="round"/>
<path d="M3.6,30.1 L1.3,29.7 L1.9,28.1 L2.3,28.0 L2.8,28.1 L3.2,28.2 L3.6,28.4 L3.9,28.6 L4.1,28.8 L4.1,29.0 L4.2,29.2 L4.1,29.4 L4.1,29.6 L3.9,29.9Z" fill="#968dbd" stroke="#968dbd" stroke-width="2.9" stroke-linejoin="round"/>
<path d="M109.2,22.2 L109.5,22.6 L109.8,23.0 L109.9,23.5 L110.0,24.1 L110.0,24.1 L107.2,24.6 L106.8,24.2 L108.9,22.0Z" fill="#968dbd" stroke="#968dbd" stroke-width="3.5" stroke-linejoin="round"/>
<path d="M79.0,24.6 L79.7,24.6 L80.3,24.6 L80.9,24.8 L81.5,25.0 L81.8,25.3 L82.1,25.6 L82.2,25.9 L82.2,26.1 L78.4,27.6 L78.4,27.6 L77.9,27.3 L77.5,27.0 L77.3,26.7 L77.1,26.4 L77.1,26.2 L77.1,25.9 L77.3,25.6 L77.5,25.3 L77.9,25.0 L78.4,24.8Z" fill="#968dbd" stroke="#968dbd" stroke-width="3.4" stroke-linejoin="round"/>
<path d="M-0.5,72.9 L-0.8,73.0 L-1.1,73.1 L-1.4,73.0 L-1.7,72.9 L-2.1,72.7 L-2.3,72.4 L-2.6,72.0 L-2.6,71.9 L-2.3,70.8 L-0.5,70.0 L-0.3,72.8Z" fill="#968dbd" stroke="#968dbd" stroke-width="3.2" stroke-linejoin="round"/>
<path d="M48.4,-7.5 L48.4,-7.5 L48.9,-5.5 L47.3,-4.1 L47.2,-4.2 L47.0,-4.5 L47.0,-4.5 L47.7,-7.6 L47.9,-7.6 L48.1,-7.6Z" fill="#968dbd" stroke="#968dbd" stroke-width="3.0" stroke-linejoin="round"/>
<path d="M1.8,-7.1 L1.5,-7.0 L1.0,-6.8 L0.6,-6.8 L0.1,-6.8 L-0.3,-7.0 L-0.5,-7.0 L-1.2,-8.0 L-1.2,-8.1 L-1.1,-8.3 L-1.0,-8.5 L-0.7,-8.7 L-0.3,-8.9 L0.1,-9.0 L0.6,-9.1 L1.0,-9.0 L1.5,-8.9 L1.8,-8.7 L2.1,-8.5 L2.3,-8.3 L2.4,-8.1 L2.4,-7.9 L2.4,-7.8 L2.3,-7.6 L2.1,-7.4Z" fill="#968dbd" stroke="#968dbd" stroke-width="2.9" stroke-linejoin="round"/>
<path d="M110.4,1.2 L107.2,1.1 L107.0,0.8 L106.9,0.4 L106.8,0.2 L106.9,-0.4 L107.0,-0.7 L107.2,-1.0 L107.5,-1.3 L107.9,-1.5 L109.7,-1.6 L109.8,-1.5 L110.2,-1.3 L110.5,-1.0 L110.7,-0.7 L110.9,-0.3 L110.9,0.1 L110.9,0.4 L110.7,0.8 L110.5,1.1Z" fill="#968dbd" stroke="#968dbd" stroke-width="3.3" stroke-linejoin="round"/>
<path d="M31.1,74.3 L30.9,74.4 L30.6,74.5 L30.4,74.4 L30.1,74.3 L29.9,74.2 L29.7,73.9 L29.5,73.6 L29.4,73.3 L29.5,72.2 L31.4,72.1 L31.8,73.3 L31.7,73.6 L31.6,73.9 L31.3,74.2Z" fill="#968dbd" stroke="#968dbd" stroke-width="2.9" stroke-linejoin="round"/>
<path d="M54.2,-5.8 L54.1,-5.8 L53.8,-5.6 L52.0,-6.2 L51.6,-8.0 L51.7,-8.1 L52.2,-8.2 L52.7,-8.3 L53.3,-8.2 L53.7,-8.1 L54.1,-7.9 L54.2,-7.8Z" fill="#968dbd" stroke="#968dbd" stroke-width="3.1" stroke-linejoin="round"/>
<path d="M27.7,21.4 L27.4,21.6 L26.9,21.7 L26.5,21.7 L26.0,21.7 L25.6,21.6 L25.2,21.4 L25.0,21.2 L24.8,21.0 L24.7,20.8 L24.7,20.6 L24.7,20.5 L24.8,20.3 L24.9,20.2 L27.8,19.9 L28.0,20.1 L28.2,20.3 L28.2,20.5 L28.3,20.6 L28.2,20.8 L28.2,21.0 L28.0,21.2Z" fill="#968dbd" stroke="#968dbd" stroke-width="2.8" stroke-linejoin="round"/>
<path d="M35.6,-0.4 L35.5,-0.4 L35.2,-0.2 L34.9,-0.1 L32.9,-1.0 L32.8,-1.1 L32.8,-1.4 L32.8,-1.6 L32.9,-1.8 L33.1,-2.1 L33.3,-2.3 L33.7,-2.5 L34.0,-2.6 L34.4,-2.6 L34.5,-2.6Z" fill="#968dbd" stroke="#968dbd" stroke-width="2.9" stroke-linejoin="round"/>
<path d="M42.2,26.8 L42.3,27.3 L42.3,27.7 L42.3,28.0 L42.3,28.3 L42.3,28.5 L40.4,29.2 L40.3,28.8 L40.2,28.3 L40.1,27.8 L40.2,27.3 L40.3,26.8 L40.5,26.3 L40.7,26.0 L40.9,25.9 L41.1,25.8 L41.2,25.8 L41.4,25.8 L41.5,25.9 L41.8,26.0 L42.0,26.3Z" fill="#968dbd" stroke="#968dbd" stroke-width="3.0" stroke-linejoin="round"/>
<path d="M-5.5,17.9 L-8.8,18.9 L-9.0,18.6 L-9.2,18.1 L-9.3,17.5 L-9.2,17.0 L-9.1,16.7 L-6.0,16.7Z" fill="#968dbd" stroke="#968dbd" stroke-width="4.0" stroke-linejoin="round"/>
<path d="M-1.4,10.3 L-1.6,9.7 L-1.6,9.6 L-1.6,9.6 L0.8,7.4 L1.1,7.7 L1.3,8.3 L1.5,8.9 L1.6,9.6 L1.5,10.3 L1.4,10.9Z" fill="#968dbd" stroke="#968dbd" stroke-width="3.5" stroke-linejoin="round"/>
<path d="M104.3,56.8 L104.1,56.9 L103.8,56.9 L103.6,56.9 L103.3,56.8 L103.1,56.6 L102.7,56.1 L102.6,55.7 L102.5,55.4 L102.6,55.0 L102.7,54.6 L102.8,54.3 L103.1,54.1 L103.3,53.9 L103.6,53.8 L103.8,53.8 L104.1,53.8 L104.3,53.9 L104.6,54.1 L104.8,54.3 L105.0,54.6 L104.6,56.6 L104.6,56.6Z" fill="#968dbd" stroke="#968dbd" stroke-width="2.8" stroke-linejoin="round"/>
<path d="M23.1,-7.9 L23.1,-7.8 L23.0,-7.7 L22.8,-7.5 L22.7,-7.3 L20.4,-7.4 L20.1,-8.7 L20.4,-8.8 L20.8,-8.9 L21.3,-9.0 L21.7,-8.9 L22.2,-8.8 L22.6,-8.6 L22.8,-8.4 L23.0,-8.2 L23.1,-8.1Z" fill="#968dbd" stroke="#968dbd" stroke-width="2.8" stroke-linejoin="round"/>
<path d="M56.6,53.6 L56.6,54.0 L56.6,54.5 L56.4,54.9 L56.2,55.3 L55.9,55.6 L55.6,55.8 L55.2,55.9 L54.8,56.0 L54.4,55.9 L54.1,55.8 L53.7,55.6 L53.4,55.3 L53.2,54.9 L53.1,54.5 L53.0,54.0 L53.0,53.8 L56.3,53.0 L56.4,53.2Z" fill="#968dbd" stroke="#968dbd" stroke-width="3.3" stroke-linejoin="round"/>
<path d="M1.8,50.4 L1.6,50.5 L1.4,50.5 L1.3,50.5 L1.1,50.4 L0.8,50.2 L0.6,49.9 L0.4,49.6 L0.3,49.1 L0.3,48.7 L0.3,48.6 L1.3,47.3 L1.4,47.3 L2.5,49.3 L2.4,49.6 L2.3,49.9 L2.0,50.2Z" fill="#968dbd" stroke="#968dbd" stroke-width="2.9" stroke-linejoin="round"/>
<path d="M51.5,40.1 L51.4,39.8 L51.3,39.4 L51.2,39.0 L51.3,38.6 L51.4,38.2 L51.6,37.9 L51.9,37.6 L52.2,37.4 L52.5,37.3 L52.9,37.3 L53.2,37.3 L53.6,37.4 L53.9,37.6 L54.1,37.9 L54.3,38.2 L54.5,38.6 L54.5,38.7 L54.4,39.5 L54.3,39.8 L54.3,39.9Z" fill="#968dbd" stroke="#968dbd" stroke-width="3.1" stroke-linejoin="round"/>
<path d="M82.6,32.3 L82.3,32.5 L82.0,32.6 L81.5,32.6 L81.1,32.6 L80.8,32.5 L80.5,32.3 L80.2,32.0 L80.0,31.8 L79.9,31.5 L79.9,31.2 L79.9,30.9 L80.0,30.6 L80.0,30.6 L82.0,29.8 L82.3,29.9 L82.6,30.1 L82.9,30.4 L83.1,30.6 L83.2,30.9 L83.2,31.2 L83.2,31.5 L83.1,31.8 L82.9,32.0Z" fill="#968dbd" stroke="#968dbd" stroke-width="3.0" stroke-linejoin="round"/>
<path d="M87.4,2.2 L87.2,2.3 L86.9,2.3 L86.6,2.3 L86.3,2.2 L86.0,2.0 L85.8,1.7 L85.6,1.4 L85.5,1.0 L85.4,0.6 L85.4,0.3 L85.9,-0.3 L87.7,-0.2 L88.2,1.1 L88.1,1.4 L88.0,1.7 L87.7,2.0Z" fill="#968dbd" stroke="#968dbd" stroke-width="3.0" stroke-linejoin="round"/>
<path d="M39.5,8.8 L40.5,4.8 L42.3,4.3 L43.1,9.4 L42.6,10.0Z" fill="#ede3ec" stroke="#ede3ec" stroke-width="6.5" stroke-linejoin="round"/>
<path d="M53.6,19.0 L48.5,16.2 L48.4,15.8 L49.4,14.6 L53.7,14.1 L56.7,14.8 L55.7,18.4Z" fill="#ede3ec" stroke="#ede3ec" stroke-width="7.5" stroke-linejoin="round"/>
<path d="M66.5,8.8 L64.8,8.8 L65.1,6.9 L67.1,4.6 L69.4,3.7 L69.9,4.3Z" fill="#ede3ec" stroke="#ede3ec" stroke-width="6.0" stroke-linejoin="round"/>
<path d="M66.6,23.2 L64.2,20.7 L65.1,16.8 L66.6,16.8 L70.1,20.1 L69.1,22.0Z" fill="#ede3ec" stroke="#ede3ec" stroke-width="7.5" stroke-linejoin="round"/>
<path d="M81.7,17.8 L83.2,16.0 L84.0,15.7 L85.1,19.3Z" fill="#ede3ec" stroke="#ede3ec" stroke-width="6.5" stroke-linejoin="round"/>
<path d="M92.1,7.3 L92.8,6.6 L95.3,5.9 L96.3,6.9 L96.0,7.8Z" fill="#ede3ec" stroke="#ede3ec" stroke-width="6.0" stroke-linejoin="round"/>
<path d="M35.5,21.2 L34.7,20.9 L34.4,18.5 L35.5,15.2 L39.9,16.9 L40.1,17.7 L40.1,18.1Z" fill="#ede3ec" stroke="#ede3ec" stroke-width="6.0" stroke-linejoin="round"/>
<path d="M56.6,31.2 L55.3,30.6 L56.2,26.8 L58.2,26.3 L60.8,28.9 L59.8,30.2Z" fill="#ede3ec" stroke="#ede3ec" stroke-width="6.5" stroke-linejoin="round"/>
<path d="M77.8,42.4 L78.0,44.6 L76.6,47.4 L75.3,43.8 L75.4,43.4 L75.9,42.8Z" fill="#ede3ec" stroke="#ede3ec" stroke-width="7.5" stroke-linejoin="round"/>
<path d="M91.6,33.8 L90.3,33.5 L90.5,31.1 L92.3,32.1Z" fill="#ede3ec" stroke="#ede3ec" stroke-width="7.5" stroke-linejoin="round"/>
<path d="M32.6,47.9 L30.4,49.1 L29.9,49.1 L31.5,45.6 L33.1,46.1Z" fill="#ede3ec" stroke="#ede3ec" stroke-width="7.5" stroke-linejoin="round"/>
<path d="M15.2,48.3 L13.4,48.5 L13.7,46.3Z" fill="#ede3ec" stroke="#ede3ec" stroke-width="6.5" stroke-linejoin="round"/>
<path d="M46.0,62.0 L44.1,61.3 L45.0,59.3 L46.6,58.5 L48.0,60.3 L47.4,61.3Z" fill="#ede3ec" stroke="#ede3ec" stroke-width="6.5" stroke-linejoin="round"/>
<path d="M66.9,57.7 L64.7,60.2 L63.8,59.0 L64.5,57.5Z" fill="#ede3ec" stroke="#ede3ec" stroke-width="7.5" stroke-linejoin="round"/>
<path d="M85.6,61.1 L83.8,60.9 L82.4,59.7 L81.0,57.0 L86.0,57.9 L86.6,60.2Z" fill="#ede3ec" stroke="#ede3ec" stroke-width="6.5" stroke-linejoin="round"/>
<path d="M22.1,34.3 L17.7,35.3 L17.7,32.9 L19.5,32.4Z" fill="#ede3ec" stroke="#ede3ec" stroke-width="6.0" stroke-linejoin="round"/>
<path d="M45.3,42.2 L45.0,43.6 L41.8,42.5 L42.7,41.4 L44.8,41.1Z" fill="#ede3ec" stroke="#ede3ec" stroke-width="6.0" stroke-linejoin="round"/>
<path d="M7.2,60.8 L6.5,62.1 L6.3,62.2 L4.4,61.8 L3.0,60.0 L2.9,59.3 L4.0,58.1 L5.9,57.5Z" fill="#ede3ec" stroke="#ede3ec" stroke-width="6.0" stroke-linejoin="round"/>
<path d="M97.6,48.9 L95.0,48.3 L95.0,47.9 L96.1,46.0 L98.1,48.4Z" fill="#ede3ec" stroke="#ede3ec" stroke-width="6.0" stroke-linejoin="round"/>
<path d="M35.8,38.9 L31.5,37.6 L31.4,37.4 L35.8,34.4 L37.0,37.4Z" fill="#ede3ec" stroke="#ede3ec" stroke-width="5.5" stroke-linejoin="round"/>
<path d="M8.3,26.1 L6.8,24.2 L7.0,24.0 L9.1,24.1 L9.3,26.0Z" fill="#ede3ec" stroke="#ede3ec" stroke-width="5.0" stroke-linejoin="round"/>
<path d="M24.5,8.7 L23.4,6.0 L23.9,5.6 L24.4,5.5 L26.3,8.5Z" fill="#ede3ec" stroke="#ede3ec" stroke-width="6.0" stroke-linejoin="round"/>
<path d="M8.8,5.3 L9.8,6.3 L9.1,8.3 L8.4,8.8 L7.7,8.9 L7.1,6.1 L7.7,5.4Z" fill="#ede3ec" stroke="#ede3ec" stroke-width="6.0" stroke-linejoin="round"/>
<path d="M57.7,64.8 L57.8,65.2 L57.8,65.2 L54.8,67.0 L53.4,65.4 L53.5,65.2 L53.6,64.8 L53.8,64.5 L54.2,64.2 L54.6,63.9 L55.1,63.8 L55.6,63.7 L56.2,63.8 L56.7,63.9 L57.1,64.2 L57.4,64.5Z" fill="#ede3ec" stroke="#ede3ec" stroke-width="2.4" stroke-linejoin="round"/>
<path d="M37.0,72.9 L36.5,73.2 L35.9,73.4 L35.7,73.4 L34.7,70.7 L35.0,70.2 L36.9,69.9 L37.0,72.8Z" fill="#ede3ec" stroke="#ede3ec" stroke-width="2.9" stroke-linejoin="round"/>
<path d="M105.3,19.5 L105.4,20.0 L105.5,20.5 L105.5,20.5 L103.7,22.4 L103.5,22.2 L103.2,21.9 L103.0,21.5 L102.9,21.0 L102.8,20.5 L102.9,20.0 L103.0,19.5 L103.2,19.1 L103.5,18.8 L103.7,18.6 L103.8,18.6 L105.2,19.3Z" fill="#ede3ec" stroke="#ede3ec" stroke-width="2.1" stroke-linejoin="round"/>
<path d="M54.8,44.6 L50.8,45.0 L50.7,44.9 L50.7,44.4 L50.8,43.8 L55.1,43.6 L55.1,43.6Z" fill="#ede3ec" stroke="#ede3ec" stroke-width="2.9" stroke-linejoin="round"/>
<path d="M96.4,25.3 L96.0,25.5 L95.5,25.6 L95.0,25.5 L94.5,25.3 L94.0,25.0 L93.7,24.7 L93.4,24.2 L93.2,23.7 L93.2,23.2 L93.2,22.6 L93.4,22.1 L93.7,21.6 L93.9,21.5 L97.7,23.2 L97.7,23.7 L97.5,24.2 L97.2,24.7 L96.9,25.0Z" fill="#ede3ec" stroke="#ede3ec" stroke-width="2.7" stroke-linejoin="round"/>
<path d="M-1.9,64.9 L-1.5,65.2 L-1.3,65.6 L-1.1,66.1 L-1.1,66.4 L-3.2,67.3 L-4.3,66.1 L-2.2,64.7Z" fill="#ede3ec" stroke="#ede3ec" stroke-width="2.4" stroke-linejoin="round"/>
<path d="M51.4,72.4 L50.9,72.6 L50.5,72.7 L50.0,72.6 L49.5,72.4 L49.1,72.1 L48.7,71.8 L48.5,68.5 L48.7,68.1 L49.1,67.7 L49.5,67.4 L49.9,67.2 L52.4,70.1 L52.3,71.6 L52.3,71.7 L51.9,72.1Z" fill="#ede3ec" stroke="#ede3ec" stroke-width="2.9" stroke-linejoin="round"/>
<path d="M53.1,-1.3 L49.2,-1.0 L51.1,-2.8 L53.8,-1.9Z" fill="#ede3ec" stroke="#ede3ec" stroke-width="2.6" stroke-linejoin="round"/>
<path d="M52.7,50.5 L52.4,50.3 L52.2,50.0 L52.1,49.7 L52.1,49.4 L52.1,49.1 L52.2,48.8 L52.4,48.5 L52.5,48.5 L54.5,48.3 L54.6,48.3 L54.8,48.5 L55.0,48.8 L55.1,49.1 L55.2,49.4 L55.1,49.7 L55.1,49.9Z" fill="#ede3ec" stroke="#ede3ec" stroke-width="1.9" stroke-linejoin="round"/>
<path d="M66.1,-2.8 L66.1,-2.6 L65.9,-2.3 L65.7,-2.0 L65.5,-1.8 L65.1,-1.5 L64.7,-1.4 L63.0,-3.7Z" fill="#ede3ec" stroke="#ede3ec" stroke-width="2.1" stroke-linejoin="round"/>
<path d="M6.8,45.4 L6.9,45.9 L7.0,46.4 L6.9,46.9 L6.8,47.4 L6.5,47.9 L6.2,48.2 L5.9,48.4 L4.6,46.2 L6.2,44.6 L6.2,44.6 L6.5,45.0Z" fill="#ede3ec" stroke="#ede3ec" stroke-width="2.4" stroke-linejoin="round"/>
<path d="M62.0,0.7 L61.8,0.9 L61.5,1.1 L61.2,1.2 L60.9,1.3 L60.6,1.2 L60.3,1.1 L60.0,0.9 L59.9,0.8 L59.8,0.7 L59.6,0.4 L59.5,0.0 L59.4,-0.4 L59.5,-0.8 L59.6,-1.1 L59.8,-1.5 L60.0,-1.7 L60.3,-1.9 L60.3,-1.9 L62.1,0.5Z" fill="#ede3ec" stroke="#ede3ec" stroke-width="2.0" stroke-linejoin="round"/>
<path d="M15.0,15.7 L14.9,16.1 L14.6,16.4 L14.4,16.7 L14.1,16.9 L13.7,17.1 L13.4,17.1 L13.2,17.1 L12.1,14.1 L12.2,14.0 L12.4,13.7 L12.7,13.5 L12.9,13.4 L15.0,15.3Z" fill="#ede3ec" stroke="#ede3ec" stroke-width="2.2" stroke-linejoin="round"/>
<path d="M88.5,45.0 L88.3,45.0 L88.2,45.1 L87.7,44.9 L87.5,44.8 L87.3,44.6 L87.1,44.2 L87.0,43.9 L87.0,43.4 L87.0,43.0 L87.1,42.6 L87.3,42.3 L87.5,42.1 L87.7,41.9 L87.9,41.8 L88.1,41.8 L88.3,41.8 L88.5,41.9 L88.8,42.1 L89.0,42.3 L89.1,42.6 L89.2,43.0 L89.3,43.4 L89.2,43.9 L89.1,44.2 L89.0,44.6 L88.8,44.8Z" fill="#ede3ec" stroke="#ede3ec" stroke-width="1.8" stroke-linejoin="round"/>
<path d="M82.1,-1.2 L81.4,-4.3 L82.1,-5.0 L82.2,-5.0 L82.3,-5.0 L83.0,-2.4Z" fill="#ede3ec" stroke="#ede3ec" stroke-width="2.7" stroke-linejoin="round"/>
<path d="M103.3,12.4 L103.2,12.3 L102.9,11.9 L102.8,11.4 L102.7,10.9 L102.8,10.4 L102.9,9.9 L103.2,9.5 L103.5,9.2 L103.9,8.9 L104.2,8.8 L106.4,10.4Z" fill="#ede3ec" stroke="#ede3ec" stroke-width="2.4" stroke-linejoin="round"/>
<path d="M91.1,73.9 L90.6,74.2 L90.0,74.4 L89.3,74.4 L88.6,74.4 L88.0,74.2 L88.0,74.2 L88.8,70.9 L91.8,73.2 L91.8,73.2 L91.5,73.6Z" fill="#ede3ec" stroke="#ede3ec" stroke-width="2.6" stroke-linejoin="round"/>
<path d="M37.0,57.2 L36.7,57.3 L36.4,57.4 L36.1,57.3 L35.8,57.2 L35.5,57.1 L35.3,56.8 L35.1,56.6 L35.0,56.2 L34.9,55.9 L35.0,55.6 L35.1,55.3 L35.3,55.0 L35.5,54.8 L35.8,54.6 L36.1,54.5 L36.4,54.5 L36.7,54.5 L37.0,54.6 L37.3,54.8 L37.5,55.0 L37.7,55.3 L37.8,55.6 L37.8,55.9 L37.8,56.2 L37.7,56.6 L37.5,56.8 L37.3,57.1Z" fill="#ede3ec" stroke="#ede3ec" stroke-width="1.9" stroke-linejoin="round"/>
<path d="M83.9,73.4 L83.5,73.4 L83.1,73.2 L82.7,72.9 L82.3,72.6 L82.0,72.1 L82.0,71.8 L82.8,69.0 L83.1,68.9 L83.5,68.7 L83.9,68.7 L84.4,68.7 L84.8,68.9 L85.2,69.2 L85.3,69.3 L84.2,73.4Z" fill="#ede3ec" stroke="#ede3ec" stroke-width="2.6" stroke-linejoin="round"/>
<path d="M1.7,44.3 L1.5,44.3 L1.4,44.3 L0.7,43.1 L2.3,41.7 L2.5,41.8 L2.8,41.9 L3.0,42.1 L3.2,42.4 L3.3,42.7 L3.3,42.8Z" fill="#ede3ec" stroke="#ede3ec" stroke-width="1.8" stroke-linejoin="round"/>
<path d="M71.6,75.7 L71.3,75.8 L71.0,75.7 L70.7,75.6 L70.4,75.3 L70.1,75.0 L69.8,74.5 L69.7,74.0 L69.6,73.6 L70.7,71.2 L71.0,71.0 L71.3,71.0 L71.6,71.0 L71.7,71.1 L71.9,75.6Z" fill="#ede3ec" stroke="#ede3ec" stroke-width="2.4" stroke-linejoin="round"/>
<path d="M99.9,-5.6 L99.7,-8.5 L99.9,-8.6 L100.5,-8.8 L101.2,-8.9 L101.8,-8.8 L102.4,-8.6 L102.7,-8.4 L102.8,-5.7Z" fill="#ede3ec" stroke="#ede3ec" stroke-width="3.0" stroke-linejoin="round"/>
<path d="M22.1,44.7 L21.8,44.8 L21.6,44.8 L21.3,44.8 L21.0,44.7 L20.8,44.5 L20.5,44.2 L20.3,43.9 L20.2,43.4 L20.2,43.0 L20.2,42.5 L20.3,42.1 L20.5,41.7 L20.8,41.4 L21.0,41.3 L21.3,41.1 L21.6,41.1 L21.8,41.1 L22.1,41.3 L22.4,41.4 L22.6,41.7 L22.8,42.1 L22.9,42.5 L23.0,43.0 L22.9,43.4 L22.8,43.9 L22.6,44.2 L22.4,44.5Z" fill="#ede3ec" stroke="#ede3ec" stroke-width="2.0" stroke-linejoin="round"/>
<path d="M21.5,68.9 L21.3,69.0 L20.8,69.0 L20.3,69.0 L19.8,68.8 L19.2,68.2 L19.6,66.7 L21.2,66.1 L22.4,68.0Z" fill="#ede3ec" stroke="#ede3ec" stroke-width="2.2" stroke-linejoin="round"/>
<path d="M-2.3,5.1 L-4.2,6.7 L-5.7,6.1 L-5.8,6.0 L-5.9,5.2 L-5.8,4.4 L-5.6,3.7 L-5.3,3.1 L-5.1,2.9Z" fill="#ede3ec" stroke="#ede3ec" stroke-width="2.8" stroke-linejoin="round"/>
<path d="M78.3,-8.8 L78.5,-8.5 L78.6,-8.1 L78.6,-7.7 L78.6,-7.4 L78.5,-7.0 L78.3,-6.7 L78.1,-6.5 L78.0,-6.4 L76.5,-6.4 L76.4,-6.5 L76.1,-6.7 L76.0,-7.0 L75.9,-7.4 L75.8,-7.7 L75.9,-8.1 L76.0,-8.5 L76.1,-8.8 L76.4,-9.0 L76.6,-9.2 L76.9,-9.3 L77.2,-9.3 L77.5,-9.3 L77.8,-9.2 L78.1,-9.0Z" fill="#ede3ec" stroke="#ede3ec" stroke-width="1.9" stroke-linejoin="round"/>
<path d="M17.8,19.2 L19.0,17.2 L19.3,17.0 L19.9,17.0 L20.5,17.0 L20.5,17.0 L21.4,19.0 L20.9,21.2Z" fill="#ede3ec" stroke="#ede3ec" stroke-width="2.7" stroke-linejoin="round"/>
<path d="M97.1,71.7 L96.4,71.6 L95.9,71.5 L97.5,68.1 L97.9,68.2 L98.6,68.4 L99.0,68.6 L99.1,69.0 L97.5,71.7Z" fill="#ede3ec" stroke="#ede3ec" stroke-width="2.7" stroke-linejoin="round"/>
<path d="M22.4,-2.5 L22.0,-2.3 L21.6,-2.1 L21.2,-2.1 L21.0,-2.1 L19.9,-3.8 L20.2,-4.2 L23.0,-4.1 L23.0,-4.1 L23.1,-3.8 L23.0,-3.4 L22.9,-3.1 L22.7,-2.8Z" fill="#ede3ec" stroke="#ede3ec" stroke-width="2.2" stroke-linejoin="round"/>
<path d="M13.7,67.5 L13.5,67.1 L13.4,66.5 L13.3,65.8 L13.4,65.1 L13.5,64.4 L13.8,63.9 L14.0,63.6 L16.2,65.9 L15.8,67.1Z" fill="#ede3ec" stroke="#ede3ec" stroke-width="2.4" stroke-linejoin="round"/>
<path d="M103.0,30.3 L102.9,30.2 L102.6,29.8 L102.3,29.2 L102.1,28.6 L102.0,27.8 L102.1,27.1 L102.3,26.4 L102.5,26.0 L103.4,26.1 L104.6,27.3 L104.2,30.0Z" fill="#ede3ec" stroke="#ede3ec" stroke-width="2.6" stroke-linejoin="round"/>
<path d="M16.8,74.4 L16.4,74.5 L16.1,74.6 L15.8,74.5 L15.5,74.4 L15.2,74.2 L14.9,73.8 L14.6,73.4 L14.5,72.8 L14.4,72.3 L14.5,71.7 L14.6,71.2 L14.7,71.0 L16.7,70.6 L17.8,71.7 L17.8,72.3 L17.8,72.8 L17.6,73.4 L17.4,73.8 L17.1,74.2Z" fill="#ede3ec" stroke="#ede3ec" stroke-width="2.4" stroke-linejoin="round"/>
<path d="M10.5,35.2 L7.2,33.9 L7.2,32.5 L8.0,31.3 L9.6,31.1 L9.8,31.2 L10.3,31.5 L10.6,31.9 L10.9,32.4 L11.1,32.9 L11.2,33.5 L11.1,34.0 L10.9,34.5 L10.6,35.0Z" fill="#ede3ec" stroke="#ede3ec" stroke-width="2.8" stroke-linejoin="round"/>
<path d="M104.2,42.9 L103.7,43.0 L103.1,42.9 L102.6,42.8 L102.2,42.6 L101.9,42.3 L101.7,42.1 L101.6,41.9 L101.5,41.7 L101.6,41.5 L104.2,40.4 L104.2,40.4 L104.5,40.4 L104.8,40.6 L105.1,40.7 L105.5,41.0 L105.5,41.1 L104.3,42.9Z" fill="#ede3ec" stroke="#ede3ec" stroke-width="2.1" stroke-linejoin="round"/>
<path d="M73.7,65.8 L73.4,66.0 L73.1,66.1 L72.8,66.1 L72.4,66.1 L72.1,66.0 L71.9,65.8 L71.6,65.6 L71.5,65.3 L71.4,65.0 L71.3,64.7 L71.4,64.4 L71.5,64.2 L71.6,63.9 L71.9,63.7 L72.1,63.5 L72.4,63.4 L72.8,63.4 L73.1,63.4 L73.4,63.5 L73.7,63.7 L73.9,63.9 L74.1,64.2 L74.2,64.4 L74.2,64.7 L74.2,65.0 L74.1,65.3 L73.9,65.6Z" fill="#ede3ec" stroke="#ede3ec" stroke-width="1.8" stroke-linejoin="round"/>
<path d="M1.1,14.6 L1.1,14.8 L1.1,14.9 L-1.9,16.1 L-2.6,14.8 L-2.0,14.0Z" fill="#ede3ec" stroke="#ede3ec" stroke-width="2.5" stroke-linejoin="round"/>
<path d="M8.3,-2.0 L7.7,-1.8 L7.2,-1.8 L6.7,-1.8 L6.1,-2.0 L5.8,-2.2 L4.9,-3.7 L6.6,-7.0 L6.7,-7.0 L7.2,-7.1 L7.7,-7.0 L8.3,-6.8 L8.7,-6.5 L9.1,-6.1 L9.4,-5.6 L9.6,-5.0 L9.7,-4.4 L9.6,-3.8 L9.4,-3.3 L9.1,-2.8 L8.7,-2.3Z" fill="#ede3ec" stroke="#ede3ec" stroke-width="2.9" stroke-linejoin="round"/>
<path d="M-4.6,23.8 L-6.5,23.1 L-6.6,22.7 L-6.5,22.2 L-6.5,22.1 L-4.0,21.4 L-3.5,22.4 L-3.4,22.7 L-3.5,23.1Z" fill="#ede3ec" stroke="#ede3ec" stroke-width="2.2" stroke-linejoin="round"/>
<path d="M-1.7,41.0 L-1.9,40.9 L-2.1,40.8 L-1.9,38.3 L-1.9,38.3 L-1.5,38.1 L-1.0,38.1 L-0.6,38.1 L-0.2,38.3 L0.1,38.5 L0.4,38.7 L0.5,39.0 L0.6,39.0Z" fill="#ede3ec" stroke="#ede3ec" stroke-width="2.0" stroke-linejoin="round"/>
<path d="M87.9,-3.4 L86.4,-3.5 L85.9,-5.3 L86.0,-5.4 L86.3,-5.7 L86.6,-5.9 L86.9,-6.0 L87.2,-6.0 L87.6,-6.0 L87.9,-5.9 L88.2,-5.7 L88.4,-5.4 L88.6,-5.1 L88.7,-4.7Z" fill="#ede3ec" stroke="#ede3ec" stroke-width="2.0" stroke-linejoin="round"/>
<path d="M65.9,72.3 L65.4,72.3 L64.8,72.3 L64.3,72.1 L63.8,71.9 L63.5,71.6 L63.5,71.6 L63.7,69.8 L63.8,69.6 L64.3,69.4 L64.8,69.3 L65.4,69.2 L65.9,69.3 L66.4,69.4 L66.9,69.6 L67.2,69.9 L67.3,70.0 L66.4,72.2Z" fill="#ede3ec" stroke="#ede3ec" stroke-width="2.3" stroke-linejoin="round"/>
<path d="M100.4,58.7 L98.0,60.6 L97.8,60.4 L97.5,59.9 L97.5,59.8 L99.1,56.9Z" fill="#ede3ec" stroke="#ede3ec" stroke-width="2.5" stroke-linejoin="round"/>
<path d="M20.8,58.0 L19.6,57.5 L19.7,55.6 L20.0,55.4 L20.5,55.3 L21.0,55.2 L21.5,55.3 L22.0,55.4 L22.2,55.5Z" fill="#ede3ec" stroke="#ede3ec" stroke-width="2.2" stroke-linejoin="round"/>
<path d="M36.4,-8.1 L36.4,-7.9 L34.6,-6.3 L33.1,-6.3 L32.4,-8.7 L32.5,-8.8 L32.8,-9.1 L33.3,-9.3 L33.7,-9.5 L34.3,-9.5 L34.8,-9.5 L35.3,-9.3 L35.7,-9.1 L36.0,-8.8 L36.2,-8.4Z" fill="#ede3ec" stroke="#ede3ec" stroke-width="2.4" stroke-linejoin="round"/>
<path d="M34.5,66.3 L32.9,64.3 L34.0,63.6 L34.5,63.5 L35.2,63.6 L35.9,63.8 L36.4,64.0 L36.8,64.3 L37.1,64.7 L37.2,65.0 L37.2,65.2 L37.2,65.5 L37.1,65.8 L36.9,66.0Z" fill="#ede3ec" stroke="#ede3ec" stroke-width="2.5" stroke-linejoin="round"/>
<path d="M43.4,34.4 L43.2,34.5 L43.1,34.5 L42.9,34.5 L42.7,34.4 L42.5,34.2 L42.3,33.9 L42.1,33.6 L41.9,33.1 L41.9,32.6 L41.9,32.1 L42.0,31.9 L43.6,31.3 L44.0,31.6 L44.1,31.6 L44.2,32.1 L44.2,32.6 L44.2,33.1 L44.1,33.6 L43.9,33.9 L43.7,34.2Z" fill="#ede3ec" stroke="#ede3ec" stroke-width="1.9" stroke-linejoin="round"/>
<path d="M109.7,8.1 L106.5,5.7 L106.6,5.1 L106.7,4.8 L110.6,5.0 L110.6,5.1 L110.7,5.8 L110.6,6.5 L110.4,7.1 L110.1,7.7 L109.7,8.1Z" fill="#ede3ec" stroke="#ede3ec" stroke-width="2.8" stroke-linejoin="round"/>
<path d="M67.1,43.1 L64.8,43.6 L63.8,42.4 L63.8,42.1 L63.8,41.9 L64.2,40.9 L64.4,40.8 L67.4,41.9 L67.4,42.1 L67.4,42.5 L67.2,42.9Z" fill="#ede3ec" stroke="#ede3ec" stroke-width="2.2" stroke-linejoin="round"/>
<path d="M39.6,-2.1 L39.2,-1.9 L38.8,-1.8 L38.4,-1.8 L37.3,-4.2 L37.7,-4.5 L37.9,-4.6 L38.4,-4.6 L38.8,-4.6 L39.2,-4.5 L39.5,-4.3 L40.2,-3.4 L40.2,-3.2 L40.1,-2.9 L40.0,-2.7 L39.8,-2.4Z" fill="#ede3ec" stroke="#ede3ec" stroke-width="2.0" stroke-linejoin="round"/>
<path d="M102.6,-1.8 L103.0,-1.6 L103.4,-1.4 L103.5,-1.3 L103.3,0.1 L103.0,0.4 L102.5,0.6 L102.0,0.7 L101.3,0.8 L100.7,0.7 L100.2,0.6 L99.7,0.4 L99.3,0.1 L99.1,-0.2 L99.0,-0.4 L98.9,-0.6 L99.0,-0.8 L99.1,-1.1 L99.3,-1.4 L99.7,-1.6 L99.9,-1.7Z" fill="#ede3ec" stroke="#ede3ec" stroke-width="2.3" stroke-linejoin="round"/>
<path d="M14.9,58.5 L14.5,58.4 L14.1,58.3 L13.6,58.0 L13.3,57.7 L13.1,57.3 L12.9,56.9 L12.9,56.5 L12.9,56.1 L13.1,55.7 L13.3,55.3 L13.6,55.0 L14.1,54.7 L14.5,54.6 L15.0,54.5 L15.5,54.6 L15.9,54.7 L16.3,54.9 L16.1,57.6Z" fill="#ede3ec" stroke="#ede3ec" stroke-width="2.4" stroke-linejoin="round"/>
<path d="M-2.2,54.0 L-2.6,54.3 L-3.2,54.5 L-3.7,54.5 L-4.2,54.5 L-4.8,54.3 L-5.2,54.0 L-5.6,53.6 L-5.9,53.1 L-6.1,52.6 L-6.1,52.1 L-6.1,51.6 L-5.9,51.0 L-5.7,50.8 L-5.2,50.5 L-3.2,50.9 L-1.6,53.3 L-1.8,53.6Z" fill="#ede3ec" stroke="#ede3ec" stroke-width="2.8" stroke-linejoin="round"/>
<path d="M61.3,48.0 L60.9,48.2 L60.5,48.2 L60.1,48.2 L59.7,48.0 L59.3,47.8 L59.0,47.5 L58.7,47.1 L58.6,46.6 L58.5,46.2 L58.6,45.7 L58.7,45.3 L59.0,44.9 L59.2,44.6 L60.9,44.4 L62.1,45.8 L61.5,47.9Z" fill="#ede3ec" stroke="#ede3ec" stroke-width="2.4" stroke-linejoin="round"/>
<path d="M-7.6,63.5 L-8.1,63.5 L-8.2,63.2 L-8.4,62.5 L-8.5,61.7 L-8.4,60.9 L-8.2,60.2 L-7.9,59.6 L-7.5,59.1 L-7.1,58.8 L-6.7,58.6 L-5.2,59.0 L-5.1,59.1 L-4.7,59.6 L-4.4,60.2 L-4.2,60.9 L-4.1,61.3Z" fill="#ede3ec" stroke="#ede3ec" stroke-width="3.0" stroke-linejoin="round"/>
<path d="M25.3,73.9 L24.6,73.9 L24.0,73.7 L23.5,73.4 L23.1,73.1 L22.9,72.8 L22.8,72.6 L25.3,70.2 L25.6,70.3 L26.2,71.1 L25.9,73.9Z" fill="#ede3ec" stroke="#ede3ec" stroke-width="2.6" stroke-linejoin="round"/>
<path d="M2.2,19.4 L2.3,19.7 L2.2,20.1 L2.1,20.5 L1.9,20.8 L1.7,21.1 L1.4,21.2 L1.0,21.4 L0.7,21.4 L0.3,21.4 L-0.0,21.2 L-0.3,21.1 L-0.6,20.8 L-0.9,20.2 L-0.9,20.1 L-0.9,19.7 L-0.9,19.4 L1.6,18.4 L1.7,18.4 L1.9,18.7 L2.1,19.0Z" fill="#ede3ec" stroke="#ede3ec" stroke-width="2.0" stroke-linejoin="round"/>
<path d="M56.3,1.6 L57.6,3.1 L57.6,3.2 L57.6,3.7 L57.6,4.2 L57.4,4.7 L57.2,5.1 L57.0,5.4 L56.7,5.6 L56.4,5.7 L56.1,5.7 L55.9,5.7 L55.6,5.6 L55.6,5.6 L55.6,1.8 L55.6,1.8 L55.9,1.7 L56.1,1.6Z" fill="#ede3ec" stroke="#ede3ec" stroke-width="2.2" stroke-linejoin="round"/>
<path d="M68.8,46.8 L69.1,47.2 L69.3,47.6 L69.3,48.0 L69.3,48.3 L69.1,48.7 L68.8,49.1 L68.4,49.4 L67.9,49.7 L67.3,49.9 L66.7,50.0 L66.1,49.9 L65.5,49.7 L65.0,49.4 L64.9,49.4 L65.6,47.1 L68.5,46.5Z" fill="#ede3ec" stroke="#ede3ec" stroke-width="2.6" stroke-linejoin="round"/>
<path d="M3.1,34.8 L2.9,34.8 L2.3,35.0 L1.7,35.1 L1.1,35.0 L-0.4,34.3 L-0.4,34.3 L-0.6,34.0 L-0.7,34.0 L-0.6,33.1 L-0.4,32.8 L3.4,33.4 L3.4,34.4Z" fill="#ede3ec" stroke="#ede3ec" stroke-width="2.3" stroke-linejoin="round"/>
<path d="M9.8,19.1 L7.2,18.9 L6.9,18.5 L6.8,18.4 L6.4,17.1 L6.3,16.9 L6.4,16.3 L6.6,15.8 L6.9,15.3 L7.2,14.9 L7.7,14.6 L8.1,14.5 L8.4,14.4 L10.0,19.0Z" fill="#ede3ec" stroke="#ede3ec" stroke-width="2.8" stroke-linejoin="round"/>
<path d="M9.2,72.6 L8.9,72.7 L8.5,72.8 L8.2,72.7 L7.9,72.6 L7.6,72.4 L7.6,72.4 L7.8,69.5 L7.9,69.5 L8.2,69.3 L8.5,69.3 L8.9,69.3 L9.2,69.5 L9.5,69.7 L9.7,69.9 L9.9,70.3 L10.1,70.6 L10.1,71.0 L10.1,71.4 L9.9,71.8 L9.7,72.2 L9.5,72.4Z" fill="#ede3ec" stroke="#ede3ec" stroke-width="2.1" stroke-linejoin="round"/>
<path d="M81.9,5.9 L82.1,6.4 L82.1,7.0 L82.1,7.5 L81.9,8.0 L81.7,8.5 L81.3,8.8 L81.0,9.1 L80.6,9.2 L80.3,9.2 L78.3,6.9 L78.3,6.4 L78.5,5.9 L78.7,5.5 L79.0,5.2 L79.4,4.9 L79.8,4.8 L80.2,4.7 L80.6,4.8 L81.0,4.9 L81.3,5.2 L81.7,5.5Z" fill="#ede3ec" stroke="#ede3ec" stroke-width="2.5" stroke-linejoin="round"/>
<path d="M43.4,72.3 L43.0,72.5 L42.7,72.5 L42.3,72.5 L41.9,72.3 L41.6,72.1 L41.3,71.8 L41.1,71.4 L41.0,71.0 L40.9,70.6 L41.0,70.1 L41.1,69.7 L41.3,69.3 L41.6,69.0 L41.9,68.8 L42.3,68.6 L42.7,68.6 L43.0,68.6 L43.4,68.8 L43.7,69.0 L44.0,69.3 L44.2,69.7 L44.4,70.1 L44.4,70.6 L44.4,71.0 L44.2,71.4 L44.0,71.8 L43.7,72.1Z" fill="#ede3ec" stroke="#ede3ec" stroke-width="2.2" stroke-linejoin="round"/>
<path d="M9.2,39.0 L9.2,39.2 L9.1,39.6 L8.8,40.0 L8.4,40.3 L7.8,40.6 L7.2,40.8 L6.7,40.8 L4.6,38.5 L4.6,38.4 L5.6,37.5Z" fill="#ede3ec" stroke="#ede3ec" stroke-width="2.7" stroke-linejoin="round"/>
<path d="M105.0,69.1 L103.6,68.5 L103.5,68.1 L103.5,67.6 L103.5,67.2 L104.5,66.7 L106.6,67.5 L106.6,67.6 L106.6,67.9Z" fill="#ede3ec" stroke="#ede3ec" stroke-width="2.2" stroke-linejoin="round"/>
<path d="M92.1,0.9 L91.1,-1.5 L91.5,-2.2 L93.9,-0.9 L93.8,-0.6 L93.6,0.1 L93.4,0.5Z" fill="#ede3ec" stroke="#ede3ec" stroke-width="3.0" stroke-linejoin="round"/>
<path d="M15.8,-5.3 L15.8,-5.3 L15.6,-5.7 L15.5,-6.2 L15.5,-6.8 L15.5,-7.3 L15.6,-7.8 L15.8,-8.2 L16.0,-8.5 L16.2,-8.6 L16.4,-8.7 L16.5,-8.7 L16.7,-8.7 L16.8,-8.6 L17.0,-8.5 L17.6,-6.3 L17.6,-6.2 L17.5,-6.1 L17.0,-5.3Z" fill="#ede3ec" stroke="#ede3ec" stroke-width="1.9" stroke-linejoin="round"/>
<path d="M75.4,33.6 L75.0,33.9 L74.4,34.0 L73.8,34.1 L73.2,34.0 L72.6,33.9 L72.1,33.6 L71.8,33.4 L71.5,33.1 L71.4,32.8 L71.4,32.6 L71.4,32.4 L71.5,32.2 L71.8,31.9 L72.1,31.6 L72.6,31.4 L73.2,31.2 L73.8,31.2 L74.4,31.2 L75.0,31.4 L75.4,31.6 L75.8,31.9 L75.9,32.0 L76.1,32.9 L76.0,33.1 L75.8,33.4Z" fill="#ede3ec" stroke="#ede3ec" stroke-width="2.3" stroke-linejoin="round"/>
<path d="M96.6,18.4 L98.5,15.2 L98.7,15.4 L99.0,15.8 L99.3,16.5 L99.5,17.2 L99.5,17.6 L98.8,19.4Z" fill="#ede3ec" stroke="#ede3ec" stroke-width="2.7" stroke-linejoin="round"/>
<path d="M110.1,-7.8 L110.3,-7.4 L110.5,-7.1 L110.5,-6.7 L110.5,-6.3 L110.3,-5.9 L110.1,-5.6 L109.8,-5.3 L109.5,-5.1 L107.9,-5.0 L107.8,-5.0 L107.4,-5.3 L107.1,-5.6 L106.9,-5.9 L106.8,-6.3 L106.7,-6.7 L106.8,-7.1 L106.9,-7.4 L107.1,-7.8 L107.4,-8.1 L107.8,-8.3 L108.2,-8.4 L108.6,-8.5 L109.0,-8.4 L109.4,-8.3 L109.8,-8.1Z" fill="#ede3ec" stroke="#ede3ec" stroke-width="2.2" stroke-linejoin="round"/>
<path d="M102.8,63.8 L101.7,64.4 L101.5,64.1 L101.3,63.7 L101.1,63.3 L101.1,62.8 L101.1,62.6 L103.1,61.0 L103.2,61.1Z" fill="#ede3ec" stroke="#ede3ec" stroke-width="2.1" stroke-linejoin="round"/>
<path d="M61.3,38.4 L60.3,40.7 L58.3,41.0 L58.1,40.9 L58.0,40.9 L58.1,37.6 L58.6,37.5 L59.4,37.4 L60.1,37.5 L60.8,37.7 L61.2,37.9Z" fill="#ede3ec" stroke="#ede3ec" stroke-width="2.7" stroke-linejoin="round"/>
<path d="M48.2,29.9 L48.0,30.0 L45.9,28.5 L46.0,25.4 L46.0,25.4 L46.6,25.4 L47.2,25.4 L47.7,25.6 L48.2,25.9 L48.6,26.3 L48.9,26.8 L49.1,27.3 L49.2,27.9 L49.1,28.5 L48.9,29.0 L48.6,29.5Z" fill="#ede3ec" stroke="#ede3ec" stroke-width="2.9" stroke-linejoin="round"/>
<path d="M109.8,51.3 L109.6,51.5 L109.4,51.7 L107.2,52.1 L107.1,52.0 L105.7,50.8 L105.7,50.7 L105.8,50.5 L106.0,50.2 L106.3,50.0 L106.8,49.8 L107.3,49.6 L107.8,49.6 L108.4,49.6 L108.9,49.8 L109.3,50.0 L109.6,50.2 L109.8,50.5 L109.9,50.7 L109.9,50.9 L109.9,51.0Z" fill="#ede3ec" stroke="#ede3ec" stroke-width="2.1" stroke-linejoin="round"/>
<path d="M109.5,30.0 L109.2,30.1 L108.9,30.2 L108.6,30.1 L108.3,30.0 L108.0,29.8 L107.8,29.6 L108.0,28.0 L110.1,27.6 L110.2,27.8 L110.4,28.2 L110.4,28.5 L110.4,28.9 L110.2,29.3 L110.1,29.6 L109.8,29.8Z" fill="#ede3ec" stroke="#ede3ec" stroke-width="2.0" stroke-linejoin="round"/>
<path d="M-6.4,72.1 L-6.6,72.3 L-6.8,72.3 L-7.0,72.3 L-7.2,72.1 L-7.5,71.9 L-7.8,71.5 L-8.0,71.0 L-8.2,70.4 L-8.2,69.7 L-8.2,69.0 L-8.0,68.4 L-7.8,67.8 L-7.6,67.7 L-5.7,70.0 L-6.2,72.0Z" fill="#ede3ec" stroke="#ede3ec" stroke-width="2.4" stroke-linejoin="round"/>
<path d="M-6.2,28.5 L-8.1,28.7 L-8.2,28.5 L-8.4,28.0 L-8.4,27.5 L-8.4,27.0 L-8.2,26.5 L-8.0,26.1 L-8.0,26.1 L-6.2,26.8Z" fill="#ede3ec" stroke="#ede3ec" stroke-width="2.2" stroke-linejoin="round"/>
<path d="M72.2,-6.3 L71.8,-6.1 L71.2,-6.1 L70.7,-6.1 L70.3,-6.3 L70.2,-6.3 L69.8,-8.8 L69.9,-8.9 L70.3,-9.1 L70.7,-9.2 L71.2,-9.3 L71.8,-9.2 L72.2,-9.1 L72.5,-8.9 L72.5,-6.5Z" fill="#ede3ec" stroke="#ede3ec" stroke-width="2.2" stroke-linejoin="round"/>
<path d="M78.5,-1.0 L78.4,-0.9 L78.1,-0.7 L77.8,-0.6 L77.4,-0.6 L77.1,-0.6 L76.7,-0.7 L76.4,-0.9 L76.2,-1.1 L76.0,-1.4 L75.9,-1.6 L75.9,-1.9 L75.9,-2.2 L76.0,-2.5 L76.2,-2.7 L76.4,-2.9 L76.7,-3.1 L77.1,-3.2 L77.4,-3.2 L77.8,-3.2 L78.1,-3.1Z" fill="#ede3ec" stroke="#ede3ec" stroke-width="1.9" stroke-linejoin="round"/>
<path d="M69.2,38.7 L65.0,37.2 L64.9,36.6 L65.0,36.4 L65.4,36.1 L66.0,35.8 L66.6,35.6 L67.3,35.6 L68.0,35.6 L68.7,35.8 L68.8,35.9 L70.1,37.6 L70.0,37.7 L69.9,38.1 L69.6,38.4Z" fill="#ede3ec" stroke="#ede3ec" stroke-width="2.6" stroke-linejoin="round"/>
<path d="M4.1,72.4 L3.9,72.5 L3.6,72.6 L3.3,72.5 L3.1,72.4 L3.1,72.4 L2.7,69.0 L2.8,69.0 L3.1,68.8 L3.3,68.7 L3.6,68.6 L3.9,68.7 L4.1,68.8 L4.4,69.0 L4.6,69.2 L4.3,72.3Z" fill="#ede3ec" stroke="#ede3ec" stroke-width="2.1" stroke-linejoin="round"/>
<path d="M18.5,25.8 L17.9,26.1 L17.3,26.3 L16.6,26.4 L15.9,26.3 L15.2,26.1 L14.6,25.8 L14.3,25.5 L14.2,23.4 L14.2,23.4 L14.6,23.0 L15.2,22.7 L15.8,22.6 L18.9,24.6 L18.7,25.6Z" fill="#ede3ec" stroke="#ede3ec" stroke-width="2.7" stroke-linejoin="round"/>
<path d="M-5.0,34.3 L-5.1,34.3 L-7.6,34.4 L-7.9,34.3 L-8.2,34.0 L-8.4,33.7 L-8.6,33.4 L-8.6,33.0 L-8.6,32.7 L-8.4,32.4 L-8.2,32.1 L-5.1,31.9 L-4.6,32.2 L-4.5,32.4 L-4.4,32.7 L-4.3,33.0 L-4.4,33.4 L-4.5,33.7 L-4.7,34.0Z" fill="#ede3ec" stroke="#ede3ec" stroke-width="2.3" stroke-linejoin="round"/>
<path d="M28.6,-4.2 L28.3,-4.1 L28.0,-4.0 L27.7,-4.1 L27.4,-4.2 L27.1,-4.4 L26.8,-4.7 L26.6,-5.0 L26.5,-5.4 L26.4,-5.8 L26.5,-6.3 L26.6,-6.7 L26.8,-7.0 L27.1,-7.3 L27.4,-7.5 L27.7,-7.6 L28.0,-7.6 L28.3,-7.6 L28.6,-7.5 L28.9,-7.3 L29.2,-7.0 L29.4,-6.7 L29.5,-6.3 L29.6,-5.8 L29.5,-5.4 L29.4,-5.0 L29.2,-4.7 L28.9,-4.4Z" fill="#ede3ec" stroke="#ede3ec" stroke-width="2.1" stroke-linejoin="round"/>
<path d="M24.0,63.8 L24.0,63.7 L26.9,63.3 L27.3,63.7 L27.3,63.9 L27.4,64.1 L25.6,66.4Z" fill="#ede3ec" stroke="#ede3ec" stroke-width="2.6" stroke-linejoin="round"/>
<path d="M-6.7,46.0 L-7.1,46.1 L-7.6,46.0 L-8.0,45.9 L-8.4,45.7 L-8.6,45.5 L-8.8,45.2 L-8.9,45.0 L-8.9,44.8 L-8.9,44.5 L-8.8,44.3 L-8.6,44.0 L-8.4,43.8 L-8.0,43.6 L-7.6,43.5 L-7.1,43.5 L-6.7,43.5 L-6.7,43.5 L-6.3,43.6 L-6.2,43.7 L-6.6,46.0Z" fill="#ede3ec" stroke="#ede3ec" stroke-width="1.9" stroke-linejoin="round"/>
<path d="M107.9,64.4 L107.9,64.5 L106.1,63.8 L106.4,61.8 L106.7,61.8 L107.1,61.8 L107.6,61.9 L107.9,62.1 L108.2,62.4 L108.4,62.7 L108.5,63.0 L108.6,63.3 L108.5,63.6 L108.4,63.9 L108.2,64.2Z" fill="#ede3ec" stroke="#ede3ec" stroke-width="2.1" stroke-linejoin="round"/>
<path d="M25.6,28.0 L25.0,28.0 L24.3,27.9 L23.6,27.8 L23.0,27.5 L22.5,27.1 L22.4,27.0 L22.9,24.9 L23.0,24.8 L23.2,24.7 L26.7,25.6Z" fill="#ede3ec" stroke="#ede3ec" stroke-width="2.7" stroke-linejoin="round"/>
<path d="M52.2,5.5 L52.1,5.6 L51.8,5.7 L51.6,5.8 L51.4,5.7 L51.2,5.6 L50.9,5.4 L50.7,5.1 L50.4,4.7 L50.3,4.2 L50.3,3.7 L50.3,3.1 L50.4,2.6 L50.5,2.5 L52.2,2.3Z" fill="#ede3ec" stroke="#ede3ec" stroke-width="2.1" stroke-linejoin="round"/>
<path d="M59.7,72.1 L59.5,72.2 L58.9,72.4 L58.3,72.5 L57.7,72.4 L57.2,72.2 L56.7,71.9 L56.4,71.6 L56.4,70.5 L60.0,68.3Z" fill="#ede3ec" stroke="#ede3ec" stroke-width="2.8" stroke-linejoin="round"/>
<path d="M43.7,-4.8 L43.6,-4.7 L43.3,-4.8 L43.1,-4.9 L42.2,-6.2 L42.2,-6.3 L42.1,-6.8 L42.2,-7.3 L42.3,-7.8 L42.5,-8.2 L42.8,-8.5 L43.0,-8.7 L43.3,-8.8 L43.6,-8.8 L43.9,-8.8 L44.1,-8.7 L44.4,-8.5 L44.5,-8.4Z" fill="#ede3ec" stroke="#ede3ec" stroke-width="2.2" stroke-linejoin="round"/>
<path d="M108.3,16.0 L107.9,16.2 L107.6,16.4 L107.2,16.4 L106.8,16.4 L106.4,16.2 L106.1,16.0 L105.8,15.8 L105.6,15.5 L105.5,15.2 L105.5,15.1 L108.0,13.5 L108.3,13.7 L108.5,13.9 L108.7,14.2 L108.8,14.5 L108.9,14.8 L108.8,15.2 L108.7,15.5 L108.5,15.8Z" fill="#ede3ec" stroke="#ede3ec" stroke-width="2.0" stroke-linejoin="round"/>
<path d="M1.3,-1.0 L1.5,-0.6 L1.7,-0.2 L1.7,0.4 L1.7,0.9 L1.5,1.4 L1.3,1.8 L1.0,2.1 L0.6,2.4 L0.4,2.4 L-2.0,0.6 L-2.0,0.4 L-2.0,0.1 L0.3,-1.7 L0.6,-1.6 L1.0,-1.4Z" fill="#ede3ec" stroke="#ede3ec" stroke-width="2.4" stroke-linejoin="round"/>
<path d="M-2.0,29.3 L-2.1,29.3 L-2.5,29.2 L-2.8,29.1 L-2.8,26.6 L-1.6,25.9 L-1.4,26.0 L-1.1,26.2 L-0.9,26.4Z" fill="#ede3ec" stroke="#ede3ec" stroke-width="2.1" stroke-linejoin="round"/>
<path d="M-3.3,-3.2 L-3.7,-3.1 L-4.1,-3.0 L-4.6,-3.1 L-5.0,-3.2 L-5.4,-3.4 L-5.7,-3.6 L-5.7,-3.7 L-3.9,-5.8 L-3.7,-5.8 L-3.5,-5.8 L-2.3,-4.1 L-2.4,-4.0Z" fill="#ede3ec" stroke="#ede3ec" stroke-width="2.1" stroke-linejoin="round"/>
<path d="M-5.7,40.6 L-6.9,40.3 L-7.0,40.2 L-7.2,39.9 L-7.3,39.5 L-7.3,39.1 L-7.3,38.6 L-7.2,38.2 L-7.0,37.9 L-6.8,37.7 L-6.7,37.6 L-5.8,37.5 L-5.6,37.7 L-5.4,37.9 L-5.2,38.2 L-5.1,38.6 L-5.1,38.9 L-5.2,39.7 L-5.2,39.9 L-5.4,40.2 L-5.6,40.5Z" fill="#ede3ec" stroke="#ede3ec" stroke-width="1.8" stroke-linejoin="round"/>
<path d="M87.4,51.4 L87.1,51.5 L86.9,51.5 L86.7,51.5 L86.5,51.4 L86.2,51.2 L86.0,50.9 L85.8,50.5 L85.6,50.0 L85.6,49.4 L85.6,48.9 L85.8,48.4 L86.0,48.0 L86.1,47.8 L88.0,48.2 L88.1,48.4 L88.2,48.9 L88.3,49.4 L88.2,50.0 L88.1,50.5 L87.9,50.9 L87.6,51.2Z" fill="#ede3ec" stroke="#ede3ec" stroke-width="2.1" stroke-linejoin="round"/>
<path d="M29.1,68.9 L28.7,68.4 L29.8,66.9 L29.9,66.9 L30.3,66.8 L31.6,68.4 L31.4,68.8Z" fill="#ede3ec" stroke="#ede3ec" stroke-width="2.3" stroke-linejoin="round"/>
<path d="M17.2,2.0 L16.8,2.1 L16.5,2.2 L16.2,2.1 L15.9,2.0 L15.5,1.7 L15.2,1.3 L14.9,0.7 L14.7,-0.0 L14.6,-0.8 L14.7,-1.5 L14.8,-1.8 L16.8,-1.8 L18.2,0.4 L18.1,0.7 L17.9,1.3 L17.5,1.7Z" fill="#ede3ec" stroke="#ede3ec" stroke-width="2.7" stroke-linejoin="round"/>
<path d="M26.6,15.2 L27.0,15.3 L27.4,15.5 L27.6,15.7 L27.8,16.0 L27.9,16.2 L27.9,16.4 L27.9,16.6 L27.8,16.8 L24.6,17.1 L24.4,16.9 L24.4,16.6 L24.3,16.4 L24.4,16.2 L24.4,16.0 L24.6,15.7 L24.9,15.5 L25.3,15.3 L25.7,15.2 L26.1,15.1Z" fill="#ede3ec" stroke="#ede3ec" stroke-width="2.0" stroke-linejoin="round"/>
<path d="M33.6,4.1 L33.3,4.3 L32.9,4.4 L32.5,4.4 L32.1,4.4 L31.7,4.3 L31.4,4.1 L31.1,3.9 L30.9,3.6 L30.8,3.4 L30.8,3.2 L30.8,3.0 L30.9,2.8 L31.1,2.6 L31.4,2.4 L31.7,2.2 L32.1,2.1 L32.2,2.1 L34.1,2.8 L34.1,3.0 L34.2,3.2 L34.1,3.4 L34.0,3.6 L33.9,3.9Z" fill="#ede3ec" stroke="#ede3ec" stroke-width="1.8" stroke-linejoin="round"/>
<path d="M31.9,58.1 L32.0,58.6 L32.1,59.2 L32.0,59.8 L31.9,60.3 L31.7,60.7 L31.4,61.0 L31.2,61.2 L31.1,61.2 L31.0,61.3 L30.8,61.3 L30.6,61.3 L30.4,61.2 L30.2,61.0 L29.9,60.7 L29.7,60.3 L29.6,59.8 L29.5,59.2 L29.6,58.6 L29.7,58.1 L29.9,57.7 L30.2,57.4 L30.4,57.2 L30.6,57.1 L30.8,57.1 L31.0,57.1 L31.2,57.2 L31.4,57.4 L31.7,57.7Z" fill="#ede3ec" stroke="#ede3ec" stroke-width="2.1" stroke-linejoin="round"/>
<path d="M66.1,-8.2 L66.4,-8.0 L66.6,-7.8 L66.7,-7.6 L66.9,-6.5 L66.8,-6.3 L66.6,-6.0 L66.5,-6.0 L63.9,-6.8 L63.9,-6.9 L63.9,-7.2 L64.0,-7.5 L64.2,-7.8 L64.4,-8.0 L64.7,-8.2 L65.0,-8.3 L65.4,-8.4 L65.7,-8.3Z" fill="#ede3ec" stroke="#ede3ec" stroke-width="1.9" stroke-linejoin="round"/>
<path d="M76.3,75.1 L76.1,75.2 L75.8,75.2 L75.6,75.2 L75.3,75.1 L75.3,75.0 L75.2,72.4 L77.2,73.0 L77.2,73.2 L77.2,73.7 L77.1,74.2 L76.8,74.6 L76.6,74.9Z" fill="#ede3ec" stroke="#ede3ec" stroke-width="2.1" stroke-linejoin="round"/>
<path d="M106.8,36.8 L106.5,37.0 L106.1,37.1 L105.7,37.1 L105.4,37.1 L104.9,34.8 L104.9,34.7 L105.3,34.6 L105.7,34.6 L106.1,34.6 L106.5,34.7 L106.8,34.9 L107.1,35.1 L107.2,35.4 L107.3,35.6 L107.4,35.9 L107.3,36.1 L107.2,36.3 L107.1,36.6Z" fill="#ede3ec" stroke="#ede3ec" stroke-width="1.9" stroke-linejoin="round"/>
<path d="M-7.0,-9.5 L-6.7,-9.2 L-6.5,-8.7 L-6.4,-8.2 L-8.6,-5.5 L-8.8,-5.7 L-9.1,-6.2 L-9.2,-6.8 L-9.3,-7.4 L-9.2,-8.1 L-9.1,-8.7 L-8.8,-9.2 L-8.6,-9.5 L-8.3,-9.8 L-8.0,-9.9 L-7.8,-9.9 L-7.6,-9.9 L-7.3,-9.8Z" fill="#ede3ec" stroke="#ede3ec" stroke-width="2.3" stroke-linejoin="round"/>
<path d="M103.8,75.3 L103.2,75.5 L102.6,75.6 L101.9,75.5 L101.3,75.3 L100.8,75.0 L100.4,74.6 L102.1,71.9 L103.4,72.4 L103.8,75.3Z" fill="#ede3ec" stroke="#ede3ec" stroke-width="2.9" stroke-linejoin="round"/>
<path d="M32.2,30.1 L31.9,30.4 L31.4,30.5 L31.0,30.5 L30.5,30.5 L30.1,30.4 L29.7,30.1 L29.4,29.8 L29.2,29.5 L29.1,29.3 L30.0,27.3 L30.1,27.2 L30.5,27.1 L31.0,27.0 L31.4,27.1 L31.9,27.2 L32.2,27.4 L32.5,27.7 L32.8,28.0 L32.9,28.4 L32.9,28.8 L32.9,29.1 L32.8,29.5 L32.5,29.8Z" fill="#ede3ec" stroke="#ede3ec" stroke-width="2.3" stroke-linejoin="round"/>
<path d="M18.6,10.8 L18.7,11.0 L18.7,11.2 L18.7,11.4 L18.6,11.6 L18.4,11.8 L18.2,12.0 L17.8,12.2 L17.4,12.3 L17.0,12.4 L16.6,12.3 L15.2,11.1 L15.2,11.0 L15.3,10.8 L15.5,10.5 L15.7,10.3 L16.1,10.1 L16.5,10.0 L17.0,10.0 L17.4,10.0 L17.8,10.1 L18.2,10.3 L18.4,10.5Z" fill="#ede3ec" stroke="#ede3ec" stroke-width="1.9" stroke-linejoin="round"/>
<path d="M77.6,12.7 L77.0,13.0 L76.2,13.2 L75.4,13.3 L74.6,13.2 L73.8,13.0 L73.2,12.7 L72.7,12.4 L72.4,12.0 L72.2,11.6 L72.2,11.3 L72.2,10.9 L72.4,10.6 L72.7,10.2 L73.2,9.8 L73.8,9.5 L74.6,9.3 L75.1,9.2 L78.0,12.4Z" fill="#ede3ec" stroke="#ede3ec" stroke-width="2.9" stroke-linejoin="round"/>
<path d="M95.8,-6.6 L96.0,-6.3 L96.1,-6.1 L96.1,-5.9 L96.1,-5.7 L96.0,-5.5 L95.8,-5.3 L95.6,-5.1 L95.2,-4.9 L94.8,-4.8 L94.4,-4.8 L94.2,-4.8 L92.8,-5.6 L92.8,-5.7 L92.7,-5.9 L92.8,-6.1 L92.9,-6.3 L93.0,-6.6 L93.3,-6.8 L93.6,-6.9 L94.0,-7.1 L94.4,-7.1 L94.8,-7.1 L95.2,-6.9 L95.6,-6.8Z" fill="#ede3ec" stroke="#ede3ec" stroke-width="1.8" stroke-linejoin="round"/>
<path d="M93.9,13.0 L94.2,13.4 L94.4,13.9 L94.6,14.4 L92.7,17.6 L92.5,17.5 L92.2,17.3 L91.9,16.9 L91.6,16.4 L91.4,15.8 L91.4,15.1 L91.4,14.5 L91.6,13.9 L91.9,13.4 L92.2,13.0 L92.4,12.8Z" fill="#ede3ec" stroke="#ede3ec" stroke-width="2.4" stroke-linejoin="round"/>
<path d="M75.4,68.9 L75.4,68.9 L77.0,67.1 L77.2,67.1 L77.6,67.2 L78.0,67.3 L78.3,67.5 L78.6,67.8 L78.8,68.1 L79.0,68.5 L79.0,68.9 L79.0,69.3 L78.8,69.7 L78.7,70.0Z" fill="#ede3ec" stroke="#ede3ec" stroke-width="2.2" stroke-linejoin="round"/>
<path d="M92.1,69.0 L92.0,68.8 L91.9,68.4 L91.8,67.8 L91.9,67.3 L92.0,66.9 L92.2,66.5 L92.4,66.2 L92.6,66.0 L92.7,65.9 L92.8,65.9 L92.9,65.9 L93.1,66.0 L93.3,66.2 L93.5,66.5 L93.7,66.9 L93.8,67.3 L93.8,67.7 L92.9,69.7Z" fill="#ede3ec" stroke="#ede3ec" stroke-width="1.9" stroke-linejoin="round"/>
<path d="M18.5,60.7 L18.8,60.7 L19.0,60.7 L19.7,61.0 L19.7,61.0 L19.9,61.2 L20.1,61.5 L20.2,61.7 L20.2,62.1 L20.2,62.4 L20.1,62.7 L19.9,62.9 L19.7,63.1 L19.5,63.3 L19.1,63.4 L18.8,63.5 L18.5,63.4 L18.4,63.4 L17.4,62.3 L17.4,62.1 L17.4,61.7 L17.5,61.5 L17.7,61.2 L17.9,61.0 L18.2,60.8Z" fill="#ede3ec" stroke="#ede3ec" stroke-width="1.8" stroke-linejoin="round"/>
<path d="M23.8,60.2 L23.8,60.2 L23.6,59.8 L25.2,56.9 L25.2,56.9 L25.4,57.1 L25.7,57.4 L25.9,57.8 L26.0,58.3 L26.0,58.8 L26.0,59.3 L25.9,59.8 L25.8,59.9Z" fill="#ede3ec" stroke="#ede3ec" stroke-width="2.0" stroke-linejoin="round"/>
<path d="M42.6,48.8 L42.9,49.4 L43.0,50.1 L43.1,50.8 L43.0,51.5 L42.9,52.2 L42.6,52.7 L42.3,53.2 L41.9,53.4 L41.8,53.5 L39.7,51.5 L39.6,50.8 L39.7,50.1 L39.9,49.4 L40.1,48.8 L40.5,48.4 L40.8,48.1 L41.0,48.0 L42.3,48.5Z" fill="#ede3ec" stroke="#ede3ec" stroke-width="2.6" stroke-linejoin="round"/>
<path d="M94.4,58.0 L94.3,58.0 L93.9,57.9 L93.6,57.8 L93.3,57.6 L93.0,57.3 L92.7,56.9 L92.6,56.5 L92.6,56.0 L92.6,55.6 L92.7,55.1 L93.0,54.8 L93.3,54.4 L93.6,54.2 L93.9,54.1 L94.3,54.1 L94.7,54.1 L95.0,54.2 L95.4,54.4 L95.7,54.8 L95.9,55.1 L95.9,55.3Z" fill="#ede3ec" stroke="#ede3ec" stroke-width="2.2" stroke-linejoin="round"/>
<path d="M102.4,37.7 L101.6,38.0 L101.5,38.0 L101.1,38.0 L100.8,37.9 L100.4,37.7 L100.2,37.5 L100.0,37.3 L99.9,37.0 L99.9,36.8 L99.9,36.6 L100.0,36.4 L100.2,36.1 L100.4,35.9 L100.8,35.8 L101.1,35.6 L101.5,35.6 L101.9,35.6Z" fill="#ede3ec" stroke="#ede3ec" stroke-width="1.8" stroke-linejoin="round"/>
<path d="M-3.0,47.3 L-3.1,47.2 L-3.4,46.9 L-3.5,46.6 L-3.0,44.0 L-2.9,43.9 L-2.2,44.1 L-1.3,45.6 L-2.7,47.4Z" fill="#ede3ec" stroke="#ede3ec" stroke-width="1.9" stroke-linejoin="round"/>
<path d="M108.8,43.3 L109.1,43.4 L109.4,43.6 L109.7,43.8 L109.8,44.1 L110.0,44.5 L110.0,44.8 L110.0,45.2 L109.8,45.5 L109.7,45.8 L109.4,46.0 L109.1,46.2 L108.8,46.3 L107.8,46.2 L107.5,46.0 L107.3,45.8 L107.1,45.5 L107.0,45.2 L106.9,44.8 L107.0,44.8 L107.8,43.4 L108.1,43.3 L108.5,43.3Z" fill="#ede3ec" stroke="#ede3ec" stroke-width="2.0" stroke-linejoin="round"/>
<path d="M59.8,-5.4 L57.8,-4.8 L57.7,-5.1 L57.7,-8.4 L57.8,-8.6 L58.1,-9.1 L58.4,-9.3 L58.7,-9.4 L58.9,-9.5 L59.2,-9.4 L59.4,-9.3 L59.7,-9.1 L60.1,-8.6 L60.3,-8.2 L60.3,-6.2Z" fill="#ede3ec" stroke="#ede3ec" stroke-width="2.5" stroke-linejoin="round"/>
<path d="M-6.0,10.1 L-5.6,10.2 L-5.4,10.2 L-5.2,10.4 L-4.8,11.6 L-5.6,12.9 L-8.1,12.9 L-8.2,12.7 L-8.4,12.4 L-8.6,12.1 L-8.6,11.7 L-8.6,11.4 L-8.4,11.1 L-8.2,10.7 L-7.9,10.4 L-7.5,10.2 L-7.0,10.1 L-6.5,10.0Z" fill="#ede3ec" stroke="#ede3ec" stroke-width="2.3" stroke-linejoin="round"/>
<path d="M111.2,55.2 L111.5,55.5 L111.6,55.9 L111.7,56.2 L111.6,56.5 L111.5,56.9 L111.2,57.2 L110.8,57.6 L110.2,57.9 L109.5,58.1 L109.1,58.1 L108.0,57.8 L108.3,55.5 L111.1,55.0Z" fill="#ede3ec" stroke="#ede3ec" stroke-width="2.7" stroke-linejoin="round"/>
<path d="M110.1,73.7 L109.6,74.0 L109.0,74.2 L108.4,74.2 L107.7,74.2 L107.7,74.2 L107.3,71.9 L109.3,70.4 L109.6,70.5 L110.1,70.8 L110.5,71.1 L110.8,71.5 L111.0,71.9 L111.0,72.2 L111.0,72.6 L110.8,73.0 L110.5,73.4Z" fill="#ede3ec" stroke="#ede3ec" stroke-width="2.7" stroke-linejoin="round"/>
<path d="M3.6,30.1 L1.3,29.7 L1.9,28.1 L2.3,28.0 L2.8,28.1 L3.2,28.2 L3.6,28.4 L3.9,28.6 L4.1,28.8 L4.1,29.0 L4.2,29.2 L4.1,29.4 L4.1,29.6 L3.9,29.9Z" fill="#ede3ec" stroke="#ede3ec" stroke-width="1.9" stroke-linejoin="round"/>
<path d="M109.2,22.2 L109.5,22.6 L109.8,23.0 L109.9,23.5 L110.0,24.1 L110.0,24.1 L107.2,24.6 L106.8,24.2 L108.9,22.0Z" fill="#ede3ec" stroke="#ede3ec" stroke-width="2.5" stroke-linejoin="round"/>
<path d="M79.0,24.6 L79.7,24.6 L80.3,24.6 L80.9,24.8 L81.5,25.0 L81.8,25.3 L82.1,25.6 L82.2,25.9 L82.2,26.1 L78.4,27.6 L78.4,27.6 L77.9,27.3 L77.5,27.0 L77.3,26.7 L77.1,26.4 L77.1,26.2 L77.1,25.9 L77.3,25.6 L77.5,25.3 L77.9,25.0 L78.4,24.8Z" fill="#ede3ec" stroke="#ede3ec" stroke-width="2.4" stroke-linejoin="round"/>
<path d="M-0.5,72.9 L-0.8,73.0 L-1.1,73.1 L-1.4,73.0 L-1.7,72.9 L-2.1,72.7 L-2.3,72.4 L-2.6,72.0 L-2.6,71.9 L-2.3,70.8 L-0.5,70.0 L-0.3,72.8Z" fill="#ede3ec" stroke="#ede3ec" stroke-width="2.2" stroke-linejoin="round"/>
<path d="M48.4,-7.5 L48.4,-7.5 L48.9,-5.5 L47.3,-4.1 L47.2,-4.2 L47.0,-4.5 L47.0,-4.5 L47.7,-7.6 L47.9,-7.6 L48.1,-7.6Z" fill="#ede3ec" stroke="#ede3ec" stroke-width="2.0" stroke-linejoin="round"/>
<path d="M1.8,-7.1 L1.5,-7.0 L1.0,-6.8 L0.6,-6.8 L0.1,-6.8 L-0.3,-7.0 L-0.5,-7.0 L-1.2,-8.0 L-1.2,-8.1 L-1.1,-8.3 L-1.0,-8.5 L-0.7,-8.7 L-0.3,-8.9 L0.1,-9.0 L0.6,-9.1 L1.0,-9.0 L1.5,-8.9 L1.8,-8.7 L2.1,-8.5 L2.3,-8.3 L2.4,-8.1 L2.4,-7.9 L2.4,-7.8 L2.3,-7.6 L2.1,-7.4Z" fill="#ede3ec" stroke="#ede3ec" stroke-width="1.9" stroke-linejoin="round"/>
<path d="M110.4,1.2 L107.2,1.1 L107.0,0.8 L106.9,0.4 L106.8,0.2 L106.9,-0.4 L107.0,-0.7 L107.2,-1.0 L107.5,-1.3 L107.9,-1.5 L109.7,-1.6 L109.8,-1.5 L110.2,-1.3 L110.5,-1.0 L110.7,-0.7 L110.9,-0.3 L110.9,0.1 L110.9,0.4 L110.7,0.8 L110.5,1.1Z" fill="#ede3ec" stroke="#ede3ec" stroke-width="2.3" stroke-linejoin="round"/>
<path d="M31.1,74.3 L30.9,74.4 L30.6,74.5 L30.4,74.4 L30.1,74.3 L29.9,74.2 L29.7,73.9 L29.5,73.6 L29.4,73.3 L29.5,72.2 L31.4,72.1 L31.8,73.3 L31.7,73.6 L31.6,73.9 L31.3,74.2Z" fill="#ede3ec" stroke="#ede3ec" stroke-width="1.9" stroke-linejoin="round"/>
<path d="M54.2,-5.8 L54.1,-5.8 L53.8,-5.6 L52.0,-6.2 L51.6,-8.0 L51.7,-8.1 L52.2,-8.2 L52.7,-8.3 L53.3,-8.2 L53.7,-8.1 L54.1,-7.9 L54.2,-7.8Z" fill="#ede3ec" stroke="#ede3ec" stroke-width="2.1" stroke-linejoin="round"/>
<path d="M27.7,21.4 L27.4,21.6 L26.9,21.7 L26.5,21.7 L26.0,21.7 L25.6,21.6 L25.2,21.4 L25.0,21.2 L24.8,21.0 L24.7,20.8 L24.7,20.6 L24.7,20.5 L24.8,20.3 L24.9,20.2 L27.8,19.9 L28.0,20.1 L28.2,20.3 L28.2,20.5 L28.3,20.6 L28.2,20.8 L28.2,21.0 L28.0,21.2Z" fill="#ede3ec" stroke="#ede3ec" stroke-width="1.8" stroke-linejoin="round"/>
<path d="M35.6,-0.4 L35.5,-0.4 L35.2,-0.2 L34.9,-0.1 L32.9,-1.0 L32.8,-1.1 L32.8,-1.4 L32.8,-1.6 L32.9,-1.8 L33.1,-2.1 L33.3,-2.3 L33.7,-2.5 L34.0,-2.6 L34.4,-2.6 L34.5,-2.6Z" fill="#ede3ec" stroke="#ede3ec" stroke-width="1.9" stroke-linejoin="round"/>
<path d="M42.2,26.8 L42.3,27.3 L42.3,27.7 L42.3,28.0 L42.3,28.3 L42.3,28.5 L40.4,29.2 L40.3,28.8 L40.2,28.3 L40.1,27.8 L40.2,27.3 L40.3,26.8 L40.5,26.3 L40.7,26.0 L40.9,25.9 L41.1,25.8 L41.2,25.8 L41.4,25.8 L41.5,25.9 L41.8,26.0 L42.0,26.3Z" fill="#ede3ec" stroke="#ede3ec" stroke-width="2.0" stroke-linejoin="round"/>
<path d="M-5.5,17.9 L-8.8,18.9 L-9.0,18.6 L-9.2,18.1 L-9.3,17.5 L-9.2,17.0 L-9.1,16.7 L-6.0,16.7Z" fill="#ede3ec" stroke="#ede3ec" stroke-width="3.0" stroke-linejoin="round"/>
<path d="M-1.4,10.3 L-1.6,9.7 L-1.6,9.6 L-1.6,9.6 L0.8,7.4 L1.1,7.7 L1.3,8.3 L1.5,8.9 L1.6,9.6 L1.5,10.3 L1.4,10.9Z" fill="#ede3ec" stroke="#ede3ec" stroke-width="2.5" stroke-linejoin="round"/>
<path d="M104.3,56.8 L104.1,56.9 L103.8,56.9 L103.6,56.9 L103.3,56.8 L103.1,56.6 L102.7,56.1 L102.6,55.7 L102.5,55.4 L102.6,55.0 L102.7,54.6 L102.8,54.3 L103.1,54.1 L103.3,53.9 L103.6,53.8 L103.8,53.8 L104.1,53.8 L104.3,53.9 L104.6,54.1 L104.8,54.3 L105.0,54.6 L104.6,56.6 L104.6,56.6Z" fill="#ede3ec" stroke="#ede3ec" stroke-width="1.8" stroke-linejoin="round"/>
<path d="M23.1,-7.9 L23.1,-7.8 L23.0,-7.7 L22.8,-7.5 L22.7,-7.3 L20.4,-7.4 L20.1,-8.7 L20.4,-8.8 L20.8,-8.9 L21.3,-9.0 L21.7,-8.9 L22.2,-8.8 L22.6,-8.6 L22.8,-8.4 L23.0,-8.2 L23.1,-8.1Z" fill="#ede3ec" stroke="#ede3ec" stroke-width="1.8" stroke-linejoin="round"/>
<path d="M56.6,53.6 L56.6,54.0 L56.6,54.5 L56.4,54.9 L56.2,55.3 L55.9,55.6 L55.6,55.8 L55.2,55.9 L54.8,56.0 L54.4,55.9 L54.1,55.8 L53.7,55.6 L53.4,55.3 L53.2,54.9 L53.1,54.5 L53.0,54.0 L53.0,53.8 L56.3,53.0 L56.4,53.2Z" fill="#ede3ec" stroke="#ede3ec" stroke-width="2.3" stroke-linejoin="round"/>
<path d="M1.8,50.4 L1.6,50.5 L1.4,50.5 L1.3,50.5 L1.1,50.4 L0.8,50.2 L0.6,49.9 L0.4,49.6 L0.3,49.1 L0.3,48.7 L0.3,48.6 L1.3,47.3 L1.4,47.3 L2.5,49.3 L2.4,49.6 L2.3,49.9 L2.0,50.2Z" fill="#ede3ec" stroke="#ede3ec" stroke-width="1.9" stroke-linejoin="round"/>
<path d="M51.5,40.1 L51.4,39.8 L51.3,39.4 L51.2,39.0 L51.3,38.6 L51.4,38.2 L51.6,37.9 L51.9,37.6 L52.2,37.4 L52.5,37.3 L52.9,37.3 L53.2,37.3 L53.6,37.4 L53.9,37.6 L54.1,37.9 L54.3,38.2 L54.5,38.6 L54.5,38.7 L54.4,39.5 L54.3,39.8 L54.3,39.9Z" fill="#ede3ec" stroke="#ede3ec" stroke-width="2.1" stroke-linejoin="round"/>
<path d="M82.6,32.3 L82.3,32.5 L82.0,32.6 L81.5,32.6 L81.1,32.6 L80.8,32.5 L80.5,32.3 L80.2,32.0 L80.0,31.8 L79.9,31.5 L79.9,31.2 L79.9,30.9 L80.0,30.6 L80.0,30.6 L82.0,29.8 L82.3,29.9 L82.6,30.1 L82.9,30.4 L83.1,30.6 L83.2,30.9 L83.2,31.2 L83.2,31.5 L83.1,31.8 L82.9,32.0Z" fill="#ede3ec" stroke="#ede3ec" stroke-width="2.0" stroke-linejoin="round"/>
<path d="M87.4,2.2 L87.2,2.3 L86.9,2.3 L86.6,2.3 L86.3,2.2 L86.0,2.0 L85.8,1.7 L85.6,1.4 L85.5,1.0 L85.4,0.6 L85.4,0.3 L85.9,-0.3 L87.7,-0.2 L88.2,1.1 L88.1,1.4 L88.0,1.7 L87.7,2.0Z" fill="#ede3ec" stroke="#ede3ec" stroke-width="2.0" stroke-linejoin="round"/>
<ellipse cx="31.4" cy="23.2" rx="1.1" ry="1.0" fill="#343a88" transform="rotate(32 31.4 23.2)"/>
<ellipse cx="89.0" cy="54.5" rx="1.2" ry="1.1" fill="#343a88" transform="rotate(114 89.0 54.5)"/>
<ellipse cx="35.0" cy="11.2" rx="1.2" ry="0.8" fill="#343a88" transform="rotate(174 35.0 11.2)"/>
<ellipse cx="30.2" cy="63.8" rx="1.2" ry="0.8" fill="#343a88" transform="rotate(112 30.2 63.8)"/>
<ellipse cx="32.9" cy="11.6" rx="1.7" ry="0.8" fill="#343a88" transform="rotate(14 32.9 11.6)"/>
<ellipse cx="22.2" cy="12.7" rx="1.4" ry="1.0" fill="#343a88" transform="rotate(169 22.2 12.7)"/>
<ellipse cx="39.8" cy="61.4" rx="1.0" ry="0.9" fill="#343a88" transform="rotate(74 39.8 61.4)"/>
<ellipse cx="52.5" cy="60.0" rx="1.3" ry="1.1" fill="#343a88" transform="rotate(134 52.5 60.0)"/>
<ellipse cx="96.3" cy="1.9" rx="1.3" ry="0.7" fill="#343a88" transform="rotate(47 96.3 1.9)"/>
<ellipse cx="11.2" cy="61.1" rx="1.5" ry="1.0" fill="#343a88" transform="rotate(120 11.2 61.1)"/>
<ellipse cx="64.1" cy="45.4" rx="1.4" ry="0.9" fill="#343a88" transform="rotate(30 64.1 45.4)"/>
<ellipse cx="86.5" cy="26.5" rx="1.3" ry="0.7" fill="#343a88" transform="rotate(129 86.5 26.5)"/>
<ellipse cx="36.3" cy="30.1" rx="1.5" ry="0.8" fill="#343a88" transform="rotate(133 36.3 30.1)"/>
<ellipse cx="23.5" cy="18.7" rx="1.6" ry="0.9" fill="#343a88" transform="rotate(50 23.5 18.7)"/>
<ellipse cx="17.9" cy="58.6" rx="1.7" ry="0.7" fill="#343a88" transform="rotate(164 17.9 58.6)"/>
<ellipse cx="47.9" cy="53.4" rx="1.2" ry="0.7" fill="#343a88" transform="rotate(157 47.9 53.4)"/>
<ellipse cx="22.6" cy="22.6" rx="1.4" ry="0.9" fill="#343a88" transform="rotate(148 22.6 22.6)"/>
<ellipse cx="19.2" cy="5.1" rx="1.2" ry="0.7" fill="#343a88" transform="rotate(111 19.2 5.1)"/>
<ellipse cx="21.9" cy="2.5" rx="1.4" ry="1.0" fill="#343a88" transform="rotate(93 21.9 2.5)"/>
<ellipse cx="1.6" cy="24.5" rx="1.2" ry="0.9" fill="#343a88" transform="rotate(57 1.6 24.5)"/>
<ellipse cx="87.6" cy="24.6" rx="1.5" ry="0.9" fill="#343a88" transform="rotate(15 87.6 24.6)"/>
<ellipse cx="96.9" cy="63.9" rx="1.1" ry="0.9" fill="#343a88" transform="rotate(2 96.9 63.9)"/>
<ellipse cx="82.0" cy="2.2" rx="1.1" ry="0.9" fill="#343a88" transform="rotate(20 82.0 2.2)"/>
<ellipse cx="72.2" cy="25.3" rx="1.2" ry="1.1" fill="#343a88" transform="rotate(21 72.2 25.3)"/>
<ellipse cx="77.3" cy="29.9" rx="1.5" ry="1.1" fill="#343a88" transform="rotate(16 77.3 29.9)"/>
<ellipse cx="87.5" cy="24.7" rx="1.4" ry="1.0" fill="#343a88" transform="rotate(96 87.5 24.7)"/>
<ellipse cx="71.4" cy="41.6" rx="1.5" ry="0.9" fill="#343a88" transform="rotate(38 71.4 41.6)"/>
<ellipse cx="98.4" cy="11.7" rx="1.0" ry="0.7" fill="#343a88" transform="rotate(74 98.4 11.7)"/>
<ellipse cx="21.4" cy="14.1" rx="1.2" ry="0.7" fill="#343a88" transform="rotate(82 21.4 14.1)"/>
<ellipse cx="44.6" cy="19.0" rx="1.4" ry="1.0" fill="#343a88" transform="rotate(173 44.6 19.0)"/>
<ellipse cx="2.5" cy="37.6" rx="1.6" ry="1.0" fill="#343a88" transform="rotate(30 2.5 37.6)"/>
<ellipse cx="27.2" cy="36.8" rx="1.2" ry="1.0" fill="#343a88" transform="rotate(8 27.2 36.8)"/>
<ellipse cx="29.4" cy="24.3" rx="1.6" ry="0.7" fill="#343a88" transform="rotate(176 29.4 24.3)"/>
<ellipse cx="40.8" cy="38.0" rx="1.4" ry="0.9" fill="#343a88" transform="rotate(112 40.8 38.0)"/>
</g>
<rect x="477" y="12" width="23.6" height="17.6" fill="#fff"/>
<text x="487.6" y="24.0" font-size="8.8" text-anchor="middle" fill="#222">C</text>
<rect x="584" y="12" width="24.0" height="17.8" fill="#fff"/>
<text x="594.4" y="24.0" font-size="8.8" text-anchor="middle" fill="#222">CC</text>
<rect x="477" y="82" width="24.6" height="18.4" fill="#fff"/>
<text x="488.5" y="94.5" font-size="8.8" text-anchor="middle" fill="#222">H</text>
<rect x="584" y="82" width="24.0" height="18.7" fill="#fff"/>
<text x="596.4" y="94.6" font-size="8.8" text-anchor="middle" fill="#222">HC</text>
<rect x="550.8" y="74.8" width="25.200000000000045" height="1.8" fill="#111"/>
<rect x="657.6" y="145.4" width="25.399999999999977" height="1.8" fill="#111"/>
<rect x="550.2" y="145.4" width="25.799999999999955" height="1.8" fill="#111"/>
<rect x="657" y="74.8" width="26" height="1.8" fill="#111"/>
<g transform="translate(476,194)" clip-path="url(#k5)">
<rect x="-1" y="-1" width="102" height="68.7" fill="#e0d5dc"/>
<path d="M12.9,45.1 L8.2,42.6 L16.1,37.6 L16.6,38.3 L14.6,44.1Z" fill="#85796f" stroke="#85796f" stroke-width="14.8" stroke-linejoin="round"/>
<path d="M34.3,25.8 L34.8,28.2 L29.6,30.2 L28.3,30.1 L25.1,25.7 L25.1,25.7 L32.3,23.7Z" fill="#85796f" stroke="#85796f" stroke-width="14.6" stroke-linejoin="round"/>
<path d="M43.0,1.0 L42.6,-1.0 L42.6,-1.3 L43.4,-4.1 L44.5,-6.6 L45.9,-8.5 L47.5,-9.8 L49.0,-10.5 L50.5,-10.7 L52.0,-10.5 L53.5,-9.8 L55.1,-8.5 L56.5,-6.6 L57.6,-4.1 L58.3,-1.6 L53.8,4.8Z" fill="#85796f" stroke="#85796f" stroke-width="10.4" stroke-linejoin="round"/>
<path d="M52.4,12.7 L52.8,13.5 L42.7,18.4 L41.4,17.7 L40.3,16.9 L39.6,16.1 L39.2,15.2 L39.1,14.4 L39.2,13.6 L39.6,12.7 L40.3,11.9 L41.4,11.1 L42.7,10.4 L44.3,10.0 L44.9,9.9 L52.3,12.6Z" fill="#85796f" stroke="#85796f" stroke-width="6.2" stroke-linejoin="round"/>
<path d="M70.3,15.2 L63.5,14.9 L62.0,12.9 L62.0,12.4 L69.1,2.3Z" fill="#85796f" stroke="#85796f" stroke-width="12.8" stroke-linejoin="round"/>
<path d="M83.7,16.4 L81.8,-4.6 L83.9,-5.5 L86.5,-5.8 L89.1,-5.5 L90.3,-5.0Z" fill="#85796f" stroke="#85796f" stroke-width="14.6" stroke-linejoin="round"/>
<path d="M53.4,32.7 L48.0,33.3 L47.2,32.5 L53.3,31.7Z" fill="#85796f" stroke="#85796f" stroke-width="10.4" stroke-linejoin="round"/>
<path d="M71.7,30.5 L71.6,30.7 L71.1,31.7 L70.6,32.3 L69.6,33.1 L68.2,33.7 L66.7,34.2 L65.0,34.3 L63.3,34.2 L61.8,33.7 L61.3,33.5 L60.8,26.5 L61.1,26.0 L61.8,25.7 L63.3,25.2 L65.0,25.1 L66.7,25.2 L68.2,25.7 L69.6,26.3 L70.6,27.1 L71.3,28.0 L71.7,28.9 L71.9,29.7Z" fill="#85796f" stroke="#85796f" stroke-width="6.2" stroke-linejoin="round"/>
<path d="M83.1,41.9 L78.4,39.2 L80.8,35.0 L84.0,41.1Z" fill="#85796f" stroke="#85796f" stroke-width="14.8" stroke-linejoin="round"/>
<path d="M55.6,48.2 L51.9,45.9 L52.1,44.0 L56.8,43.5 L58.1,44.5 L56.4,47.9Z" fill="#85796f" stroke="#85796f" stroke-width="12.8" stroke-linejoin="round"/>
<path d="M69.3,51.9 L69.8,50.8 L76.1,54.5 L75.7,59.9Z" fill="#85796f" stroke="#85796f" stroke-width="14.8" stroke-linejoin="round"/>
<path d="M28.9,71.1 L26.2,72.0 L23.4,72.3 L20.6,72.0 L19.2,71.5 L19.2,56.9 L20.4,56.2 L28.3,61.6 L29.0,71.0Z" fill="#85796f" stroke="#85796f" stroke-width="12.8" stroke-linejoin="round"/>
<path d="M41.8,69.2 L41.3,69.0 L40.5,60.0 L42.5,57.4 L45.1,56.2 L47.0,57.4 L41.9,69.2Z" fill="#85796f" stroke="#85796f" stroke-width="12.8" stroke-linejoin="round"/>
<path d="M42.7,40.7 L43.1,42.3 L43.1,42.5 L42.8,46.8 L42.7,47.3 L42.7,47.3 L39.8,48.6 L35.2,39.7 L35.4,39.4 L36.1,38.4 L39.4,37.2 L39.5,37.2 L40.4,37.6 L41.2,38.3 L42.0,39.4Z" fill="#85796f" stroke="#85796f" stroke-width="6.2" stroke-linejoin="round"/>
<path d="M34.3,51.0 L33.5,51.5 L32.5,51.8 L31.5,52.0 L30.5,51.8 L29.5,51.5 L28.7,51.0 L28.0,50.3 L27.5,49.5 L27.1,48.6 L27.0,47.7 L27.1,46.8 L27.5,45.9 L28.0,45.1 L28.7,44.4 L29.5,43.9 L30.5,43.6 L31.3,43.5 L34.9,50.4Z" fill="#85796f" stroke="#85796f" stroke-width="5.0" stroke-linejoin="round"/>
<path d="M101.9,27.1 L102.5,28.8 L102.6,30.6 L102.5,32.4 L101.9,34.1 L101.1,35.6 L100.1,36.8 L98.9,37.6 L97.7,38.1 L96.4,38.3 L95.1,38.1 L94.3,37.8 L90.2,30.1 L90.3,28.8 L90.9,27.1 L91.7,25.6 L91.8,25.5 L101.6,26.4Z" fill="#85796f" stroke="#85796f" stroke-width="7.4" stroke-linejoin="round"/>
<path d="M101.4,61.5 L99.4,62.6 L97.1,63.2 L94.6,63.4 L92.1,63.2 L89.8,62.6 L87.8,61.5 L87.2,61.1 L87.9,52.8 L93.4,48.5 L94.6,48.4 L97.1,48.6 L99.4,49.2 L101.4,50.3 L103.0,51.5 L104.2,53.0 L104.8,54.4 L105.0,55.9 L104.8,57.4 L104.2,58.8 L103.0,60.3Z" fill="#85796f" stroke="#85796f" stroke-width="9.2" stroke-linejoin="round"/>
<path d="M2.0,34.3 L1.7,34.1 L0.8,33.3 L-0.1,32.2 L-0.8,30.6 L-1.3,28.9 L-1.5,27.0 L-1.3,25.1 L-0.8,23.4 L-0.1,21.8 L0.8,20.7 L1.7,19.9 L1.8,19.8 L6.7,21.0 L7.3,21.8 L8.0,23.4 L8.5,25.1 L8.7,27.0 L8.5,28.9 L8.1,30.5Z" fill="#85796f" stroke="#85796f" stroke-width="6.8" stroke-linejoin="round"/>
<path d="M8.1,63.0 L7.1,64.0 L5.8,64.7 L4.3,65.2 L2.7,65.3 L1.1,65.2 L-0.4,64.7 L-1.7,64.0 L-2.7,63.0 L-3.5,61.9 L-4.0,60.7 L-4.1,59.5 L-4.0,58.3 L-3.5,57.1 L-2.7,56.0 L-1.7,55.0 L-0.4,54.3 L1.1,53.8 L2.7,53.7 L4.3,53.8 L5.8,54.3 L7.1,55.0 L8.1,56.0 L8.9,57.1 L9.4,58.3 L9.5,59.5 L9.4,60.7 L8.9,61.9Z" fill="#85796f" stroke="#85796f" stroke-width="6.8" stroke-linejoin="round"/>
<path d="M27.0,-3.7 L30.6,-3.4 L30.6,-3.4 L32.4,4.3 L30.0,10.6 L23.9,12.3 L23.2,-3.3 L23.4,-3.4Z" fill="#85796f" stroke="#85796f" stroke-width="12.8" stroke-linejoin="round"/>
<path d="M63.2,68.2 L62.4,69.2 L61.5,69.9 L60.5,70.3 L59.5,70.4 L58.5,70.3 L57.5,69.9 L56.6,69.2 L55.8,68.2 L55.1,66.9 L54.7,65.5 L54.5,64.0 L54.7,62.5 L54.7,62.4 L55.9,59.6 L56.6,58.8 L57.5,58.1 L58.5,57.7 L59.5,57.6 L60.5,57.7 L61.3,58.1 L64.0,61.4 L64.3,62.5 L64.5,64.0 L64.3,65.5 L63.9,66.9Z" fill="#85796f" stroke="#85796f" stroke-width="6.2" stroke-linejoin="round"/>
<path d="M101.4,17.1 L100.4,17.6 L99.2,17.9 L98.0,18.1 L96.8,17.9 L95.6,17.6 L94.6,17.1 L93.8,16.5 L93.5,16.1 L95.0,11.5 L95.6,11.2 L96.8,10.9 L98.0,10.7 L99.2,10.9 L100.4,11.2 L101.4,11.7 L102.2,12.3 L102.7,13.0 L103.0,13.7 L103.1,14.4 L103.0,15.1 L102.7,15.8 L102.2,16.5Z" fill="#85796f" stroke="#85796f" stroke-width="5.0" stroke-linejoin="round"/>
<path d="M51.6,19.8 L52.8,20.1 L53.8,20.6 L54.5,21.3 L55.1,22.0 L55.4,22.7 L55.5,23.4 L55.4,24.1 L46.1,25.4 L45.7,24.8 L45.4,24.1 L45.3,23.4 L45.4,22.8 L51.5,19.8Z" fill="#85796f" stroke="#85796f" stroke-width="5.0" stroke-linejoin="round"/>
<path d="M0.2,11.1 L-0.0,8.0 L0.2,4.9 L1.0,2.0 L2.1,-0.5 L3.6,-2.5 L5.1,-3.8 L6.6,-4.5 L8.0,-4.7 L9.4,-4.5 L10.9,-3.8 L12.1,-2.8 L12.8,14.0Z" fill="#85796f" stroke="#85796f" stroke-width="10.4" stroke-linejoin="round"/>
<path d="M12.9,45.1 L8.2,42.6 L16.1,37.6 L16.6,38.3 L14.6,44.1Z" fill="#f0e7ec" stroke="#f0e7ec" stroke-width="14.0" stroke-linejoin="round"/>
<path d="M34.3,25.8 L34.8,28.2 L29.6,30.2 L28.3,30.1 L25.1,25.7 L25.1,25.7 L32.3,23.7Z" fill="#f0e7ec" stroke="#f0e7ec" stroke-width="13.8" stroke-linejoin="round"/>
<path d="M43.0,1.0 L42.6,-1.0 L42.6,-1.3 L43.4,-4.1 L44.5,-6.6 L45.9,-8.5 L47.5,-9.8 L49.0,-10.5 L50.5,-10.7 L52.0,-10.5 L53.5,-9.8 L55.1,-8.5 L56.5,-6.6 L57.6,-4.1 L58.3,-1.6 L53.8,4.8Z" fill="#f0e7ec" stroke="#f0e7ec" stroke-width="9.6" stroke-linejoin="round"/>
<path d="M52.4,12.7 L52.8,13.5 L42.7,18.4 L41.4,17.7 L40.3,16.9 L39.6,16.1 L39.2,15.2 L39.1,14.4 L39.2,13.6 L39.6,12.7 L40.3,11.9 L41.4,11.1 L42.7,10.4 L44.3,10.0 L44.9,9.9 L52.3,12.6Z" fill="#f0e7ec" stroke="#f0e7ec" stroke-width="5.4" stroke-linejoin="round"/>
<path d="M70.3,15.2 L63.5,14.9 L62.0,12.9 L62.0,12.4 L69.1,2.3Z" fill="#f0e7ec" stroke="#f0e7ec" stroke-width="12.0" stroke-linejoin="round"/>
<path d="M83.7,16.4 L81.8,-4.6 L83.9,-5.5 L86.5,-5.8 L89.1,-5.5 L90.3,-5.0Z" fill="#f0e7ec" stroke="#f0e7ec" stroke-width="13.8" stroke-linejoin="round"/>
<path d="M53.4,32.7 L48.0,33.3 L47.2,32.5 L53.3,31.7Z" fill="#f0e7ec" stroke="#f0e7ec" stroke-width="9.6" stroke-linejoin="round"/>
<path d="M71.7,30.5 L71.6,30.7 L71.1,31.7 L70.6,32.3 L69.6,33.1 L68.2,33.7 L66.7,34.2 L65.0,34.3 L63.3,34.2 L61.8,33.7 L61.3,33.5 L60.8,26.5 L61.1,26.0 L61.8,25.7 L63.3,25.2 L65.0,25.1 L66.7,25.2 L68.2,25.7 L69.6,26.3 L70.6,27.1 L71.3,28.0 L71.7,28.9 L71.9,29.7Z" fill="#f0e7ec" stroke="#f0e7ec" stroke-width="5.4" stroke-linejoin="round"/>
<path d="M83.1,41.9 L78.4,39.2 L80.8,35.0 L84.0,41.1Z" fill="#f0e7ec" stroke="#f0e7ec" stroke-width="14.0" stroke-linejoin="round"/>
<path d="M55.6,48.2 L51.9,45.9 L52.1,44.0 L56.8,43.5 L58.1,44.5 L56.4,47.9Z" fill="#f0e7ec" stroke="#f0e7ec" stroke-width="12.0" stroke-linejoin="round"/>
<path d="M69.3,51.9 L69.8,50.8 L76.1,54.5 L75.7,59.9Z" fill="#f0e7ec" stroke="#f0e7ec" stroke-width="14.0" stroke-linejoin="round"/>
<path d="M28.9,71.1 L26.2,72.0 L23.4,72.3 L20.6,72.0 L19.2,71.5 L19.2,56.9 L20.4,56.2 L28.3,61.6 L29.0,71.0Z" fill="#f0e7ec" stroke="#f0e7ec" stroke-width="12.0" stroke-linejoin="round"/>
<path d="M41.8,69.2 L41.3,69.0 L40.5,60.0 L42.5,57.4 L45.1,56.2 L47.0,57.4 L41.9,69.2Z" fill="#f0e7ec" stroke="#f0e7ec" stroke-width="12.0" stroke-linejoin="round"/>
<path d="M42.7,40.7 L43.1,42.3 L43.1,42.5 L42.8,46.8 L42.7,47.3 L42.7,47.3 L39.8,48.6 L35.2,39.7 L35.4,39.4 L36.1,38.4 L39.4,37.2 L39.5,37.2 L40.4,37.6 L41.2,38.3 L42.0,39.4Z" fill="#f0e7ec" stroke="#f0e7ec" stroke-width="5.4" stroke-linejoin="round"/>
<path d="M34.3,51.0 L33.5,51.5 L32.5,51.8 L31.5,52.0 L30.5,51.8 L29.5,51.5 L28.7,51.0 L28.0,50.3 L27.5,49.5 L27.1,48.6 L27.0,47.7 L27.1,46.8 L27.5,45.9 L28.0,45.1 L28.7,44.4 L29.5,43.9 L30.5,43.6 L31.3,43.5 L34.9,50.4Z" fill="#f0e7ec" stroke="#f0e7ec" stroke-width="4.2" stroke-linejoin="round"/>
<path d="M101.9,27.1 L102.5,28.8 L102.6,30.6 L102.5,32.4 L101.9,34.1 L101.1,35.6 L100.1,36.8 L98.9,37.6 L97.7,38.1 L96.4,38.3 L95.1,38.1 L94.3,37.8 L90.2,30.1 L90.3,28.8 L90.9,27.1 L91.7,25.6 L91.8,25.5 L101.6,26.4Z" fill="#f0e7ec" stroke="#f0e7ec" stroke-width="6.6" stroke-linejoin="round"/>
<path d="M101.4,61.5 L99.4,62.6 L97.1,63.2 L94.6,63.4 L92.1,63.2 L89.8,62.6 L87.8,61.5 L87.2,61.1 L87.9,52.8 L93.4,48.5 L94.6,48.4 L97.1,48.6 L99.4,49.2 L101.4,50.3 L103.0,51.5 L104.2,53.0 L104.8,54.4 L105.0,55.9 L104.8,57.4 L104.2,58.8 L103.0,60.3Z" fill="#f0e7ec" stroke="#f0e7ec" stroke-width="8.4" stroke-linejoin="round"/>
<path d="M2.0,34.3 L1.7,34.1 L0.8,33.3 L-0.1,32.2 L-0.8,30.6 L-1.3,28.9 L-1.5,27.0 L-1.3,25.1 L-0.8,23.4 L-0.1,21.8 L0.8,20.7 L1.7,19.9 L1.8,19.8 L6.7,21.0 L7.3,21.8 L8.0,23.4 L8.5,25.1 L8.7,27.0 L8.5,28.9 L8.1,30.5Z" fill="#f0e7ec" stroke="#f0e7ec" stroke-width="6.0" stroke-linejoin="round"/>
<path d="M8.1,63.0 L7.1,64.0 L5.8,64.7 L4.3,65.2 L2.7,65.3 L1.1,65.2 L-0.4,64.7 L-1.7,64.0 L-2.7,63.0 L-3.5,61.9 L-4.0,60.7 L-4.1,59.5 L-4.0,58.3 L-3.5,57.1 L-2.7,56.0 L-1.7,55.0 L-0.4,54.3 L1.1,53.8 L2.7,53.7 L4.3,53.8 L5.8,54.3 L7.1,55.0 L8.1,56.0 L8.9,57.1 L9.4,58.3 L9.5,59.5 L9.4,60.7 L8.9,61.9Z" fill="#f0e7ec" stroke="#f0e7ec" stroke-width="6.0" stroke-linejoin="round"/>
<path d="M27.0,-3.7 L30.6,-3.4 L30.6,-3.4 L32.4,4.3 L30.0,10.6 L23.9,12.3 L23.2,-3.3 L23.4,-3.4Z" fill="#f0e7ec" stroke="#f0e7ec" stroke-width="12.0" stroke-linejoin="round"/>
<path d="M63.2,68.2 L62.4,69.2 L61.5,69.9 L60.5,70.3 L59.5,70.4 L58.5,70.3 L57.5,69.9 L56.6,69.2 L55.8,68.2 L55.1,66.9 L54.7,65.5 L54.5,64.0 L54.7,62.5 L54.7,62.4 L55.9,59.6 L56.6,58.8 L57.5,58.1 L58.5,57.7 L59.5,57.6 L60.5,57.7 L61.3,58.1 L64.0,61.4 L64.3,62.5 L64.5,64.0 L64.3,65.5 L63.9,66.9Z" fill="#f0e7ec" stroke="#f0e7ec" stroke-width="5.4" stroke-linejoin="round"/>
<path d="M101.4,17.1 L100.4,17.6 L99.2,17.9 L98.0,18.1 L96.8,17.9 L95.6,17.6 L94.6,17.1 L93.8,16.5 L93.5,16.1 L95.0,11.5 L95.6,11.2 L96.8,10.9 L98.0,10.7 L99.2,10.9 L100.4,11.2 L101.4,11.7 L102.2,12.3 L102.7,13.0 L103.0,13.7 L103.1,14.4 L103.0,15.1 L102.7,15.8 L102.2,16.5Z" fill="#f0e7ec" stroke="#f0e7ec" stroke-width="4.2" stroke-linejoin="round"/>
<path d="M51.6,19.8 L52.8,20.1 L53.8,20.6 L54.5,21.3 L55.1,22.0 L55.4,22.7 L55.5,23.4 L55.4,24.1 L46.1,25.4 L45.7,24.8 L45.4,24.1 L45.3,23.4 L45.4,22.8 L51.5,19.8Z" fill="#f0e7ec" stroke="#f0e7ec" stroke-width="4.2" stroke-linejoin="round"/>
<path d="M0.2,11.1 L-0.0,8.0 L0.2,4.9 L1.0,2.0 L2.1,-0.5 L3.6,-2.5 L5.1,-3.8 L6.6,-4.5 L8.0,-4.7 L9.4,-4.5 L10.9,-3.8 L12.1,-2.8 L12.8,14.0Z" fill="#f0e7ec" stroke="#f0e7ec" stroke-width="9.6" stroke-linejoin="round"/>
<ellipse cx="58.7" cy="37.1" rx="1.2" ry="1.0" fill="#5c5580" transform="rotate(57 58.7 37.1)"/>
<ellipse cx="18.0" cy="20.3" rx="1.1" ry="1.0" fill="#5c5580" transform="rotate(81 18.0 20.3)"/>
<ellipse cx="18.0" cy="20.3" rx="1.6" ry="0.8" fill="#5c5580" transform="rotate(58 18.0 20.3)"/>
<ellipse cx="60.9" cy="52.9" rx="1.6" ry="0.9" fill="#5c5580" transform="rotate(91 60.9 52.9)"/>
<ellipse cx="65.7" cy="42.6" rx="1.2" ry="0.7" fill="#5c5580" transform="rotate(168 65.7 42.6)"/>
</g>
<g transform="translate(584,194)" clip-path="url(#k6)">
<rect x="-1" y="-1" width="101.5" height="68.7" fill="#e0d5dc"/>
<path d="M6.4,25.9 L15.9,23.8 L16.4,24.1 L16.1,26.3 L11.9,30.8Z" fill="#85796f" stroke="#85796f" stroke-width="13.4" stroke-linejoin="round"/>
<path d="M34.0,34.4 L33.5,34.4 L27.4,27.6 L27.7,25.9 L33.6,28.7Z" fill="#85796f" stroke="#85796f" stroke-width="10.4" stroke-linejoin="round"/>
<path d="M49.8,28.6 L50.2,33.4 L45.0,35.7 L44.6,35.5 L44.2,28.7 L47.1,27.3Z" fill="#85796f" stroke="#85796f" stroke-width="11.6" stroke-linejoin="round"/>
<path d="M56.6,11.2 L57.4,16.2 L54.4,18.5 L52.2,17.4 L51.8,13.6 L55.4,9.9Z" fill="#85796f" stroke="#85796f" stroke-width="11.6" stroke-linejoin="round"/>
<path d="M43.3,19.0 L38.3,21.5 L33.2,19.1 L32.9,18.1 L32.8,16.6 L35.9,11.9 L42.7,14.2Z" fill="#85796f" stroke="#85796f" stroke-width="7.4" stroke-linejoin="round"/>
<path d="M74.7,10.0 L74.9,11.9 L67.1,14.1 L66.8,12.0Z" fill="#85796f" stroke="#85796f" stroke-width="9.2" stroke-linejoin="round"/>
<path d="M92.6,13.8 L84.1,10.4 L83.9,5.5 L84.8,3.5 L92.6,13.8Z" fill="#85796f" stroke="#85796f" stroke-width="10.4" stroke-linejoin="round"/>
<path d="M67.0,30.8 L62.0,34.4 L60.9,33.8 L60.3,27.3 L63.1,25.1Z" fill="#85796f" stroke="#85796f" stroke-width="10.4" stroke-linejoin="round"/>
<path d="M82.8,27.3 L82.5,27.3 L81.6,18.5 L87.2,20.7Z" fill="#85796f" stroke="#85796f" stroke-width="7.4" stroke-linejoin="round"/>
<path d="M99.9,33.3 L98.1,34.2 L96.0,34.8 L95.9,34.8 L87.6,33.1 L94.6,22.7 L96.0,22.8 L98.1,23.4 L99.9,24.3 L101.3,25.3 L102.2,26.5 L102.8,27.7 L102.9,28.8 L102.8,29.9 L102.2,31.1 L101.3,32.3Z" fill="#85796f" stroke="#85796f" stroke-width="8.0" stroke-linejoin="round"/>
<path d="M79.8,36.9 L79.8,36.9 L76.7,46.2 L68.3,44.1 L67.5,41.9 L75.3,36.3 L78.5,36.3Z" fill="#85796f" stroke="#85796f" stroke-width="9.2" stroke-linejoin="round"/>
<path d="M85.5,49.4 L87.9,42.1 L98.4,44.2 L98.7,46.8 L98.6,47.5Z" fill="#85796f" stroke="#85796f" stroke-width="10.4" stroke-linejoin="round"/>
<path d="M50.2,48.9 L50.4,46.2 L55.9,43.7 L57.3,44.5 L58.2,47.3 L54.2,54.4Z" fill="#85796f" stroke="#85796f" stroke-width="12.8" stroke-linejoin="round"/>
<path d="M29.1,51.1 L29.0,50.7 L34.3,44.4 L38.0,43.8 L39.3,44.6 L39.2,47.2Z" fill="#85796f" stroke="#85796f" stroke-width="10.4" stroke-linejoin="round"/>
<path d="M17.4,64.7 L13.5,65.1 L9.6,64.7 L5.9,63.7 L2.8,62.2 L2.2,61.7 L13.5,50.9 L18.0,53.7 L19.2,57.9 L17.8,64.6Z" fill="#85796f" stroke="#85796f" stroke-width="13.4" stroke-linejoin="round"/>
<path d="M41.5,67.1 L40.1,67.6 L38.7,67.8 L37.3,67.6 L35.9,67.1 L34.6,66.2 L33.4,64.9 L32.5,63.3 L32.0,61.4 L31.8,59.5 L31.8,59.4 L42.6,55.3 L45.6,59.5 L45.4,61.4 L44.9,63.3 L44.0,64.9 L42.8,66.2Z" fill="#85796f" stroke="#85796f" stroke-width="8.0" stroke-linejoin="round"/>
<path d="M70.0,70.8 L66.9,70.4 L63.9,69.4 L61.4,67.9 L61.3,67.4 L68.2,55.3 L74.7,56.9 L73.1,70.4Z" fill="#85796f" stroke="#85796f" stroke-width="13.4" stroke-linejoin="round"/>
<path d="M99.6,64.5 L98.6,66.3 L97.2,67.7 L95.6,68.8 L93.8,69.5 L92.0,69.7 L90.2,69.5 L88.4,68.8 L86.8,67.7 L85.4,66.3 L84.7,65.0 L85.4,58.8 L99.8,56.7 L100.3,58.3 L100.5,60.4 L100.3,62.5Z" fill="#85796f" stroke="#85796f" stroke-width="9.2" stroke-linejoin="round"/>
<path d="M38.3,4.4 L36.9,-2.3 L37.4,-3.3 L38.7,-4.9 L40.1,-6.1 L41.6,-6.7 L43.0,-6.9 L44.4,-6.7 L45.9,-6.1 L47.3,-4.9 L48.6,-3.3 L49.6,-1.3 L50.2,1.0 L44.7,6.6Z" fill="#85796f" stroke="#85796f" stroke-width="9.2" stroke-linejoin="round"/>
<path d="M63.3,5.1 L63.1,4.8 L62.7,3.3 L62.5,1.8 L62.7,0.3 L63.1,-1.2 L63.9,-2.4 L64.9,-3.5 L66.0,-4.2 L67.2,-4.7 L68.5,-4.8 L69.8,-4.7 L71.0,-4.2 L72.1,-3.5 L73.1,-2.4 L73.9,-1.2 L74.3,0.3 L74.5,1.8 L74.4,2.3Z" fill="#85796f" stroke="#85796f" stroke-width="6.8" stroke-linejoin="round"/>
<path d="M23.7,15.1 L21.8,14.0 L21.1,-1.2 L22.3,-1.6 L25.0,-1.9 L27.5,-1.6 L29.2,6.7Z" fill="#85796f" stroke="#85796f" stroke-width="10.4" stroke-linejoin="round"/>
<path d="M24.9,42.2 L24.2,42.5 L23.4,42.6 L22.6,42.5 L21.9,42.2 L21.2,41.8 L20.6,41.1 L20.2,40.4 L19.9,39.6 L19.8,38.7 L19.9,37.8 L20.2,37.0 L20.6,36.3 L21.2,35.6 L21.9,35.2 L22.6,34.9 L23.4,34.8 L24.2,34.9 L24.9,35.2 L26.7,37.2 L26.9,37.8 L27.0,38.7 L26.9,39.6 L26.6,40.4 L26.2,41.1 L25.6,41.8Z" fill="#85796f" stroke="#85796f" stroke-width="4.4" stroke-linejoin="round"/>
<path d="M76.8,24.9 L76.6,25.1 L75.8,25.6 L74.9,25.8 L74.0,25.9 L73.1,25.8 L72.2,25.6 L71.6,25.2 L70.0,23.0 L70.0,22.5 L70.1,21.8 L70.3,21.1 L70.8,20.4 L71.4,19.9 L72.2,19.4 L73.1,19.2 L74.0,19.1 L74.9,19.2 L75.8,19.4 L76.3,19.7Z" fill="#85796f" stroke="#85796f" stroke-width="4.4" stroke-linejoin="round"/>
<path d="M5.5,44.4 L4.7,45.1 L3.7,45.7 L2.6,46.1 L1.4,46.2 L0.2,46.1 L-0.9,45.7 L-1.9,45.1 L-2.7,44.4 L-3.3,43.5 L-3.7,42.4 L-3.8,41.4 L-3.7,40.4 L-3.3,39.3 L-2.7,38.4 L-1.9,37.7 L-0.9,37.1 L0.2,36.7 L1.4,36.6 L2.6,36.7 L3.7,37.1 L4.7,37.7 L5.5,38.4 L6.1,39.3 L6.5,40.4 L6.6,41.4 L6.5,42.4 L6.1,43.5Z" fill="#85796f" stroke="#85796f" stroke-width="5.6" stroke-linejoin="round"/>
<path d="M1.4,15.3 L0.7,13.8 L-0.0,11.0 L-0.3,8.0 L-0.0,5.0 L0.7,2.2 L1.9,-0.2 L3.3,-2.1 L4.9,-3.4 L6.5,-4.2 L8.0,-4.4 L9.5,-4.2 L11.0,-3.5 L11.8,13.0Z" fill="#85796f" stroke="#85796f" stroke-width="10.4" stroke-linejoin="round"/>
<path d="M103.5,6.3 L102.2,7.1 L100.6,7.5 L99.0,7.7 L98.1,7.6 L92.5,0.2 L92.7,-0.3 L93.4,-1.4 L94.5,-2.3 L95.8,-3.1 L97.4,-3.5 L99.0,-3.7 L100.6,-3.5 L102.2,-3.1 L103.5,-2.3 L104.6,-1.4 L105.3,-0.3 L105.8,0.8 L106.0,2.0 L105.8,3.2 L105.3,4.3 L104.6,5.4Z" fill="#85796f" stroke="#85796f" stroke-width="6.8" stroke-linejoin="round"/>
<path d="M6.4,25.9 L15.9,23.8 L16.4,24.1 L16.1,26.3 L11.9,30.8Z" fill="#f0e7ec" stroke="#f0e7ec" stroke-width="12.6" stroke-linejoin="round"/>
<path d="M34.0,34.4 L33.5,34.4 L27.4,27.6 L27.7,25.9 L33.6,28.7Z" fill="#f0e7ec" stroke="#f0e7ec" stroke-width="9.6" stroke-linejoin="round"/>
<path d="M49.8,28.6 L50.2,33.4 L45.0,35.7 L44.6,35.5 L44.2,28.7 L47.1,27.3Z" fill="#f0e7ec" stroke="#f0e7ec" stroke-width="10.8" stroke-linejoin="round"/>
<path d="M56.6,11.2 L57.4,16.2 L54.4,18.5 L52.2,17.4 L51.8,13.6 L55.4,9.9Z" fill="#f0e7ec" stroke="#f0e7ec" stroke-width="10.8" stroke-linejoin="round"/>
<path d="M43.3,19.0 L38.3,21.5 L33.2,19.1 L32.9,18.1 L32.8,16.6 L35.9,11.9 L42.7,14.2Z" fill="#f0e7ec" stroke="#f0e7ec" stroke-width="6.6" stroke-linejoin="round"/>
<path d="M74.7,10.0 L74.9,11.9 L67.1,14.1 L66.8,12.0Z" fill="#f0e7ec" stroke="#f0e7ec" stroke-width="8.4" stroke-linejoin="round"/>
<path d="M92.6,13.8 L84.1,10.4 L83.9,5.5 L84.8,3.5 L92.6,13.8Z" fill="#f0e7ec" stroke="#f0e7ec" stroke-width="9.6" stroke-linejoin="round"/>
<path d="M67.0,30.8 L62.0,34.4 L60.9,33.8 L60.3,27.3 L63.1,25.1Z" fill="#f0e7ec" stroke="#f0e7ec" stroke-width="9.6" stroke-linejoin="round"/>
<path d="M82.8,27.3 L82.5,27.3 L81.6,18.5 L87.2,20.7Z" fill="#f0e7ec" stroke="#f0e7ec" stroke-width="6.6" stroke-linejoin="round"/>
<path d="M99.9,33.3 L98.1,34.2 L96.0,34.8 L95.9,34.8 L87.6,33.1 L94.6,22.7 L96.0,22.8 L98.1,23.4 L99.9,24.3 L101.3,25.3 L102.2,26.5 L102.8,27.7 L102.9,28.8 L102.8,29.9 L102.2,31.1 L101.3,32.3Z" fill="#f0e7ec" stroke="#f0e7ec" stroke-width="7.2" stroke-linejoin="round"/>
<path d="M79.8,36.9 L79.8,36.9 L76.7,46.2 L68.3,44.1 L67.5,41.9 L75.3,36.3 L78.5,36.3Z" fill="#f0e7ec" stroke="#f0e7ec" stroke-width="8.4" stroke-linejoin="round"/>
<path d="M85.5,49.4 L87.9,42.1 L98.4,44.2 L98.7,46.8 L98.6,47.5Z" fill="#f0e7ec" stroke="#f0e7ec" stroke-width="9.6" stroke-linejoin="round"/>
<path d="M50.2,48.9 L50.4,46.2 L55.9,43.7 L57.3,44.5 L58.2,47.3 L54.2,54.4Z" fill="#f0e7ec" stroke="#f0e7ec" stroke-width="12.0" stroke-linejoin="round"/>
<path d="M29.1,51.1 L29.0,50.7 L34.3,44.4 L38.0,43.8 L39.3,44.6 L39.2,47.2Z" fill="#f0e7ec" stroke="#f0e7ec" stroke-width="9.6" stroke-linejoin="round"/>
<path d="M17.4,64.7 L13.5,65.1 L9.6,64.7 L5.9,63.7 L2.8,62.2 L2.2,61.7 L13.5,50.9 L18.0,53.7 L19.2,57.9 L17.8,64.6Z" fill="#f0e7ec" stroke="#f0e7ec" stroke-width="12.6" stroke-linejoin="round"/>
<path d="M41.5,67.1 L40.1,67.6 L38.7,67.8 L37.3,67.6 L35.9,67.1 L34.6,66.2 L33.4,64.9 L32.5,63.3 L32.0,61.4 L31.8,59.5 L31.8,59.4 L42.6,55.3 L45.6,59.5 L45.4,61.4 L44.9,63.3 L44.0,64.9 L42.8,66.2Z" fill="#f0e7ec" stroke="#f0e7ec" stroke-width="7.2" stroke-linejoin="round"/>
<path d="M70.0,70.8 L66.9,70.4 L63.9,69.4 L61.4,67.9 L61.3,67.4 L68.2,55.3 L74.7,56.9 L73.1,70.4Z" fill="#f0e7ec" stroke="#f0e7ec" stroke-width="12.6" stroke-linejoin="round"/>
<path d="M99.6,64.5 L98.6,66.3 L97.2,67.7 L95.6,68.8 L93.8,69.5 L92.0,69.7 L90.2,69.5 L88.4,68.8 L86.8,67.7 L85.4,66.3 L84.7,65.0 L85.4,58.8 L99.8,56.7 L100.3,58.3 L100.5,60.4 L100.3,62.5Z" fill="#f0e7ec" stroke="#f0e7ec" stroke-width="8.4" stroke-linejoin="round"/>
<path d="M38.3,4.4 L36.9,-2.3 L37.4,-3.3 L38.7,-4.9 L40.1,-6.1 L41.6,-6.7 L43.0,-6.9 L44.4,-6.7 L45.9,-6.1 L47.3,-4.9 L48.6,-3.3 L49.6,-1.3 L50.2,1.0 L44.7,6.6Z" fill="#f0e7ec" stroke="#f0e7ec" stroke-width="8.4" stroke-linejoin="round"/>
<path d="M63.3,5.1 L63.1,4.8 L62.7,3.3 L62.5,1.8 L62.7,0.3 L63.1,-1.2 L63.9,-2.4 L64.9,-3.5 L66.0,-4.2 L67.2,-4.7 L68.5,-4.8 L69.8,-4.7 L71.0,-4.2 L72.1,-3.5 L73.1,-2.4 L73.9,-1.2 L74.3,0.3 L74.5,1.8 L74.4,2.3Z" fill="#f0e7ec" stroke="#f0e7ec" stroke-width="6.0" stroke-linejoin="round"/>
<path d="M23.7,15.1 L21.8,14.0 L21.1,-1.2 L22.3,-1.6 L25.0,-1.9 L27.5,-1.6 L29.2,6.7Z" fill="#f0e7ec" stroke="#f0e7ec" stroke-width="9.6" stroke-linejoin="round"/>
<path d="M24.9,42.2 L24.2,42.5 L23.4,42.6 L22.6,42.5 L21.9,42.2 L21.2,41.8 L20.6,41.1 L20.2,40.4 L19.9,39.6 L19.8,38.7 L19.9,37.8 L20.2,37.0 L20.6,36.3 L21.2,35.6 L21.9,35.2 L22.6,34.9 L23.4,34.8 L24.2,34.9 L24.9,35.2 L26.7,37.2 L26.9,37.8 L27.0,38.7 L26.9,39.6 L26.6,40.4 L26.2,41.1 L25.6,41.8Z" fill="#f0e7ec" stroke="#f0e7ec" stroke-width="3.6" stroke-linejoin="round"/>
<path d="M76.8,24.9 L76.6,25.1 L75.8,25.6 L74.9,25.8 L74.0,25.9 L73.1,25.8 L72.2,25.6 L71.6,25.2 L70.0,23.0 L70.0,22.5 L70.1,21.8 L70.3,21.1 L70.8,20.4 L71.4,19.9 L72.2,19.4 L73.1,19.2 L74.0,19.1 L74.9,19.2 L75.8,19.4 L76.3,19.7Z" fill="#f0e7ec" stroke="#f0e7ec" stroke-width="3.6" stroke-linejoin="round"/>
<path d="M5.5,44.4 L4.7,45.1 L3.7,45.7 L2.6,46.1 L1.4,46.2 L0.2,46.1 L-0.9,45.7 L-1.9,45.1 L-2.7,44.4 L-3.3,43.5 L-3.7,42.4 L-3.8,41.4 L-3.7,40.4 L-3.3,39.3 L-2.7,38.4 L-1.9,37.7 L-0.9,37.1 L0.2,36.7 L1.4,36.6 L2.6,36.7 L3.7,37.1 L4.7,37.7 L5.5,38.4 L6.1,39.3 L6.5,40.4 L6.6,41.4 L6.5,42.4 L6.1,43.5Z" fill="#f0e7ec" stroke="#f0e7ec" stroke-width="4.8" stroke-linejoin="round"/>
<path d="M1.4,15.3 L0.7,13.8 L-0.0,11.0 L-0.3,8.0 L-0.0,5.0 L0.7,2.2 L1.9,-0.2 L3.3,-2.1 L4.9,-3.4 L6.5,-4.2 L8.0,-4.4 L9.5,-4.2 L11.0,-3.5 L11.8,13.0Z" fill="#f0e7ec" stroke="#f0e7ec" stroke-width="9.6" stroke-linejoin="round"/>
<path d="M103.5,6.3 L102.2,7.1 L100.6,7.5 L99.0,7.7 L98.1,7.6 L92.5,0.2 L92.7,-0.3 L93.4,-1.4 L94.5,-2.3 L95.8,-3.1 L97.4,-3.5 L99.0,-3.7 L100.6,-3.5 L102.2,-3.1 L103.5,-2.3 L104.6,-1.4 L105.3,-0.3 L105.8,0.8 L106.0,2.0 L105.8,3.2 L105.3,4.3 L104.6,5.4Z" fill="#f0e7ec" stroke="#f0e7ec" stroke-width="6.0" stroke-linejoin="round"/>
<ellipse cx="79.3" cy="13.8" rx="1.3" ry="0.7" fill="#5c5580" transform="rotate(126 79.3 13.8)"/>
<ellipse cx="79.5" cy="51.4" rx="1.4" ry="1.0" fill="#5c5580" transform="rotate(1 79.5 51.4)"/>
<ellipse cx="31.6" cy="39.8" rx="1.7" ry="0.9" fill="#5c5580" transform="rotate(13 31.6 39.8)"/>
<ellipse cx="12.7" cy="42.6" rx="1.7" ry="1.0" fill="#5c5580" transform="rotate(94 12.7 42.6)"/>
<ellipse cx="39.2" cy="38.5" rx="1.5" ry="1.0" fill="#5c5580" transform="rotate(120 39.2 38.5)"/>
<ellipse cx="23.5" cy="49.6" rx="1.2" ry="0.8" fill="#5c5580" transform="rotate(121 23.5 49.6)"/>
<ellipse cx="16.9" cy="16.9" rx="1.1" ry="0.8" fill="#5c5580" transform="rotate(35 16.9 16.9)"/>
<ellipse cx="56.2" cy="36.9" rx="1.3" ry="0.9" fill="#5c5580" transform="rotate(91 56.2 36.9)"/>
</g>
<g transform="translate(476,269)" clip-path="url(#k7)">
<rect x="-1" y="-1" width="102" height="68" fill="#e0d5dc"/>
<path d="M40.1,20.9 L38.5,18.6 L38.8,18.0 L47.2,17.0 L47.6,17.4Z" fill="#85796f" stroke="#85796f" stroke-width="14.8" stroke-linejoin="round"/>
<path d="M74.4,14.8 L73.7,15.8 L68.1,15.3 L71.6,11.1Z" fill="#85796f" stroke="#85796f" stroke-width="14.6" stroke-linejoin="round"/>
<path d="M84.5,25.1 L84.2,24.1 L86.1,21.1 L102.9,29.6Z" fill="#85796f" stroke="#85796f" stroke-width="12.8" stroke-linejoin="round"/>
<path d="M47.2,35.1 L45.4,33.5 L52.9,30.0 L53.1,33.6Z" fill="#85796f" stroke="#85796f" stroke-width="13.4" stroke-linejoin="round"/>
<path d="M65.2,34.5 L64.8,27.7 L73.3,28.4 L73.8,30.2 L72.5,33.6Z" fill="#85796f" stroke="#85796f" stroke-width="11.6" stroke-linejoin="round"/>
<path d="M32.5,31.3 L32.4,32.4 L28.7,35.1 L21.7,31.6 L21.0,25.6 L28.1,24.8Z" fill="#85796f" stroke="#85796f" stroke-width="10.4" stroke-linejoin="round"/>
<path d="M5.7,38.6 L3.1,38.4 L2.6,37.5 L2.0,35.0 L1.8,32.4 L2.0,29.8 L2.6,27.3 L3.6,25.2 L4.5,24.2 L11.4,24.2 L12.4,33.0Z" fill="#85796f" stroke="#85796f" stroke-width="9.2" stroke-linejoin="round"/>
<path d="M35.8,52.2 L35.8,52.2 L34.1,44.5 L34.1,44.3 L36.9,42.2 L40.1,44.9 L40.3,48.4Z" fill="#85796f" stroke="#85796f" stroke-width="11.6" stroke-linejoin="round"/>
<path d="M55.3,51.5 L50.3,48.4 L50.1,45.5 L57.6,43.7 L57.9,49.1Z" fill="#85796f" stroke="#85796f" stroke-width="9.2" stroke-linejoin="round"/>
<path d="M75.2,48.2 L73.7,50.3 L67.1,47.6 L67.0,44.9 L73.4,44.1Z" fill="#85796f" stroke="#85796f" stroke-width="10.4" stroke-linejoin="round"/>
<path d="M84.1,43.7 L81.8,38.6 L82.8,36.2 L97.0,39.6 L96.7,41.8 L96.0,43.7Z" fill="#85796f" stroke="#85796f" stroke-width="10.4" stroke-linejoin="round"/>
<path d="M8.7,52.6 L9.5,59.4 L6.8,64.9 L4.4,64.7 L1.8,63.8 L-0.4,62.5 L-2.3,60.7 L-3.7,58.6 L-4.6,56.4 L-4.8,54.0 L-4.6,51.6 L-3.7,49.4 L-2.7,47.9 L4.6,48.5Z" fill="#85796f" stroke="#85796f" stroke-width="11.6" stroke-linejoin="round"/>
<path d="M25.6,52.3 L19.0,54.5 L18.8,52.9 L25.2,50.3Z" fill="#85796f" stroke="#85796f" stroke-width="9.2" stroke-linejoin="round"/>
<path d="M28.2,72.5 L26.7,73.1 L25.2,73.3 L23.7,73.1 L22.2,72.5 L20.8,71.3 L19.5,69.8 L18.5,67.8 L17.8,65.5 L17.8,65.1 L18.4,64.0 L29.8,60.1 L31.6,61.7 L32.4,66.2 L31.9,67.8 L30.9,69.8 L29.6,71.3Z" fill="#85796f" stroke="#85796f" stroke-width="9.2" stroke-linejoin="round"/>
<path d="M49.7,69.0 L48.3,69.7 L46.8,69.9 L45.3,69.7 L43.9,69.0 L42.4,67.9 L41.3,66.5 L40.4,61.3 L46.4,56.3 L51.5,59.4 L51.5,67.5 L51.2,67.9Z" fill="#85796f" stroke="#85796f" stroke-width="9.2" stroke-linejoin="round"/>
<path d="M68.7,67.7 L66.8,68.3 L64.9,68.5 L63.0,68.3 L61.1,67.7 L60.2,67.1 L60.2,58.8 L63.2,56.1 L71.4,59.5 L71.8,65.0 L71.7,65.2 L70.3,66.6Z" fill="#85796f" stroke="#85796f" stroke-width="9.2" stroke-linejoin="round"/>
<path d="M94.8,67.3 L92.3,68.8 L89.5,69.8 L86.5,70.1 L83.5,69.8 L82.8,69.6 L81.9,58.2 L84.1,54.8 L99.3,54.8 L99.3,55.0 L99.7,57.7 L99.3,60.4 L98.4,63.0 L96.9,65.3Z" fill="#85796f" stroke="#85796f" stroke-width="12.8" stroke-linejoin="round"/>
<path d="M56.3,10.6 L56.1,10.5 L54.0,8.1 L54.5,-2.1 L54.9,-2.5 L56.3,-3.4 L57.9,-4.0 L59.5,-4.2 L61.1,-4.0 L62.7,-3.4 L64.1,-2.5 L65.3,-1.3 L66.2,0.2 L66.3,0.5 L57.5,11.1Z" fill="#85796f" stroke="#85796f" stroke-width="8.0" stroke-linejoin="round"/>
<path d="M88.9,-3.8 L90.7,-2.9 L92.1,-1.8 L92.1,-1.7 L85.1,8.1 L84.7,8.1 L82.8,8.0 L76.4,-0.6 L76.4,-0.6 L77.3,-1.8 L78.7,-2.9 L80.5,-3.8 L82.5,-4.3 L84.7,-4.5 L86.9,-4.3Z" fill="#85796f" stroke="#85796f" stroke-width="8.0" stroke-linejoin="round"/>
<path d="M36.5,6.6 L33.3,-1.9 L34.8,-3.1 L36.7,-4.2 L39.0,-4.8 L41.4,-5.1 L43.8,-4.8 L46.1,-4.2 L46.4,-4.0 L46.0,5.5Z" fill="#85796f" stroke="#85796f" stroke-width="9.2" stroke-linejoin="round"/>
<path d="M17.1,38.7 L18.0,38.6 L18.9,38.7 L19.8,39.1 L20.5,39.6 L21.2,40.3 L21.7,41.2 L22.1,42.2 L22.2,43.2 L22.1,44.2 L22.0,44.4 L15.7,46.9 L15.5,46.8 L14.8,46.1 L14.3,45.2 L13.9,44.2 L13.8,43.2 L13.9,42.2 L14.3,41.2 L14.8,40.3 L15.5,39.6 L16.2,39.1Z" fill="#85796f" stroke="#85796f" stroke-width="5.0" stroke-linejoin="round"/>
<path d="M99.2,16.7 L98.3,17.1 L93.4,14.7 L93.0,13.8 L92.5,12.3 L92.4,10.8 L92.5,9.3 L92.6,9.0 L95.7,4.7 L96.3,4.4 L97.3,4.3 L98.3,4.4 L99.2,4.9 L100.2,5.6 L101.0,6.5 L101.6,7.8 L102.1,9.3 L102.2,10.8 L102.1,12.3 L101.6,13.8 L101.0,15.1 L100.2,16.0Z" fill="#85796f" stroke="#85796f" stroke-width="6.2" stroke-linejoin="round"/>
<path d="M11.0,-3.4 L12.8,-2.7 L9.1,14.8 L2.3,14.8 L1.7,14.1 L0.5,12.1 L-0.3,9.7 L-0.6,7.2 L-0.3,4.7 L0.5,2.3 L1.7,0.3 L3.2,-1.4 L5.0,-2.7 L7.0,-3.4 L9.0,-3.7Z" fill="#85796f" stroke="#85796f" stroke-width="10.4" stroke-linejoin="round"/>
<path d="M18.3,16.4 L21.3,2.5 L22.0,2.4 L24.5,2.6 L25.8,3.0 L28.9,11.4 L27.4,15.4Z" fill="#85796f" stroke="#85796f" stroke-width="9.2" stroke-linejoin="round"/>
<path d="M40.1,20.9 L38.5,18.6 L38.8,18.0 L47.2,17.0 L47.6,17.4Z" fill="#f0e7ec" stroke="#f0e7ec" stroke-width="14.0" stroke-linejoin="round"/>
<path d="M74.4,14.8 L73.7,15.8 L68.1,15.3 L71.6,11.1Z" fill="#f0e7ec" stroke="#f0e7ec" stroke-width="13.8" stroke-linejoin="round"/>
<path d="M84.5,25.1 L84.2,24.1 L86.1,21.1 L102.9,29.6Z" fill="#f0e7ec" stroke="#f0e7ec" stroke-width="12.0" stroke-linejoin="round"/>
<path d="M47.2,35.1 L45.4,33.5 L52.9,30.0 L53.1,33.6Z" fill="#f0e7ec" stroke="#f0e7ec" stroke-width="12.6" stroke-linejoin="round"/>
<path d="M65.2,34.5 L64.8,27.7 L73.3,28.4 L73.8,30.2 L72.5,33.6Z" fill="#f0e7ec" stroke="#f0e7ec" stroke-width="10.8" stroke-linejoin="round"/>
<path d="M32.5,31.3 L32.4,32.4 L28.7,35.1 L21.7,31.6 L21.0,25.6 L28.1,24.8Z" fill="#f0e7ec" stroke="#f0e7ec" stroke-width="9.6" stroke-linejoin="round"/>
<path d="M5.7,38.6 L3.1,38.4 L2.6,37.5 L2.0,35.0 L1.8,32.4 L2.0,29.8 L2.6,27.3 L3.6,25.2 L4.5,24.2 L11.4,24.2 L12.4,33.0Z" fill="#f0e7ec" stroke="#f0e7ec" stroke-width="8.4" stroke-linejoin="round"/>
<path d="M35.8,52.2 L35.8,52.2 L34.1,44.5 L34.1,44.3 L36.9,42.2 L40.1,44.9 L40.3,48.4Z" fill="#f0e7ec" stroke="#f0e7ec" stroke-width="10.8" stroke-linejoin="round"/>
<path d="M55.3,51.5 L50.3,48.4 L50.1,45.5 L57.6,43.7 L57.9,49.1Z" fill="#f0e7ec" stroke="#f0e7ec" stroke-width="8.4" stroke-linejoin="round"/>
<path d="M75.2,48.2 L73.7,50.3 L67.1,47.6 L67.0,44.9 L73.4,44.1Z" fill="#f0e7ec" stroke="#f0e7ec" stroke-width="9.6" stroke-linejoin="round"/>
<path d="M84.1,43.7 L81.8,38.6 L82.8,36.2 L97.0,39.6 L96.7,41.8 L96.0,43.7Z" fill="#f0e7ec" stroke="#f0e7ec" stroke-width="9.6" stroke-linejoin="round"/>
<path d="M8.7,52.6 L9.5,59.4 L6.8,64.9 L4.4,64.7 L1.8,63.8 L-0.4,62.5 L-2.3,60.7 L-3.7,58.6 L-4.6,56.4 L-4.8,54.0 L-4.6,51.6 L-3.7,49.4 L-2.7,47.9 L4.6,48.5Z" fill="#f0e7ec" stroke="#f0e7ec" stroke-width="10.8" stroke-linejoin="round"/>
<path d="M25.6,52.3 L19.0,54.5 L18.8,52.9 L25.2,50.3Z" fill="#f0e7ec" stroke="#f0e7ec" stroke-width="8.4" stroke-linejoin="round"/>
<path d="M28.2,72.5 L26.7,73.1 L25.2,73.3 L23.7,73.1 L22.2,72.5 L20.8,71.3 L19.5,69.8 L18.5,67.8 L17.8,65.5 L17.8,65.1 L18.4,64.0 L29.8,60.1 L31.6,61.7 L32.4,66.2 L31.9,67.8 L30.9,69.8 L29.6,71.3Z" fill="#f0e7ec" stroke="#f0e7ec" stroke-width="8.4" stroke-linejoin="round"/>
<path d="M49.7,69.0 L48.3,69.7 L46.8,69.9 L45.3,69.7 L43.9,69.0 L42.4,67.9 L41.3,66.5 L40.4,61.3 L46.4,56.3 L51.5,59.4 L51.5,67.5 L51.2,67.9Z" fill="#f0e7ec" stroke="#f0e7ec" stroke-width="8.4" stroke-linejoin="round"/>
<path d="M68.7,67.7 L66.8,68.3 L64.9,68.5 L63.0,68.3 L61.1,67.7 L60.2,67.1 L60.2,58.8 L63.2,56.1 L71.4,59.5 L71.8,65.0 L71.7,65.2 L70.3,66.6Z" fill="#f0e7ec" stroke="#f0e7ec" stroke-width="8.4" stroke-linejoin="round"/>
<path d="M94.8,67.3 L92.3,68.8 L89.5,69.8 L86.5,70.1 L83.5,69.8 L82.8,69.6 L81.9,58.2 L84.1,54.8 L99.3,54.8 L99.3,55.0 L99.7,57.7 L99.3,60.4 L98.4,63.0 L96.9,65.3Z" fill="#f0e7ec" stroke="#f0e7ec" stroke-width="12.0" stroke-linejoin="round"/>
<path d="M56.3,10.6 L56.1,10.5 L54.0,8.1 L54.5,-2.1 L54.9,-2.5 L56.3,-3.4 L57.9,-4.0 L59.5,-4.2 L61.1,-4.0 L62.7,-3.4 L64.1,-2.5 L65.3,-1.3 L66.2,0.2 L66.3,0.5 L57.5,11.1Z" fill="#f0e7ec" stroke="#f0e7ec" stroke-width="7.2" stroke-linejoin="round"/>
<path d="M88.9,-3.8 L90.7,-2.9 L92.1,-1.8 L92.1,-1.7 L85.1,8.1 L84.7,8.1 L82.8,8.0 L76.4,-0.6 L76.4,-0.6 L77.3,-1.8 L78.7,-2.9 L80.5,-3.8 L82.5,-4.3 L84.7,-4.5 L86.9,-4.3Z" fill="#f0e7ec" stroke="#f0e7ec" stroke-width="7.2" stroke-linejoin="round"/>
<path d="M36.5,6.6 L33.3,-1.9 L34.8,-3.1 L36.7,-4.2 L39.0,-4.8 L41.4,-5.1 L43.8,-4.8 L46.1,-4.2 L46.4,-4.0 L46.0,5.5Z" fill="#f0e7ec" stroke="#f0e7ec" stroke-width="8.4" stroke-linejoin="round"/>
<path d="M17.1,38.7 L18.0,38.6 L18.9,38.7 L19.8,39.1 L20.5,39.6 L21.2,40.3 L21.7,41.2 L22.1,42.2 L22.2,43.2 L22.1,44.2 L22.0,44.4 L15.7,46.9 L15.5,46.8 L14.8,46.1 L14.3,45.2 L13.9,44.2 L13.8,43.2 L13.9,42.2 L14.3,41.2 L14.8,40.3 L15.5,39.6 L16.2,39.1Z" fill="#f0e7ec" stroke="#f0e7ec" stroke-width="4.2" stroke-linejoin="round"/>
<path d="M99.2,16.7 L98.3,17.1 L93.4,14.7 L93.0,13.8 L92.5,12.3 L92.4,10.8 L92.5,9.3 L92.6,9.0 L95.7,4.7 L96.3,4.4 L97.3,4.3 L98.3,4.4 L99.2,4.9 L100.2,5.6 L101.0,6.5 L101.6,7.8 L102.1,9.3 L102.2,10.8 L102.1,12.3 L101.6,13.8 L101.0,15.1 L100.2,16.0Z" fill="#f0e7ec" stroke="#f0e7ec" stroke-width="5.4" stroke-linejoin="round"/>
<path d="M11.0,-3.4 L12.8,-2.7 L9.1,14.8 L2.3,14.8 L1.7,14.1 L0.5,12.1 L-0.3,9.7 L-0.6,7.2 L-0.3,4.7 L0.5,2.3 L1.7,0.3 L3.2,-1.4 L5.0,-2.7 L7.0,-3.4 L9.0,-3.7Z" fill="#f0e7ec" stroke="#f0e7ec" stroke-width="9.6" stroke-linejoin="round"/>
<path d="M18.3,16.4 L21.3,2.5 L22.0,2.4 L24.5,2.6 L25.8,3.0 L28.9,11.4 L27.4,15.4Z" fill="#f0e7ec" stroke="#f0e7ec" stroke-width="8.4" stroke-linejoin="round"/>
<ellipse cx="37.6" cy="30.1" rx="1.5" ry="1.0" fill="#5c5580" transform="rotate(93 37.6 30.1)"/>
<ellipse cx="28.3" cy="44.4" rx="1.2" ry="1.0" fill="#5c5580" transform="rotate(86 28.3 44.4)"/>
<ellipse cx="55.9" cy="56.9" rx="1.5" ry="0.9" fill="#5c5580" transform="rotate(22 55.9 56.9)"/>
<ellipse cx="83.0" cy="14.5" rx="1.6" ry="0.7" fill="#5c5580" transform="rotate(56 83.0 14.5)"/>
</g>
<g transform="translate(584,269)" clip-path="url(#k8)">
<rect x="-1" y="-1" width="101.5" height="68" fill="#e0d5dc"/>
<path d="M39.3,22.6 L38.4,22.1 L37.8,20.6 L41.3,16.8 L42.9,18.1 L42.6,21.0Z" fill="#85796f" stroke="#85796f" stroke-width="13.4" stroke-linejoin="round"/>
<path d="M64.2,22.6 L63.5,26.6 L59.4,27.8 L53.2,23.3 L53.7,18.5 L59.6,16.6Z" fill="#85796f" stroke="#85796f" stroke-width="9.2" stroke-linejoin="round"/>
<path d="M82.3,25.7 L75.0,28.4 L74.1,27.6 L74.4,25.6 L80.4,22.5Z" fill="#85796f" stroke="#85796f" stroke-width="12.8" stroke-linejoin="round"/>
<path d="M92.1,22.5 L87.5,15.1 L87.6,14.0 L88.1,12.0 L89.0,10.2 L90.1,8.8 L91.3,7.9 L92.5,7.3 L93.7,7.2 L94.9,7.3 L96.1,7.9 L97.3,8.8 L98.4,10.2 L99.3,12.0 L99.8,14.0 L100.0,16.2 L99.8,18.4 L99.3,20.4 L98.5,22.0Z" fill="#85796f" stroke="#85796f" stroke-width="8.0" stroke-linejoin="round"/>
<path d="M79.3,6.4 L79.7,7.9 L78.8,11.5 L70.1,15.9 L66.0,10.5 L68.3,2.2 L68.6,2.0 L70.3,1.3 L72.0,1.1 L73.7,1.3 L75.4,2.0 L76.9,3.1 L78.2,4.6Z" fill="#85796f" stroke="#85796f" stroke-width="9.2" stroke-linejoin="round"/>
<path d="M56.7,7.1 L50.8,9.0 L45.8,4.9 L44.7,-2.8 L46.5,-3.8 L49.3,-4.7 L52.3,-5.0 L55.3,-4.7 L58.1,-3.8 L59.4,-3.1Z" fill="#85796f" stroke="#85796f" stroke-width="11.6" stroke-linejoin="round"/>
<path d="M29.1,39.5 L28.2,37.7 L33.5,33.5 L33.8,40.3 L33.4,40.8Z" fill="#85796f" stroke="#85796f" stroke-width="11.6" stroke-linejoin="round"/>
<path d="M43.7,38.2 L43.4,32.6 L48.1,30.4 L53.1,34.1 L51.1,38.6Z" fill="#85796f" stroke="#85796f" stroke-width="9.2" stroke-linejoin="round"/>
<path d="M60.4,44.0 L60.0,43.1 L62.6,37.2 L66.0,36.2 L68.4,38.3 L69.1,43.6 L67.6,45.2Z" fill="#85796f" stroke="#85796f" stroke-width="11.6" stroke-linejoin="round"/>
<path d="M80.5,40.7 L80.4,39.6 L83.8,38.3 L85.1,42.2Z" fill="#85796f" stroke="#85796f" stroke-width="12.8" stroke-linejoin="round"/>
<path d="M4.2,38.9 L-2.4,38.2 L-2.4,38.1 L-2.5,37.3 L7.6,36.4Z" fill="#85796f" stroke="#85796f" stroke-width="11.6" stroke-linejoin="round"/>
<path d="M10.6,63.2 L8.1,63.5 L5.6,63.2 L3.2,62.4 L1.1,61.2 L-0.6,59.7 L-1.9,57.9 L-2.6,56.0 L-2.9,54.0 L-2.6,52.0 L-1.9,50.1 L-1.1,48.9 L4.0,49.5 L11.7,54.6 L11.7,62.9Z" fill="#85796f" stroke="#85796f" stroke-width="10.4" stroke-linejoin="round"/>
<path d="M31.3,50.6 L31.4,51.1 L23.5,62.2 L23.0,62.2 L21.0,61.5 L21.0,53.8 L26.2,49.1Z" fill="#85796f" stroke="#85796f" stroke-width="9.2" stroke-linejoin="round"/>
<path d="M51.1,48.9 L48.1,54.7 L40.6,49.3 L40.5,48.7 L41.6,47.4 L50.6,47.9Z" fill="#85796f" stroke="#85796f" stroke-width="10.4" stroke-linejoin="round"/>
<path d="M77.7,58.8 L77.2,53.7 L81.2,55.0 L82.0,59.1 L80.1,62.8Z" fill="#85796f" stroke="#85796f" stroke-width="14.8" stroke-linejoin="round"/>
<path d="M66.9,57.9 L55.5,58.9 L58.6,52.8 L66.5,54.2Z" fill="#85796f" stroke="#85796f" stroke-width="7.4" stroke-linejoin="round"/>
<path d="M43.4,68.1 L41.7,68.9 L39.8,69.5 L37.8,69.7 L35.8,69.5 L33.9,68.9 L32.2,68.1 L30.9,66.9 L30.5,66.4 L36.9,57.5 L46.1,64.1 L46.1,64.6 L45.6,65.7 L44.7,66.9Z" fill="#85796f" stroke="#85796f" stroke-width="8.0" stroke-linejoin="round"/>
<path d="M27.7,25.2 L27.8,27.0 L27.8,27.2 L20.9,32.7 L19.8,31.0 L19.6,30.4 L19.1,28.8 L19.0,27.0 L19.0,26.7 L19.3,24.8 L19.6,23.6 L20.2,22.2 L21.0,21.1 L21.8,20.4 L22.6,20.0 L22.7,20.0 L25.5,20.8 L25.8,21.1 L26.6,22.2 L27.2,23.6Z" fill="#85796f" stroke="#85796f" stroke-width="6.2" stroke-linejoin="round"/>
<path d="M100.0,39.5 L98.6,40.1 L97.1,40.6 L95.5,40.7 L94.1,40.6 L91.3,32.4 L92.4,31.9 L93.9,31.4 L95.5,31.3 L97.1,31.4 L98.6,31.9 L100.0,32.5 L101.0,33.3 L101.7,34.2 L102.1,35.1 L102.2,36.0 L102.1,36.9 L101.7,37.8 L101.0,38.7Z" fill="#85796f" stroke="#85796f" stroke-width="6.2" stroke-linejoin="round"/>
<path d="M16.7,48.0 L16.0,48.3 L15.4,48.4 L12.5,46.4 L12.1,45.6 L11.8,44.5 L11.7,43.2 L11.7,43.1 L17.4,39.0 L17.4,39.0 L18.0,39.8 L18.5,40.8 L18.8,41.9 L18.9,43.2 L18.8,44.5 L18.5,45.6 L18.0,46.6 L17.4,47.4Z" fill="#85796f" stroke="#85796f" stroke-width="5.0" stroke-linejoin="round"/>
<path d="M12.3,26.5 L2.2,27.5 L2.0,27.0 L1.8,25.2 L2.0,23.4 L2.6,21.6 L3.1,20.7 L13.1,20.1Z" fill="#85796f" stroke="#85796f" stroke-width="8.0" stroke-linejoin="round"/>
<path d="M28.8,14.3 L22.6,12.4 L23.1,2.2 L24.8,1.2 L26.7,0.5 L28.8,0.3 L30.9,0.5 L32.8,1.2 L34.5,2.2 L35.5,3.2 L36.0,6.5Z" fill="#85796f" stroke="#85796f" stroke-width="9.2" stroke-linejoin="round"/>
<path d="M102.7,54.6 L102.0,55.6 L101.8,55.8 L94.0,56.8 L93.5,56.5 L92.6,55.6 L91.9,54.6 L91.5,53.5 L91.4,52.3 L91.5,51.1 L91.9,50.0 L92.6,49.0 L93.5,48.1 L94.7,47.5 L95.8,47.1 L97.5,46.9 L98.7,47.1 L99.9,47.5 L101.1,48.1 L102.0,49.0 L102.7,50.0 L103.1,51.1 L103.2,52.3 L103.1,53.5Z" fill="#85796f" stroke="#85796f" stroke-width="6.2" stroke-linejoin="round"/>
<path d="M10.1,-0.5 L12.0,0.2 L13.7,1.2 L14.3,1.8 L13.9,11.9 L0.4,12.7 L-0.2,11.7 L-0.9,9.9 L-1.1,8.0 L-0.9,6.1 L-0.2,4.3 L0.9,2.6 L2.3,1.2 L4.0,0.2 L5.9,-0.5 L8.0,-0.7Z" fill="#85796f" stroke="#85796f" stroke-width="9.2" stroke-linejoin="round"/>
<path d="M103.6,61.8 L104.4,63.0 L104.8,64.5 L105.0,66.0 L104.8,67.5 L104.4,69.0 L103.6,70.2 L102.7,71.3 L101.5,72.0 L100.3,72.5 L99.0,72.6 L97.7,72.5 L96.5,72.0 L95.3,71.3 L94.4,70.2 L93.6,69.0 L93.2,67.5 L93.0,66.0 L93.2,64.5 L93.6,63.0 L93.7,62.9 L103.5,61.7Z" fill="#85796f" stroke="#85796f" stroke-width="6.8" stroke-linejoin="round"/>
<path d="M65.9,69.2 L64.7,69.7 L63.4,70.1 L62.0,70.2 L60.6,70.1 L59.3,69.7 L58.1,69.2 L57.2,68.4 L56.6,67.6 L56.2,66.8 L56.1,66.0 L56.2,65.2 L56.4,64.9 L67.1,64.0 L67.4,64.4 L67.8,65.2 L67.9,66.0 L67.8,66.8 L67.4,67.6 L66.8,68.4Z" fill="#85796f" stroke="#85796f" stroke-width="5.6" stroke-linejoin="round"/>
<path d="M39.3,22.6 L38.4,22.1 L37.8,20.6 L41.3,16.8 L42.9,18.1 L42.6,21.0Z" fill="#f0e7ec" stroke="#f0e7ec" stroke-width="12.6" stroke-linejoin="round"/>
<path d="M64.2,22.6 L63.5,26.6 L59.4,27.8 L53.2,23.3 L53.7,18.5 L59.6,16.6Z" fill="#f0e7ec" stroke="#f0e7ec" stroke-width="8.4" stroke-linejoin="round"/>
<path d="M82.3,25.7 L75.0,28.4 L74.1,27.6 L74.4,25.6 L80.4,22.5Z" fill="#f0e7ec" stroke="#f0e7ec" stroke-width="12.0" stroke-linejoin="round"/>
<path d="M92.1,22.5 L87.5,15.1 L87.6,14.0 L88.1,12.0 L89.0,10.2 L90.1,8.8 L91.3,7.9 L92.5,7.3 L93.7,7.2 L94.9,7.3 L96.1,7.9 L97.3,8.8 L98.4,10.2 L99.3,12.0 L99.8,14.0 L100.0,16.2 L99.8,18.4 L99.3,20.4 L98.5,22.0Z" fill="#f0e7ec" stroke="#f0e7ec" stroke-width="7.2" stroke-linejoin="round"/>
<path d="M79.3,6.4 L79.7,7.9 L78.8,11.5 L70.1,15.9 L66.0,10.5 L68.3,2.2 L68.6,2.0 L70.3,1.3 L72.0,1.1 L73.7,1.3 L75.4,2.0 L76.9,3.1 L78.2,4.6Z" fill="#f0e7ec" stroke="#f0e7ec" stroke-width="8.4" stroke-linejoin="round"/>
<path d="M56.7,7.1 L50.8,9.0 L45.8,4.9 L44.7,-2.8 L46.5,-3.8 L49.3,-4.7 L52.3,-5.0 L55.3,-4.7 L58.1,-3.8 L59.4,-3.1Z" fill="#f0e7ec" stroke="#f0e7ec" stroke-width="10.8" stroke-linejoin="round"/>
<path d="M29.1,39.5 L28.2,37.7 L33.5,33.5 L33.8,40.3 L33.4,40.8Z" fill="#f0e7ec" stroke="#f0e7ec" stroke-width="10.8" stroke-linejoin="round"/>
<path d="M43.7,38.2 L43.4,32.6 L48.1,30.4 L53.1,34.1 L51.1,38.6Z" fill="#f0e7ec" stroke="#f0e7ec" stroke-width="8.4" stroke-linejoin="round"/>
<path d="M60.4,44.0 L60.0,43.1 L62.6,37.2 L66.0,36.2 L68.4,38.3 L69.1,43.6 L67.6,45.2Z" fill="#f0e7ec" stroke="#f0e7ec" stroke-width="10.8" stroke-linejoin="round"/>
<path d="M80.5,40.7 L80.4,39.6 L83.8,38.3 L85.1,42.2Z" fill="#f0e7ec" stroke="#f0e7ec" stroke-width="12.0" stroke-linejoin="round"/>
<path d="M4.2,38.9 L-2.4,38.2 L-2.4,38.1 L-2.5,37.3 L7.6,36.4Z" fill="#f0e7ec" stroke="#f0e7ec" stroke-width="10.8" stroke-linejoin="round"/>
<path d="M10.6,63.2 L8.1,63.5 L5.6,63.2 L3.2,62.4 L1.1,61.2 L-0.6,59.7 L-1.9,57.9 L-2.6,56.0 L-2.9,54.0 L-2.6,52.0 L-1.9,50.1 L-1.1,48.9 L4.0,49.5 L11.7,54.6 L11.7,62.9Z" fill="#f0e7ec" stroke="#f0e7ec" stroke-width="9.6" stroke-linejoin="round"/>
<path d="M31.3,50.6 L31.4,51.1 L23.5,62.2 L23.0,62.2 L21.0,61.5 L21.0,53.8 L26.2,49.1Z" fill="#f0e7ec" stroke="#f0e7ec" stroke-width="8.4" stroke-linejoin="round"/>
<path d="M51.1,48.9 L48.1,54.7 L40.6,49.3 L40.5,48.7 L41.6,47.4 L50.6,47.9Z" fill="#f0e7ec" stroke="#f0e7ec" stroke-width="9.6" stroke-linejoin="round"/>
<path d="M77.7,58.8 L77.2,53.7 L81.2,55.0 L82.0,59.1 L80.1,62.8Z" fill="#f0e7ec" stroke="#f0e7ec" stroke-width="14.0" stroke-linejoin="round"/>
<path d="M66.9,57.9 L55.5,58.9 L58.6,52.8 L66.5,54.2Z" fill="#f0e7ec" stroke="#f0e7ec" stroke-width="6.6" stroke-linejoin="round"/>
<path d="M43.4,68.1 L41.7,68.9 L39.8,69.5 L37.8,69.7 L35.8,69.5 L33.9,68.9 L32.2,68.1 L30.9,66.9 L30.5,66.4 L36.9,57.5 L46.1,64.1 L46.1,64.6 L45.6,65.7 L44.7,66.9Z" fill="#f0e7ec" stroke="#f0e7ec" stroke-width="7.2" stroke-linejoin="round"/>
<path d="M27.7,25.2 L27.8,27.0 L27.8,27.2 L20.9,32.7 L19.8,31.0 L19.6,30.4 L19.1,28.8 L19.0,27.0 L19.0,26.7 L19.3,24.8 L19.6,23.6 L20.2,22.2 L21.0,21.1 L21.8,20.4 L22.6,20.0 L22.7,20.0 L25.5,20.8 L25.8,21.1 L26.6,22.2 L27.2,23.6Z" fill="#f0e7ec" stroke="#f0e7ec" stroke-width="5.4" stroke-linejoin="round"/>
<path d="M100.0,39.5 L98.6,40.1 L97.1,40.6 L95.5,40.7 L94.1,40.6 L91.3,32.4 L92.4,31.9 L93.9,31.4 L95.5,31.3 L97.1,31.4 L98.6,31.9 L100.0,32.5 L101.0,33.3 L101.7,34.2 L102.1,35.1 L102.2,36.0 L102.1,36.9 L101.7,37.8 L101.0,38.7Z" fill="#f0e7ec" stroke="#f0e7ec" stroke-width="5.4" stroke-linejoin="round"/>
<path d="M16.7,48.0 L16.0,48.3 L15.4,48.4 L12.5,46.4 L12.1,45.6 L11.8,44.5 L11.7,43.2 L11.7,43.1 L17.4,39.0 L17.4,39.0 L18.0,39.8 L18.5,40.8 L18.8,41.9 L18.9,43.2 L18.8,44.5 L18.5,45.6 L18.0,46.6 L17.4,47.4Z" fill="#f0e7ec" stroke="#f0e7ec" stroke-width="4.2" stroke-linejoin="round"/>
<path d="M12.3,26.5 L2.2,27.5 L2.0,27.0 L1.8,25.2 L2.0,23.4 L2.6,21.6 L3.1,20.7 L13.1,20.1Z" fill="#f0e7ec" stroke="#f0e7ec" stroke-width="7.2" stroke-linejoin="round"/>
<path d="M28.8,14.3 L22.6,12.4 L23.1,2.2 L24.8,1.2 L26.7,0.5 L28.8,0.3 L30.9,0.5 L32.8,1.2 L34.5,2.2 L35.5,3.2 L36.0,6.5Z" fill="#f0e7ec" stroke="#f0e7ec" stroke-width="8.4" stroke-linejoin="round"/>
<path d="M102.7,54.6 L102.0,55.6 L101.8,55.8 L94.0,56.8 L93.5,56.5 L92.6,55.6 L91.9,54.6 L91.5,53.5 L91.4,52.3 L91.5,51.1 L91.9,50.0 L92.6,49.0 L93.5,48.1 L94.7,47.5 L95.8,47.1 L97.5,46.9 L98.7,47.1 L99.9,47.5 L101.1,48.1 L102.0,49.0 L102.7,50.0 L103.1,51.1 L103.2,52.3 L103.1,53.5Z" fill="#f0e7ec" stroke="#f0e7ec" stroke-width="5.4" stroke-linejoin="round"/>
<path d="M10.1,-0.5 L12.0,0.2 L13.7,1.2 L14.3,1.8 L13.9,11.9 L0.4,12.7 L-0.2,11.7 L-0.9,9.9 L-1.1,8.0 L-0.9,6.1 L-0.2,4.3 L0.9,2.6 L2.3,1.2 L4.0,0.2 L5.9,-0.5 L8.0,-0.7Z" fill="#f0e7ec" stroke="#f0e7ec" stroke-width="8.4" stroke-linejoin="round"/>
<path d="M103.6,61.8 L104.4,63.0 L104.8,64.5 L105.0,66.0 L104.8,67.5 L104.4,69.0 L103.6,70.2 L102.7,71.3 L101.5,72.0 L100.3,72.5 L99.0,72.6 L97.7,72.5 L96.5,72.0 L95.3,71.3 L94.4,70.2 L93.6,69.0 L93.2,67.5 L93.0,66.0 L93.2,64.5 L93.6,63.0 L93.7,62.9 L103.5,61.7Z" fill="#f0e7ec" stroke="#f0e7ec" stroke-width="6.0" stroke-linejoin="round"/>
<path d="M65.9,69.2 L64.7,69.7 L63.4,70.1 L62.0,70.2 L60.6,70.1 L59.3,69.7 L58.1,69.2 L57.2,68.4 L56.6,67.6 L56.2,66.8 L56.1,66.0 L56.2,65.2 L56.4,64.9 L67.1,64.0 L67.4,64.4 L67.8,65.2 L67.9,66.0 L67.8,66.8 L67.4,67.6 L66.8,68.4Z" fill="#f0e7ec" stroke="#f0e7ec" stroke-width="4.8" stroke-linejoin="round"/>
<ellipse cx="56.6" cy="48.9" rx="1.5" ry="0.8" fill="#5c5580" transform="rotate(3 56.6 48.9)"/>
<ellipse cx="73.6" cy="35.5" rx="1.1" ry="0.9" fill="#5c5580" transform="rotate(126 73.6 35.5)"/>
<ellipse cx="49.7" cy="15.3" rx="1.5" ry="0.8" fill="#5c5580" transform="rotate(40 49.7 15.3)"/>
<ellipse cx="30.2" cy="19.2" rx="1.0" ry="0.7" fill="#5c5580" transform="rotate(24 30.2 19.2)"/>
<ellipse cx="15.7" cy="30.0" rx="1.5" ry="0.8" fill="#5c5580" transform="rotate(63 15.7 30.0)"/>
<ellipse cx="5.8" cy="44.7" rx="1.2" ry="0.8" fill="#5c5580" transform="rotate(169 5.8 44.7)"/>
<ellipse cx="90.1" cy="26.5" rx="1.7" ry="1.1" fill="#5c5580" transform="rotate(130 90.1 26.5)"/>
</g>
<rect x="476" y="194" width="25.6" height="20.9" fill="#fff"/>
<text x="487.5" y="208.3" font-size="8.8" text-anchor="middle" fill="#222">C</text>
<rect x="584" y="194" width="28.0" height="20.5" fill="#fff"/>
<text x="597.5" y="208.5" font-size="8.8" text-anchor="middle" fill="#222">CC</text>
<rect x="476" y="269" width="26.2" height="19.2" fill="#fff"/>
<text x="487.5" y="282.8" font-size="8.8" text-anchor="middle" fill="#222">H</text>
<rect x="584" y="269" width="27.8" height="19.4" fill="#fff"/>
<text x="597.7" y="282.2" font-size="8.8" text-anchor="middle" fill="#222">HC</text>
<rect x="548.3" y="258.6" width="26.0" height="1.8" fill="#111"/>
<rect x="656.1" y="258.6" width="25.899999999999977" height="1.8" fill="#111"/>
<rect x="548.5" y="333" width="25.799999999999955" height="1.8" fill="#111"/>
<rect x="656.5" y="333" width="25.5" height="1.8" fill="#111"/>
</svg>
</body></html>
